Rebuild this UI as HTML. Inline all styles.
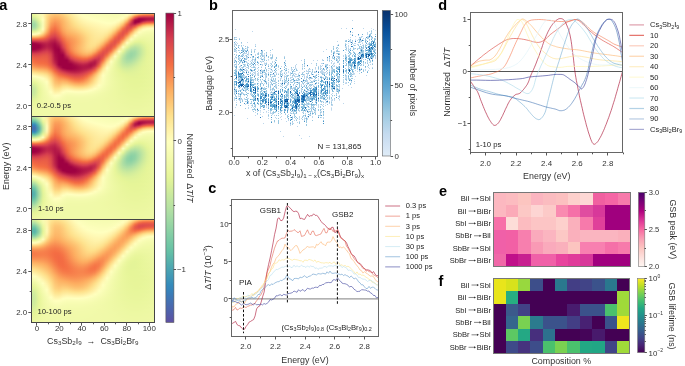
<!DOCTYPE html>
<html><head><meta charset="utf-8"><style>
html,body{margin:0;padding:0;background:#fff;}
body{width:685px;height:366px;overflow:hidden;position:relative;font-family:"Liberation Sans",sans-serif;}
.hm{position:absolute;width:124px;height:103.1px;overflow:hidden;}
.hm i{display:block;height:1.001px;}
svg{position:absolute;left:0;top:0;will-change:transform;}
text{font-family:"Liberation Sans",sans-serif;white-space:pre;}
</style></head><body>
<div class="hm" style="left:31.0px;top:13.10px"><i style="background:linear-gradient(90deg,#ebf7a0,#eff9a6,#f8fcb5,#fff7b1,#fee593,#fed581,#fecd7b,#fecf7d,#feda86,#fee593,#feefa4,#fff8b2,#ffffbe,#fcfebb,#fafdb8,#f9fdb6,#f9fcb5,#f8fcb4,#f7fcb3,#f7fcb2,#f6fbb1,#f5fbb0,#f6fbb0,#f7fcb2,#fafdb7,#fffab7,#fee695,#fecf7d,#fdc271,#fdbc6d,#fdba6b,#fdba6b)"></i><i style="background:linear-gradient(90deg,#e8f69c,#edf8a2,#f7fcb2,#fff7b1,#fee28f,#fece7c,#fdc575,#fec877,#fed380,#fee18d,#feec9e,#fff5ae,#fffcbb,#fdfebd,#fbfeb9,#fafdb8,#f9fdb6,#f9fcb5,#f8fcb4,#f7fcb3,#f7fcb2,#f6fbb1,#f6fcb2,#f8fcb4,#fdfebb,#fff0a7,#fecf7c,#fdad61,#fa9a58,#f99354,#f99153,#f99053)"></i><i style="background:linear-gradient(90deg,#e4f498,#e9f69d,#f5fbaf,#fff7b2,#fee08b,#fec877,#fdbe6f,#fdc271,#fecd7b,#fedd88,#fee99a,#fff2aa,#fffab7,#ffffbe,#fdfebb,#fbfdb9,#fafdb8,#fafdb7,#f9fdb5,#f8fcb4,#f7fcb3,#f7fcb2,#f7fcb3,#fafdb7,#fffdbc,#fee492,#fdaf62,#f67c4a,#f36b44,#f06745,#ef6545,#ef6545)"></i><i style="background:linear-gradient(90deg,#dcf19a,#e6f598,#f2faab,#fff8b4,#fedd89,#fdc272,#fdb869,#fdbb6c,#fec876,#fed884,#fee695,#fff0a6,#fff8b3,#fffebd,#fefebd,#fcfebb,#fbfeb9,#fafdb8,#fafdb7,#f9fdb5,#f8fcb4,#f8fcb4,#f9fcb5,#fcfeba,#fff6b0,#fed07e,#f7824d,#e35449,#dd4a4c,#db484d,#db474d,#db474d)"></i><i style="background:linear-gradient(90deg,#d3ed9c,#dcf19a,#f0f9a7,#fffab7,#fedb87,#fdbd6e,#fdb264,#fdb667,#fdc372,#fed481,#fee491,#feeea2,#fff6b0,#fffcba,#ffffbe,#fdfebc,#fcfebb,#fbfeb9,#fbfdb8,#fafdb7,#f9fdb6,#f9fcb5,#fafdb7,#feffbd,#feeea2,#fdb869,#e85b48,#c82f4c,#c2294b,#c42b4b,#c42b4b,#c42b4b)"></i><i style="background:linear-gradient(90deg,#c9e99e,#d3ed9c,#ecf8a2,#fffcba,#feda86,#fdb869,#fdab60,#fdb163,#fdbf6f,#fed07e,#fee18d,#feec9e,#fff4ac,#fffab6,#fffebd,#feffbe,#fdfebc,#fcfebb,#fbfeb9,#fbfdb8,#fafdb7,#fafdb7,#fbfeb9,#fffcba,#fee492,#fa9957,#d33c4f,#a90d45,#ad1145,#b31847,#b51a47,#b51a47)"></i><i style="background:linear-gradient(90deg,#c0e5a0,#c8e99e,#e9f69d,#ffffbe,#fed885,#fdb466,#fca45d,#fdac60,#fdbb6c,#fecd7b,#fedf8a,#feea9b,#fff2a9,#fff8b3,#fffcba,#fffebe,#feffbe,#fdfebc,#fcfebb,#fbfeb9,#fbfdb8,#fbfdb9,#fdfebc,#fff6b0,#fed682,#f57848,#b61c48,#9e0142,#a50844,#b01546,#b31947,#b41947)"></i><i style="background:linear-gradient(90deg,#b6e2a2,#bfe5a0,#e6f598,#feffbd,#fed884,#fdaf62,#fb9e5a,#fca65d,#fdb869,#feca79,#fedc88,#fee898,#fff0a5,#fff6b0,#fffab6,#fffcbb,#fffebe,#feffbe,#fdfebc,#fcfebb,#fcfeba,#fcfebb,#fffebe,#feefa4,#fdc373,#eb5f47,#a30643,#9e0142,#ab1045,#bc2349,#c1274a,#c2284a)"></i><i style="background:linear-gradient(90deg,#aedea3,#b5e1a2,#dff299,#fcfebb,#fed783,#fdab5f,#fa9857,#fba25b,#fdb567,#fec877,#fed985,#fee694,#feeea2,#fff4ac,#fff8b3,#fffbb8,#fffdbb,#ffffbe,#feffbe,#fdfebc,#fdfebc,#feffbd,#fffab6,#fee797,#fdb063,#df4d4b,#9e0142,#9e0142,#c0264a,#d53e4f,#d8424e,#d9434e)"></i><i style="background:linear-gradient(90deg,#a6dba4,#aedea3,#d9f09b,#fbfdb9,#fed683,#fca55d,#f99254,#fb9e59,#fdb366,#fdc675,#fed783,#fee491,#feec9f,#fff2a9,#fff6b0,#fff9b4,#fffbb8,#fffdbb,#ffffbf,#feffbe,#feffbd,#fffebe,#fff5ae,#fede89,#fa9957,#d6404e,#9e0142,#af1446,#da464d,#e85a48,#eb5f46,#ec6146)"></i><i style="background:linear-gradient(90deg,#a0d9a4,#a7dca4,#d4ee9c,#fafdb8,#fed582,#fba05b,#f88c51,#fa9a58,#fdb264,#fdc474,#fed481,#fee28e,#feea9b,#fff0a5,#fff4ac,#fff7b1,#fff9b5,#fffbb9,#fffdbc,#ffffbe,#ffffbe,#fffbb8,#feefa4,#fecf7c,#f7824d,#ce374d,#aa0f45,#cd354d,#ef6545,#f77f4b,#f8874f,#f88950)"></i><i style="background:linear-gradient(90deg,#9dd8a4,#a3daa4,#d1ed9c,#fafdb7,#fed380,#fa9b58,#f8874f,#fa9656,#fdb063,#fdc372,#fed27f,#fee08b,#fee898,#feeda1,#fff2a9,#fff5ae,#fff7b2,#fff9b6,#fffbb9,#fffdbb,#fffcba,#fff7b2,#fee899,#fdbf6f,#f46e43,#cb334d,#bf264a,#e55649,#f98f52,#fdac60,#fdb264,#fdb366)"></i><i style="background:linear-gradient(90deg,#9dd8a4,#a2daa4,#d0ec9c,#fafdb7,#fed17f,#fa9656,#f7814c,#f99354,#fdaf62,#fdc171,#fed07d,#fedd88,#fee594,#feeb9e,#fff0a5,#fff3ab,#fff6af,#fff8b3,#fffab6,#fffbb8,#fffab6,#fff3ab,#fee18d,#fdaf62,#ec6146,#ce364d,#d7424e,#f67848,#fdb768,#fecb7a,#fed17e,#fed27f)"></i><i style="background:linear-gradient(90deg,#a1d9a4,#a5dba4,#d2ed9c,#fafdb8,#fece7c,#f99053,#f67b4a,#f98f53,#fdad61,#fdbf70,#fecd7b,#feda86,#fee390,#fee99a,#feeea2,#fff1a8,#fff4ad,#fff6b0,#fff8b4,#fff9b5,#fff7b1,#feeea2,#fed582,#fa9a58,#e65749,#d63f4f,#e75a48,#fba25b,#fed380,#fee491,#fee796,#fee898)"></i><i style="background:linear-gradient(90deg,#a8dca4,#abdda4,#d6ef9b,#fcfeba,#fecb79,#f88a50,#f57547,#f88b51,#fdab60,#fdbe6e,#fecb79,#fed683,#fee18c,#fee796,#feec9e,#feefa5,#fff2aa,#fff5ae,#fff7b1,#fff7b2,#fff4ac,#fee999,#fec877,#f8864f,#e1504a,#dc494c,#f57446,#fdc171,#fee796,#fff1a7,#fff4ac,#fff4ad)"></i><i style="background:linear-gradient(90deg,#b2e0a3,#b4e1a2,#ddf19a,#fefebd,#fdc675,#f7834d,#f46f44,#f8874f,#fca85e,#fdbc6c,#fec876,#fed27f,#fedd88,#fee492,#feea9b,#feeea2,#fff1a7,#fff3ab,#fff5ae,#fff5ae,#fff0a6,#fee38f,#fdba6b,#f57446,#df4d4b,#e45549,#f99555,#fed985,#fff2aa,#fffbb8,#fffdbc,#fffebd)"></i><i style="background:linear-gradient(90deg,#bfe5a0,#c0e6a0,#e6f598,#fffdbb,#fdc070,#f67c4a,#f26a44,#f7824d,#fca55d,#fdb96a,#fdc474,#fece7c,#fed985,#fee28e,#fee898,#feec9f,#feefa5,#fff2a9,#fff3ac,#fff3aa,#feeda0,#feda86,#fdab5f,#f06745,#df4d4b,#ee6445,#fdb164,#fee898,#fffbb9,#fdfebc,#fcfeba,#fcfeba)"></i><i style="background:linear-gradient(90deg,#ceeb9d,#d0ec9d,#ebf7a1,#fff6b1,#fdba6b,#f57547,#ee6545,#f67d4a,#fba25b,#fdb668,#fdc171,#feca78,#fed481,#fedf8a,#fee694,#feea9d,#feeea3,#fff1a7,#fff2a9,#fff0a6,#fee899,#fecf7c,#fa9857,#ea5e47,#e1504b,#f57647,#fdc675,#fff2a9,#fdfebc,#fafdb7,#f9fdb5,#f9fcb5)"></i><i style="background:linear-gradient(90deg,#e1f399,#e2f399,#f2faaa,#feefa4,#fdb264,#f46d43,#eb5f47,#f57748,#fb9d59,#fdb365,#fdbd6d,#fdc575,#fed07e,#fedb87,#fee491,#fee99a,#feeda1,#fff0a5,#fff0a7,#feeea2,#fee491,#fdc372,#f8874f,#e65749,#e45549,#f88c51,#fed884,#fffab6,#fafdb7,#f7fcb3,#f7fcb2,#f6fcb2)"></i><i style="background:linear-gradient(90deg,#edf8a3,#edf8a3,#f9fdb6,#fee695,#fca75e,#f06645,#e75a48,#f47045,#fa9857,#fdaf62,#fdb86a,#fdc171,#fecc7a,#fed884,#fee28e,#fee898,#feec9f,#feeea3,#feefa4,#feeb9d,#fede89,#fdb668,#f57647,#e3534a,#ea5e47,#fba35c,#fee594,#feffbe,#f8fcb3,#f5fbb0,#f5fbaf,#f5fbaf)"></i><i style="background:linear-gradient(90deg,#f7fcb3,#f7fcb2,#fffbb9,#feda86,#fa9a58,#eb6046,#e35449,#f26a44,#f99254,#fdab5f,#fdb466,#fdbc6d,#fec776,#fed481,#fee08b,#fee696,#feeb9d,#feeda1,#feeda1,#fee898,#fed582,#fca85e,#f26944,#e2524a,#f16844,#fdb768,#feeea3,#fbfdb9,#f6fbb0,#f4fbae,#f3faad,#f3faad)"></i><i style="background:linear-gradient(90deg,#fffab7,#fffbb8,#feec9f,#fec877,#f88c51,#e75948,#df4d4b,#ee6445,#f88c51,#fca55d,#fdb062,#fdb869,#fdc373,#fed17e,#fede89,#fee594,#feea9c,#feeca0,#feeb9e,#fee492,#fecb79,#fa9857,#ec6046,#e3534a,#f67848,#fec877,#fff7b1,#f8fcb4,#f4faad,#f2faab,#f2faab,#f2faab)"></i><i style="background:linear-gradient(90deg,#fee796,#fee798,#fed985,#fdb567,#f67c4a,#e2514a,#db474d,#ea5e47,#f7854e,#fb9f5a,#fdaa5f,#fdb365,#fdbf6f,#fecd7b,#fedc87,#fee492,#fee99a,#feeb9e,#fee99b,#fee08c,#fdc070,#f8884f,#e75a48,#e65749,#f88b51,#fed985,#fffebe,#f5fbb0,#f2faab,#f1f9a9,#f1f9a9,#f1faaa)"></i><i style="background:linear-gradient(90deg,#feca79,#fecc7a,#fdbe6e,#fb9e5a,#f46d43,#dd4a4c,#d6404e,#e65848,#f67d4b,#fa9957,#fca55d,#fdaf62,#fdbc6c,#fecb79,#feda86,#fee491,#fee999,#feea9c,#fee797,#fed985,#fdb567,#f67848,#e45549,#ea5e47,#fba05a,#fee694,#fbfeb9,#f3faac,#f0f9a8,#f0f9a8,#f0f9a8,#f1f9a8)"></i><i style="background:linear-gradient(90deg,#fca95f,#fdac60,#fb9f5a,#f7854e,#ec6146,#d8424e,#cf384e,#e2514a,#f57647,#f99355,#fba05a,#fdab60,#fdb96a,#fec877,#fed884,#fee390,#fee898,#fee99a,#fee593,#fed17f,#fca85e,#f36b44,#e3534a,#f06745,#fdb466,#feefa5,#f7fcb3,#f0f9a8,#eff8a5,#eff9a6,#eff9a7,#f0f9a7)"></i><i style="background:linear-gradient(90deg,#f7814c,#f7854e,#f67d4a,#f36c43,#e45549,#d1394e,#c82f4c,#dd4a4c,#f46e43,#f88d52,#fa9b58,#fca75e,#fdb668,#fdc776,#fed783,#fee38f,#fee797,#fee898,#fee18d,#fec877,#fa9857,#ed6246,#e3534a,#f57446,#fdc574,#fff9b5,#f4faad,#eef8a4,#edf8a3,#eef8a4,#eff8a6,#eff9a6)"></i><i style="background:linear-gradient(90deg,#eb6046,#ed6346,#ec6146,#e85a48,#dd4a4c,#c9304c,#c0274a,#d9434e,#f16844,#f8884f,#fa9757,#fca45c,#fdb466,#fdc575,#fed683,#fee28f,#fee796,#fee695,#fedd88,#fdbe6f,#f88850,#e85b48,#e55649,#f7854e,#fed783,#fdfebc,#f0f9a7,#ebf7a0,#ebf7a0,#edf8a3,#eef8a5,#eff9a6)"></i><i style="background:linear-gradient(90deg,#db464d,#dd4a4c,#de4c4b,#dd4a4c,#d6404e,#c1284a,#b91f48,#d43c4f,#ed6246,#f7834d,#f99455,#fba25b,#fdb365,#fdc574,#fed682,#fee28e,#fee695,#fee492,#fed682,#fdb365,#f67949,#e45549,#e85b48,#fa9957,#fee593,#f8fcb4,#ecf7a1,#e8f69c,#eaf69e,#ecf7a1,#edf8a4,#eef8a5)"></i><i style="background:linear-gradient(90deg,#c52c4b,#ca324c,#cf374e,#d33c4e,#cd354d,#bb2149,#b31847,#cc344d,#e95c47,#f67e4b,#f99254,#fba05b,#fdb264,#fdc474,#fed682,#fee28e,#fee594,#fee28e,#fece7c,#fca65d,#f36b43,#e2524a,#ed6346,#fdae61,#fff0a6,#f3faac,#e8f69b,#e5f598,#e8f69b,#ebf7a0,#edf8a3,#eef8a4)"></i><i style="background:linear-gradient(90deg,#af1446,#b51a47,#bc2349,#c52c4b,#c52c4b,#b61b48,#ad1246,#c52c4b,#e55749,#f67949,#f99053,#fb9f5a,#fdb264,#fdc474,#fed683,#fee28e,#fee492,#fedf8a,#fdc574,#fa9656,#ed6246,#e2514a,#f46d43,#fdc070,#fffbb8,#eef8a4,#e2f399,#dff299,#e6f598,#eaf79e,#ecf8a2,#eef8a4)"></i><i style="background:linear-gradient(90deg,#9f0242,#a40843,#ae1246,#ba2049,#be254a,#b21747,#a80c44,#be254a,#e2524a,#f57547,#f98e52,#fba05a,#fdb265,#fdc574,#fed683,#fee28e,#fee390,#fed985,#fdbb6c,#f8874f,#e85b48,#e3544a,#f67d4b,#fed27f,#fbfeb9,#e9f69c,#d9f09b,#d9f09b,#e3f499,#e9f69d,#ecf7a1,#edf8a3)"></i><i style="background:linear-gradient(90deg,#9e0142,#9e0142,#a40743,#b31847,#ba2149,#b01546,#a50844,#b81e48,#de4c4b,#f57145,#f88d52,#fba05b,#fdb365,#fdc575,#fed783,#fee18d,#fee18d,#fed280,#fdb063,#f57748,#e45549,#e65848,#f99153,#fee28f,#f6fbb0,#e1f399,#d0ec9c,#d3ed9c,#dff299,#e8f69b,#ebf7a0,#edf8a3)"></i><i style="background:linear-gradient(90deg,#9e0142,#9e0142,#9e0142,#af1446,#b91f48,#b01546,#a20643,#b21747,#db474d,#f46d43,#f88d52,#fba15b,#fdb466,#fdc675,#fed783,#fee18c,#fedf8a,#feca79,#fba25b,#f26a44,#e2524a,#eb6046,#fca65d,#feeea2,#f0f9a7,#d6ef9b,#c8e99e,#cdeb9d,#dcf19a,#e7f69a,#ebf7a0,#edf8a3)"></i><i style="background:linear-gradient(90deg,#9e0142,#9e0142,#9e0142,#ae1346,#ba2049,#b11646,#a10443,#ac1145,#d8424e,#f26a44,#f88c51,#fba15b,#fdb567,#fdc676,#fed783,#fedf8a,#feda86,#fdc171,#f99254,#ec6146,#e2514a,#f26a44,#fdb96a,#fff9b5,#eaf79f,#ccea9d,#c0e5a0,#c8e99e,#d9f09b,#e7f599,#ebf79f,#edf8a2)"></i><i style="background:linear-gradient(90deg,#9e0142,#9e0142,#9e0142,#b11646,#bd2449,#b41947,#a00342,#a70b44,#d33c4f,#f06745,#f88a51,#fba25b,#fdb567,#fdc776,#fed682,#fedd88,#fed481,#fdb769,#f7824d,#e75948,#e3534a,#f67949,#fecb7a,#fcfebb,#e4f498,#c2e69f,#b8e2a1,#c3e79f,#d6ef9b,#e6f598,#eaf79f,#ecf8a2)"></i><i style="background:linear-gradient(90deg,#9e0142,#9e0142,#a40743,#b61c48,#c2294b,#b71d48,#a00342,#a30643,#cd354d,#ed6346,#f88850,#fba25b,#fdb567,#fdc675,#fed481,#fed985,#fecd7b,#fdab60,#f57246,#e35449,#e65848,#f88c51,#fede89,#f6fbb1,#d8ef9b,#b9e3a1,#b2e0a3,#bfe5a0,#d4ee9c,#e6f598,#eaf79e,#ecf7a2)"></i><i style="background:linear-gradient(90deg,#9e0142,#a10543,#ac1045,#bd2449,#c9304c,#bc2249,#a10443,#9e0142,#c62d4b,#ea5e47,#f7854e,#fba05b,#fdb466,#fdc574,#fed27f,#fed581,#fdc474,#fa9b58,#f06645,#e1514a,#eb5f46,#fba15b,#feea9c,#f0f9a8,#cdeb9d,#b1dfa3,#addea4,#bce4a1,#d3ed9c,#e5f498,#eaf79e,#ecf7a1)"></i><i style="background:linear-gradient(90deg,#ab0f45,#ac1145,#b61b48,#c62d4b,#d0384e,#c1284a,#a20543,#9e0142,#bf264a,#e75948,#f7814c,#fb9e59,#fdb265,#fdc272,#fece7c,#fece7c,#fdba6b,#f88b51,#ea5d47,#e1504a,#f16944,#fdb567,#fff5ae,#ebf7a0,#c4e79f,#aadca4,#a8dca4,#bae3a1,#d2ed9c,#e4f498,#eaf69e,#ecf7a1)"></i><i style="background:linear-gradient(90deg,#b81e48,#b91e48,#c1284a,#cf384e,#d6404e,#c72e4c,#a40743,#9e0142,#b81e48,#e3534a,#f67b4a,#fa9958,#fdaf62,#fdbf6f,#fec978,#fdc776,#fdaf62,#f67a49,#e45549,#e2524a,#f67848,#fdc776,#ffffbf,#e6f599,#bbe4a1,#a3daa4,#a4daa4,#b9e3a1,#d1ed9c,#e4f498,#eaf69e,#ecf7a1)"></i><i style="background:linear-gradient(90deg,#c62e4c,#c52d4b,#cc344d,#d7414e,#db464d,#cc344d,#a50944,#9e0142,#b01546,#df4d4b,#f57446,#f99455,#fcaa5f,#fdba6b,#fdc373,#fdbe6e,#fb9e5a,#f26a44,#e1504a,#e65749,#f88b51,#fed884,#f9fdb6,#ddf19a,#b4e1a2,#9ed8a4,#a2daa4,#b9e3a1,#d1ed9c,#e4f498,#e9f69d,#ecf7a1)"></i><i style="background:linear-gradient(90deg,#d43d4f,#d23a4e,#d6404f,#dc494c,#df4c4b,#d13a4e,#a70b44,#9e0142,#a90d45,#da464d,#f36c43,#f88c51,#fba25c,#fdb365,#fdbb6c,#fdb365,#f88c51,#eb5f47,#de4c4b,#ea5e47,#fb9f5a,#fee694,#f4fbae,#d4ee9c,#aedea3,#9ad6a4,#a2d9a4,#b9e3a1,#d2ed9c,#e4f498,#e9f69d,#ebf7a0)"></i><i style="background:linear-gradient(90deg,#dc484c,#da454d,#dc484c,#e1504a,#e2524a,#d53e4f,#a90d45,#9e0142,#a20543,#d53e4f,#ee6445,#f7824d,#fa9957,#fdab5f,#fdb164,#fca35c,#f67949,#e45449,#de4b4c,#f06844,#fdb265,#feefa5,#f0f9a7,#cceb9d,#a9dca4,#99d6a4,#a3daa4,#bbe3a1,#d3ed9c,#e4f498,#e9f69d,#ebf7a0)"></i><i style="background:linear-gradient(90deg,#e2524a,#df4e4b,#e04f4b,#e55649,#e55649,#d7424e,#aa0f45,#9e0142,#9e0142,#cb334d,#e95c47,#f57748,#f98e52,#fb9e5a,#fca45c,#f99154,#f06844,#dd4b4c,#de4c4b,#f57547,#fdc272,#fff8b4,#ecf7a1,#c6e89e,#a5dba4,#98d6a4,#a5dba4,#bde4a0,#d4ee9c,#e5f498,#e9f69d,#ebf7a0)"></i><i style="background:linear-gradient(90deg,#e85b48,#e45549,#e55649,#e85b48,#e75a48,#d9444d,#ac1145,#9e0142,#9e0142,#c1284a,#e3534a,#f36b43,#f7814c,#f99053,#f99355,#f67d4b,#e75948,#d8434e,#e1504b,#f7864f,#fed27f,#feffbe,#e9f69c,#c2e69f,#a3daa4,#9ad6a4,#a8dca4,#c0e5a0,#d6ef9b,#e5f598,#e9f69d,#ebf7a0)"></i><i style="background:linear-gradient(90deg,#ed6246,#e85b48,#e85b48,#ea5e47,#e95c47,#db474d,#ae1346,#9e0142,#9e0142,#b81d48,#dc494c,#ec6146,#f57245,#f7814c,#f7814c,#f26a44,#de4c4c,#d43d4f,#e45549,#fa9857,#fee18c,#fafdb7,#e6f598,#bee5a0,#a3daa4,#9dd7a4,#acdea4,#c3e79f,#d8ef9b,#e6f598,#e9f69d,#ebf7a0)"></i><i style="background:linear-gradient(90deg,#f16844,#ec6046,#eb5f47,#ec6146,#eb5f47,#dc484c,#b01546,#9e0142,#9e0142,#ae1346,#d63f4f,#e55649,#ef6545,#f47044,#f46e44,#e85a48,#d63f4f,#d0384e,#e95d47,#fdab5f,#fee99a,#f7fcb2,#e1f399,#bce4a0,#a4daa4,#a1d9a4,#b1dfa3,#c6e89e,#daf09b,#e6f598,#e9f69d,#ebf7a0)"></i><i style="background:linear-gradient(90deg,#f46e43,#ee6445,#ed6246,#ee6445,#ec6046,#dd4a4c,#b21747,#9e0142,#9e0142,#a50944,#ca324c,#de4b4c,#e75a48,#ed6346,#eb6046,#de4b4c,#c9314c,#ce374d,#ef6645,#fdba6b,#fff1a7,#f4faad,#def29a,#bce4a1,#a7dba4,#a6dba4,#b5e1a2,#caea9e,#dbf19a,#e6f599,#e9f69d,#ebf79f)"></i><i style="background:linear-gradient(90deg,#f57446,#f16844,#ef6545,#ef6645,#ed6246,#de4c4b,#b51b47,#9e0142,#9e0142,#9e0142,#bf264a,#d6404e,#e04e4b,#e55649,#e2524a,#d43d4f,#be254a,#d0384e,#f57145,#fec776,#fff8b3,#f1f9a9,#dbf19a,#bce4a1,#abdda4,#acdda4,#bae3a1,#cdeb9d,#ddf19a,#e7f599,#e9f69d,#ebf79f)"></i><i style="background:linear-gradient(90deg,#f67a49,#f36c43,#f16844,#f16844,#ee6445,#e04e4b,#b91f48,#9e0142,#9e0142,#9e0142,#b41a47,#cb334d,#d8434e,#dd4a4c,#d9454d,#c62d4b,#b71c48,#d43d4f,#f7804c,#fed481,#fffebd,#eff9a6,#daf09a,#bee5a0,#afdfa3,#b1dfa3,#bfe5a0,#d1ec9c,#dff299,#e7f599,#e9f69d,#ebf79f)"></i><i style="background:linear-gradient(90deg,#f7804c,#f47045,#f36b43,#f36b43,#f06645,#e2514a,#bd2349,#9e0142,#9e0142,#9e0142,#ab1045,#bf264a,#ce364d,#d53e4f,#cf374e,#ba2049,#b31847,#d8434e,#f99153,#fee08c,#fdfebc,#eef8a4,#d9f09b,#c0e6a0,#b3e0a2,#b6e2a2,#c4e79f,#d4ee9c,#e0f399,#e7f599,#e9f69d,#ebf79f)"></i><i style="background:linear-gradient(90deg,#f8874f,#f57747,#f47044,#f46f44,#f26a44,#e45549,#c2294b,#9e0142,#9e0142,#9e0142,#a30743,#b51b48,#c3294b,#ca314c,#c32a4b,#b11747,#b21847,#de4b4c,#fba15b,#fee797,#fafdb8,#edf8a2,#daf09b,#c3e79f,#b9e3a1,#bce4a1,#c9e99e,#d7ef9b,#e1f399,#e7f59a,#e9f69d,#eaf79f)"></i><i style="background:linear-gradient(90deg,#f98f53,#f67e4b,#f57748,#f57647,#f46e43,#e75948,#c9304c,#9e0142,#9e0142,#9e0142,#9e0142,#ad1246,#b91f48,#c0264a,#ba2049,#ad1145,#b61c48,#e45549,#fdb164,#feeea2,#f8fcb5,#ecf7a1,#dbf09a,#c7e89e,#bee5a0,#c2e69f,#cdeb9d,#d9f09b,#e2f499,#e7f59a,#e9f69c,#eaf79f)"></i><i style="background:linear-gradient(90deg,#fa9857,#f8874f,#f7804c,#f67e4b,#f57547,#ea5e47,#d0384e,#a40844,#9e0142,#9e0142,#9e0142,#a70b44,#b21747,#b81e48,#b51a47,#ac1045,#bd2449,#ec6146,#fdbe6e,#fff3ab,#f7fcb2,#ebf7a1,#dcf19a,#caea9e,#c3e79f,#c7e89e,#d1ec9c,#dbf19a,#e3f499,#e7f59a,#e9f69c,#eaf79f)"></i><i style="background:linear-gradient(90deg,#fba25c,#f99254,#f88a50,#f8874f,#f67f4b,#ee6545,#d7404e,#ad1246,#9e0142,#9e0142,#9e0142,#a30743,#ad1246,#b41947,#b21747,#af1446,#c82f4c,#f46e43,#feca79,#fff8b4,#f5fbb0,#ebf7a0,#def29a,#ceeb9d,#c8e99e,#ccea9d,#d5ee9c,#ddf19a,#e4f498,#e7f59a,#e9f69c,#eaf79f)"></i><i style="background:linear-gradient(90deg,#fdae61,#fb9e5a,#fa9656,#f99355,#f88950,#f36c43,#dc484c,#b71d48,#9e0142,#9e0142,#9e0142,#a20543,#ab0f45,#b21747,#b31847,#b61c48,#d53e4f,#f7814c,#fed683,#fffdbb,#f4fbae,#ebf7a0,#e0f299,#d2ed9c,#cdeb9d,#d0ec9c,#d8ef9b,#dff299,#e5f498,#e7f59a,#e9f69c,#eaf79e)"></i><i style="background:linear-gradient(90deg,#fdb86a,#fdac60,#fca45c,#fba05b,#fa9556,#f57747,#e1514a,#c2294b,#a80c44,#9e0142,#9e0142,#a30743,#ab0f45,#b31847,#b71d48,#c0274a,#de4c4b,#f99455,#fee18c,#feffbe,#f3faac,#ebf7a0,#e2f399,#d6ef9b,#d2ed9c,#d4ee9c,#daf09a,#e0f399,#e5f598,#e7f59a,#e9f69c,#eaf79e)"></i><i style="background:linear-gradient(90deg,#fdc473,#fdb86a,#fdb264,#fdae61,#fba25c,#f7834d,#e75948,#ce364d,#b41947,#a70b44,#a40743,#a70b44,#ae1246,#b61c48,#be254a,#cd354d,#e85a48,#fca75e,#fee797,#fcfebb,#f2faab,#ebf7a0,#e4f498,#daf09b,#d6ee9b,#d8ef9b,#dcf19a,#e1f399,#e5f598,#e7f59a,#e9f69c,#eaf79e)"></i><i style="background:linear-gradient(90deg,#fecf7d,#fdc574,#fdbe6f,#fdba6b,#fdb062,#f98f53,#ed6246,#d8424e,#c0274a,#b21747,#ac1045,#ad1145,#b31847,#bc2349,#c72f4c,#d9434e,#f26a44,#fdb769,#feeda0,#fbfdb8,#f2faaa,#ebf7a0,#e6f598,#ddf19a,#d9f09b,#dbf09a,#def29a,#e2f399,#e6f598,#e7f59a,#e9f69c,#eaf79e)"></i><i style="background:linear-gradient(90deg,#fedc88,#fed27f,#fecb79,#fdc675,#fdbb6c,#fb9c59,#f36b43,#de4c4b,#ce364d,#be254a,#b61b48,#b41a47,#ba2049,#c42b4b,#d23b4e,#e1514a,#f67d4a,#fdc474,#fff2a9,#f9fdb6,#f1f9a9,#ebf7a0,#e7f599,#e0f299,#dcf19a,#ddf19a,#e0f299,#e3f499,#e6f598,#e7f59a,#e9f69c,#eaf79e)"></i><i style="background:linear-gradient(90deg,#fee594,#fedf8b,#fed884,#fed27f,#fdc675,#fca95f,#f57748,#e55749,#d9444e,#cb334d,#c1274a,#be2449,#c2294b,#cd354d,#da464d,#ea5e47,#f99154,#fed07e,#fff6b0,#f8fcb4,#f1f9a9,#ebf7a1,#e7f69a,#e2f399,#dff299,#dff299,#e1f399,#e3f499,#e6f598,#e7f59a,#e9f69c,#eaf79e)"></i><i style="background:linear-gradient(90deg,#feeda2,#fee899,#fee390,#fede89,#fed17f,#fdb466,#f7834d,#ec6146,#e1504b,#d7414e,#cd354d,#c8304c,#cc344d,#d6404e,#e1514a,#f36b43,#fca35c,#fedb87,#fffab6,#f7fcb3,#f0f9a8,#ecf7a1,#e8f69b,#e4f498,#e1f399,#e1f399,#e2f399,#e4f498,#e6f598,#e7f59a,#e9f69c,#eaf79e)"></i><i style="background:linear-gradient(90deg,#fff5af,#fff0a6,#feeb9d,#fee695,#fedc87,#fdbd6e,#f98e52,#f26a44,#e85b48,#df4e4b,#d8424e,#d33c4f,#d63f4f,#dc494c,#e85b48,#f67c4a,#fdb365,#fee28f,#fffdbb,#f6fcb2,#f0f9a8,#ecf7a1,#e8f69c,#e6f598,#e3f499,#e2f399,#e3f499,#e4f498,#e6f598,#e7f69a,#e9f69c,#eaf79e)"></i><i style="background:linear-gradient(90deg,#fffdbc,#fff8b4,#fff2aa,#feeda1,#fee391,#fdc575,#fa9857,#f57647,#f06745,#e75a48,#df4d4b,#da464d,#dc484c,#e2524a,#ef6645,#f88b51,#fdbe6e,#fee797,#ffffbf,#f6fbb1,#f0f9a8,#ecf7a1,#e9f69c,#e7f599,#e4f498,#e3f499,#e3f499,#e5f498,#e6f598,#e7f69a,#e9f69c,#eaf79e)"></i><i style="background:linear-gradient(90deg,#fcfeba,#feffbe,#fff9b6,#fff3ab,#fee99a,#fecd7b,#fba15b,#f7814c,#f57446,#ef6545,#e65848,#e1504a,#e1514a,#e85b48,#f47044,#fa9957,#fdc776,#feeb9e,#feffbd,#f5fbb0,#f0f9a8,#ecf7a2,#e9f69d,#e7f59a,#e5f598,#e4f498,#e4f498,#e5f598,#e6f598,#e7f69a,#e9f69c,#eaf79e)"></i><i style="background:linear-gradient(90deg,#f7fcb3,#fafdb7,#feffbe,#fff9b5,#feeea3,#fed481,#fca95f,#f88c51,#f7824d,#f57346,#ed6346,#e75a48,#e75a48,#ee6445,#f67c4a,#fca65d,#fecf7d,#feeea3,#fdfebc,#f5fbb0,#f0f9a8,#ecf8a2,#eaf69d,#e7f69a,#e6f598,#e5f498,#e4f498,#e5f598,#e6f599,#e7f69a,#e9f69c,#eaf79e)"></i><i style="background:linear-gradient(90deg,#f3faad,#f6fbb1,#fbfdb9,#fffebe,#fff3ab,#feda86,#fdaf62,#fa9656,#f99053,#f7824d,#f46e43,#ee6445,#ed6346,#f46c43,#f8884f,#fdb063,#fed682,#fff1a7,#fcfebb,#f5fbaf,#f0f9a8,#ecf8a2,#eaf79e,#e8f69b,#e6f599,#e5f598,#e5f598,#e5f598,#e6f599,#e7f69a,#e9f69c,#eaf79e)"></i><i style="background:linear-gradient(90deg,#f0f9a7,#f2faab,#f8fcb4,#fdfebc,#fff7b2,#fedf8a,#fdb466,#fb9f5a,#fb9d59,#f99153,#f67c4a,#f46d43,#f36c43,#f57848,#f99355,#fdb869,#fedb87,#fff3ab,#fcfeba,#f5fbaf,#f0f9a8,#edf8a2,#eaf79e,#e8f69b,#e7f599,#e6f598,#e5f598,#e6f598,#e7f599,#e8f69a,#e9f69c,#eaf79e)"></i><i style="background:linear-gradient(90deg,#ecf7a1,#eff8a5,#f5fbb0,#fbfdb8,#fffab7,#fee28f,#fdb86a,#fca75e,#fca95f,#fb9f5a,#f88b51,#f67b4a,#f67848,#f7844d,#fb9e5a,#fdbf6f,#fee08c,#fff5ae,#fbfeba,#f5fbaf,#f0f9a8,#edf8a2,#eaf79f,#e8f69c,#e7f599,#e6f598,#e6f598,#e6f598,#e7f599,#e8f69b,#e9f69c,#eaf79f)"></i><i style="background:linear-gradient(90deg,#e8f69c,#ebf7a0,#f3faac,#f9fcb5,#fffebd,#fee593,#fdbd6d,#fdaf62,#fdb466,#fdad61,#fa9957,#f88950,#f7854e,#f99053,#fca95f,#fdc675,#fee491,#fff7b1,#fbfdb9,#f5fbaf,#f0f9a8,#edf8a3,#eaf79f,#e8f69c,#e7f59a,#e6f599,#e6f598,#e6f598,#e7f599,#e8f69b,#e9f69d,#eaf79f)"></i><i style="background:linear-gradient(90deg,#e4f498,#e8f69b,#f0f9a8,#f7fcb2,#feffbe,#fee797,#fdc171,#fdb567,#fdbd6d,#fdb96a,#fca85e,#fa9857,#f99355,#fb9d59,#fdb365,#fecd7b,#fee796,#fff8b4,#fbfdb8,#f4fbae,#f0f9a8,#edf8a3,#eaf79f,#e9f69c,#e7f69a,#e6f599,#e6f598,#e6f598,#e7f599,#e8f69b,#e9f69d,#eaf79f)"></i><i style="background:linear-gradient(90deg,#ddf19a,#e4f498,#eef8a5,#f5fbb0,#fdfebc,#feea9b,#fdc574,#fdbb6c,#fdc675,#fdc373,#fdb567,#fca85e,#fba35c,#fdab60,#fdbc6d,#fed581,#feea9c,#fffab7,#fafdb7,#f4fbae,#f0f9a8,#edf8a3,#ebf79f,#e9f69c,#e8f69a,#e7f599,#e6f598,#e6f599,#e7f59a,#e8f69b,#e9f69d,#eaf79f)"></i><i style="background:linear-gradient(90deg,#d6ef9b,#def29a,#edf8a2,#f4fbae,#fcfeba,#feec9f,#feca78,#fdc272,#fecf7d,#fecf7c,#fdc271,#fdb667,#fdb264,#fdb769,#fdc776,#fedd88,#feeea2,#fffdbb,#f9fdb6,#f4fbae,#f0f9a7,#edf8a3,#ebf79f,#e9f69d,#e8f69b,#e7f599,#e6f599,#e7f599,#e7f59a,#e8f69b,#e9f69d,#ebf79f)"></i><i style="background:linear-gradient(90deg,#d1ec9c,#d9f09b,#ebf7a0,#f3faac,#fbfdb8,#feeea3,#fecf7c,#fec978,#fed884,#feda86,#fece7c,#fdc373,#fdbf6f,#fdc473,#fed27f,#fee491,#fff2a9,#ffffbf,#f8fcb5,#f3faad,#f0f9a7,#edf8a3,#ebf79f,#e9f69d,#e8f69b,#e7f59a,#e7f599,#e7f599,#e7f69a,#e8f69b,#e9f69d,#ebf79f)"></i><i style="background:linear-gradient(90deg,#ccea9d,#d5ee9c,#eaf79e,#f2faab,#fafdb7,#fff1a7,#fed481,#fed07e,#fee18c,#fee390,#fedb87,#fed07e,#fecd7b,#fed17e,#fedd89,#fee99b,#fff6b0,#fdfebc,#f7fcb3,#f3faac,#eff9a7,#edf8a3,#ebf7a0,#e9f69d,#e8f69b,#e7f59a,#e7f599,#e7f599,#e7f69a,#e8f69c,#eaf69d,#ebf79f)"></i><i style="background:linear-gradient(90deg,#c8e99e,#d1ec9c,#e9f69c,#f1faaa,#f9fdb5,#fff3ab,#feda86,#fed884,#fee796,#feea9b,#fee492,#fede89,#feda86,#fede89,#fee594,#feefa4,#fffab7,#fcfeba,#f6fcb2,#f2faab,#eff9a6,#edf8a3,#ebf7a0,#e9f69d,#e8f69b,#e7f69a,#e7f59a,#e7f59a,#e8f69b,#e9f69c,#eaf69e,#ebf7a0)"></i><i style="background:linear-gradient(90deg,#c5e79f,#ceeb9d,#e8f69b,#f1f9a9,#f8fcb4,#fff6af,#fee08c,#fee08b,#feec9f,#fff0a6,#feec9f,#fee797,#fee594,#fee797,#feeda0,#fff5ae,#ffffbe,#fafdb7,#f5fbb0,#f2faaa,#eff9a6,#edf8a3,#ebf7a0,#e9f69d,#e8f69c,#e8f69a,#e7f59a,#e7f69a,#e8f69b,#e9f69c,#eaf79e,#ebf7a0)"></i><i style="background:linear-gradient(90deg,#c3e79f,#ccea9d,#e7f69a,#f0f9a8,#f7fcb3,#fff8b4,#fee493,#fee593,#fff1a8,#fff6b0,#fff3ab,#feefa4,#feeda1,#feefa4,#fff4ac,#fffbb8,#fdfebc,#f8fcb5,#f4fbaf,#f1faaa,#eff8a6,#edf8a2,#ebf7a0,#eaf69e,#e9f69c,#e8f69b,#e7f69a,#e8f69a,#e8f69b,#e9f69d,#eaf79e,#ebf7a0)"></i><i style="background:linear-gradient(90deg,#c2e69f,#cbea9d,#e7f59a,#f0f9a7,#f6fcb2,#fffbb9,#fee99a,#feea9c,#fff7b1,#fffcba,#fffab6,#fff6b0,#fff5ae,#fff6b0,#fffab7,#feffbe,#fbfdb8,#f7fcb2,#f3faad,#f1f9a9,#eef8a5,#edf8a2,#ebf7a0,#eaf69e,#e9f69c,#e8f69b,#e8f69b,#e8f69b,#e8f69c,#e9f69d,#eaf79e,#ebf7a0)"></i><i style="background:linear-gradient(90deg,#c2e69f,#cbea9d,#e7f59a,#f0f9a7,#f6fbb0,#fffebd,#feeda1,#feefa4,#fffbb9,#feffbd,#ffffbe,#fffdbb,#fffcba,#fffdbb,#feffbe,#fcfeba,#f8fcb5,#f5fbb0,#f3faac,#f0f9a8,#eef8a5,#edf8a2,#ebf7a0,#eaf79e,#e9f69d,#e8f69b,#e8f69b,#e8f69b,#e8f69c,#e9f69d,#eaf79f,#ebf7a0)"></i><i style="background:linear-gradient(90deg,#c3e79f,#ccea9d,#e7f59a,#eff9a6,#f5fbaf,#feffbe,#fff2a8,#fff4ac,#ffffbe,#fbfdb9,#fcfeba,#fdfebc,#fdfebd,#fdfebc,#fbfeb9,#f9fdb6,#f7fcb2,#f4fbae,#f2faaa,#f0f9a7,#eef8a5,#edf8a2,#ebf7a0,#eaf79e,#e9f69d,#e8f69c,#e8f69b,#e8f69b,#e9f69c,#e9f69d,#eaf79f,#ecf7a1)"></i><i style="background:linear-gradient(90deg,#c5e89f,#ceeb9d,#e7f69a,#eff9a6,#f4fbae,#fdfebb,#fff6b0,#fff8b3,#fcfebb,#f9fdb6,#f9fdb6,#fafdb7,#fafdb8,#fafdb7,#f9fdb5,#f7fcb3,#f5fbb0,#f3faac,#f1f9a9,#eff9a7,#eef8a4,#edf8a2,#ebf7a0,#eaf79f,#e9f69d,#e9f69c,#e8f69c,#e8f69c,#e9f69d,#eaf69e,#ebf79f,#ecf7a1)"></i><i style="background:linear-gradient(90deg,#c8e99e,#d0ec9c,#e8f69b,#eff9a6,#f4fbae,#fbfdb9,#fffab7,#fffcba,#fafdb8,#f7fcb3,#f7fcb3,#f8fcb4,#f8fcb4,#f8fcb4,#f7fcb2,#f5fbb0,#f4fbad,#f2faab,#f1f9a9,#eff9a6,#eef8a4,#edf8a2,#ebf7a0,#eaf79f,#eaf69d,#e9f69d,#e9f69c,#e9f69c,#e9f69d,#eaf79e,#ebf79f,#ecf7a1)"></i><i style="background:linear-gradient(90deg,#ccea9d,#d3ed9c,#e8f69b,#eff9a6,#f3faad,#fafdb7,#fffebd,#feffbe,#f9fcb5,#f6fbb0,#f5fbb0,#f6fbb1,#f6fbb1,#f6fbb1,#f5fbaf,#f4fbae,#f3faac,#f1faaa,#f0f9a8,#eff9a6,#eef8a4,#edf8a2,#ecf7a1,#ebf79f,#eaf69e,#e9f69d,#e9f69c,#e9f69d,#e9f69d,#eaf79e,#ebf7a0,#ecf7a1)"></i><i style="background:linear-gradient(90deg,#d0ec9d,#d7ef9b,#e9f69c,#eff9a6,#f3faac,#f8fcb5,#fefebd,#fcfebb,#f7fcb3,#f4fbae,#f4fbae,#f4fbae,#f4fbaf,#f4fbae,#f4faad,#f3faac,#f2faab,#f1f9a9,#f0f9a7,#eff9a6,#eef8a4,#edf8a2,#ecf7a1,#ebf79f,#eaf79e,#e9f69d,#e9f69d,#e9f69d,#eaf69e,#eaf79f,#ebf7a0,#ecf7a1)"></i><i style="background:linear-gradient(90deg,#d4ee9c,#daf09a,#e9f69d,#eff9a6,#f2faab,#f7fcb3,#fcfeba,#fafdb8,#f6fbb1,#f3faad,#f3faac,#f3faad,#f3faad,#f3faac,#f3faac,#f2faab,#f1faaa,#f0f9a8,#f0f9a7,#eff8a6,#eef8a4,#edf8a3,#ecf7a1,#ebf7a0,#eaf79e,#eaf69e,#e9f69d,#e9f69d,#eaf79e,#ebf79f,#ebf7a0,#ecf7a2)"></i><i style="background:linear-gradient(90deg,#d9f09b,#def29a,#eaf79f,#eff9a6,#f2faab,#f6fbb1,#fafdb7,#f9fdb5,#f5fbaf,#f3faac,#f2faab,#f2faab,#f2faab,#f2faab,#f2faab,#f1faaa,#f1f9a9,#f0f9a8,#eff9a7,#eff8a5,#eef8a4,#edf8a3,#ecf7a1,#ebf7a0,#eaf79f,#eaf79e,#eaf69e,#eaf69e,#eaf79e,#ebf79f,#ecf7a1,#ecf8a2)"></i><i style="background:linear-gradient(90deg,#ddf19a,#e2f399,#ebf7a0,#eff9a6,#f2faaa,#f5fbb0,#f8fcb5,#f7fcb3,#f4fbae,#f2faab,#f2faaa,#f2faaa,#f2faaa,#f2faaa,#f1faaa,#f1f9a9,#f0f9a8,#f0f9a7,#eff9a6,#eff8a5,#eef8a4,#edf8a3,#ecf7a2,#ebf7a0,#ebf79f,#eaf79e,#eaf79e,#eaf79e,#eaf79f,#ebf7a0,#ecf7a1,#edf8a2)"></i><i style="background:linear-gradient(90deg,#e2f399,#e6f598,#ecf7a1,#eff9a6,#f1faaa,#f4fbae,#f7fcb2,#f6fbb1,#f3faad,#f2faaa,#f1f9a9,#f1f9aa,#f1f9aa,#f1f9a9,#f1f9a9,#f1f9a9,#f0f9a8,#f0f9a7,#eff9a6,#eff8a5,#eef8a4,#edf8a3,#ecf8a2,#ecf7a1,#ebf7a0,#eaf79f,#eaf79e,#eaf79f,#ebf79f,#ebf7a0,#ecf7a1,#edf8a2)"></i><i style="background:linear-gradient(90deg,#e6f598,#e7f69a,#ecf8a2,#eff9a7,#f1f9a9,#f4faad,#f6fbb0,#f5fbaf,#f3faac,#f1f9a9,#f1f9a9,#f1f9a9,#f1f9a9,#f1f9a9,#f1f9a9,#f0f9a8,#f0f9a8,#f0f9a7,#eff9a6,#eff8a5,#eef8a4,#edf8a3,#ecf8a2,#ecf7a1,#ebf7a0,#ebf79f,#eaf79f,#eaf79f,#ebf79f,#ebf7a0,#ecf7a1,#edf8a3)"></i><i style="background:linear-gradient(90deg,#e8f69b,#e9f69d,#edf8a3,#eff9a7,#f1f9a9,#f3faac,#f5fbaf,#f4fbae,#f2faab,#f1f9a9,#f1f9a9,#f1f9a9,#f1f9a9,#f1f9a8,#f0f9a8,#f0f9a8,#f0f9a8,#f0f9a7,#eff9a6,#eff8a5,#eef8a5,#edf8a3,#edf8a2,#ecf7a1,#ebf7a0,#ebf7a0,#ebf79f,#ebf79f,#ebf7a0,#ecf7a1,#ecf7a2,#edf8a3)"></i><i style="background:linear-gradient(90deg,#e9f69d,#eaf79e,#edf8a4,#f0f9a7,#f1f9a9,#f2faab,#f4faad,#f3faad,#f2faaa,#f1f9a9,#f0f9a8,#f0f9a8,#f0f9a8,#f0f9a8,#f0f9a8,#f0f9a8,#f0f9a7,#f0f9a7,#eff9a6,#eff8a6,#eef8a5,#edf8a4,#edf8a3,#ecf7a1,#ebf7a1,#ebf7a0,#ebf7a0,#ebf7a0,#ebf7a0,#ecf7a1,#ecf8a2,#edf8a3)"></i><i style="background:linear-gradient(90deg,#eaf79f,#ebf7a0,#eef8a4,#f0f9a7,#f1f9a9,#f2faaa,#f3faac,#f3faac,#f1faaa,#f1f9a8,#f0f9a8,#f0f9a8,#f0f9a8,#f0f9a8,#f0f9a8,#f0f9a8,#f0f9a7,#f0f9a7,#eff9a6,#eff8a6,#eef8a5,#eef8a4,#edf8a3,#ecf8a2,#ecf7a1,#ebf7a0,#ebf7a0,#ebf7a0,#ebf7a1,#ecf7a1,#edf8a2,#edf8a3)"></i><i style="background:linear-gradient(90deg,#ecf7a1,#ecf7a2,#eef8a5,#f0f9a7,#f0f9a8,#f1faaa,#f2faab,#f2faab,#f1f9a9,#f0f9a8,#f0f9a8,#f0f9a8,#f0f9a8,#f0f9a8,#f0f9a8,#f0f9a8,#f0f9a7,#f0f9a7,#eff9a6,#eff9a6,#eef8a5,#eef8a4,#edf8a3,#ecf8a2,#ecf7a1,#ecf7a1,#ebf7a0,#ebf7a0,#ecf7a1,#ecf7a2,#edf8a3,#edf8a3)"></i><i style="background:linear-gradient(90deg,#edf8a2,#edf8a3,#eff8a6,#f0f9a7,#f0f9a8,#f1f9a9,#f2faaa,#f2faaa,#f1f9a9,#f0f9a8,#f0f9a8,#f0f9a8,#f0f9a8,#f0f9a8,#f0f9a8,#f0f9a8,#f0f9a7,#f0f9a7,#eff9a6,#eff9a6,#eef8a5,#eef8a4,#edf8a3,#edf8a2,#ecf7a2,#ecf7a1,#ecf7a1,#ecf7a1,#ecf7a1,#ecf8a2,#edf8a3,#eef8a4)"></i><i style="background:linear-gradient(90deg,#edf8a3,#eef8a4,#eff9a6,#f0f9a7,#f0f9a8,#f1f9a9,#f1faaa,#f1f9a9,#f1f9a9,#f0f9a8,#f0f9a8,#f0f9a8,#f0f9a8,#f0f9a8,#f0f9a8,#f0f9a7,#f0f9a7,#f0f9a7,#eff9a6,#eff9a6,#eef8a5,#eef8a4,#edf8a3,#edf8a3,#ecf8a2,#ecf7a1,#ecf7a1,#ecf7a1,#ecf7a2,#edf8a2,#edf8a3,#eef8a4)"></i><i style="background:linear-gradient(90deg,#eef8a4,#eef8a5,#eff9a6,#f0f9a7,#f0f9a8,#f1f9a9,#f1f9a9,#f1f9a9,#f0f9a8,#f0f9a8,#f0f9a8,#f0f9a8,#f0f9a8,#f0f9a8,#f0f9a8,#f0f9a7,#f0f9a7,#f0f9a7,#eff9a7,#eff9a6,#eff8a5,#eef8a5,#edf8a4,#edf8a3,#edf8a2,#ecf7a2,#ecf7a1,#ecf7a2,#ecf8a2,#edf8a3,#edf8a3,#eef8a4)"></i><i style="background:linear-gradient(90deg,#eef8a5,#eff8a6,#eff9a7,#f0f9a7,#f0f9a8,#f1f9a8,#f1f9a9,#f1f9a9,#f0f9a8,#f0f9a8,#f0f9a8,#f0f9a8,#f0f9a8,#f0f9a8,#f0f9a8,#f0f9a7,#f0f9a7,#f0f9a7,#eff9a7,#eff9a6,#eff8a5,#eef8a5,#eef8a4,#edf8a3,#edf8a2,#ecf8a2,#ecf8a2,#ecf8a2,#edf8a2,#edf8a3,#edf8a4,#eef8a4)"></i><i style="background:linear-gradient(90deg,#eff9a6,#eff9a6,#f0f9a7,#f0f9a8,#f0f9a8,#f0f9a8,#f1f9a9,#f1f9a8,#f0f9a8,#f0f9a8,#f0f9a8,#f0f9a8,#f0f9a8,#f0f9a8,#f0f9a8,#f0f9a7,#f0f9a7,#f0f9a7,#eff9a7,#eff9a6,#eff8a6,#eef8a5,#eef8a4,#edf8a3,#edf8a3,#edf8a2,#edf8a2,#edf8a2,#edf8a3,#edf8a3,#eef8a4,#eef8a4)"></i><i style="background:linear-gradient(90deg,#eff9a6,#eff9a7,#f0f9a7,#f0f9a8,#f0f9a8,#f0f9a8,#f0f9a8,#f0f9a8,#f0f9a8,#f0f9a8,#f0f9a8,#f0f9a8,#f0f9a8,#f0f9a8,#f0f9a8,#f0f9a7,#f0f9a7,#f0f9a7,#eff9a7,#eff9a6,#eff9a6,#eef8a5,#eef8a4,#edf8a4,#edf8a3,#edf8a3,#edf8a2,#edf8a3,#edf8a3,#edf8a3,#eef8a4,#eef8a5)"></i><i style="background:linear-gradient(90deg,#eff9a7,#f0f9a7,#f0f9a7,#f0f9a8,#f0f9a8,#f0f9a8,#f0f9a8,#f0f9a8,#f0f9a8,#f0f9a8,#f0f9a8,#f0f9a8,#f0f9a8,#f0f9a8,#f0f9a8,#f0f9a7,#f0f9a7,#f0f9a7,#eff9a7,#eff9a6,#eff9a6,#eef8a5,#eef8a5,#eef8a4,#edf8a3,#edf8a3,#edf8a3,#edf8a3,#edf8a3,#edf8a4,#eef8a4,#eef8a5)"></i><i style="background:linear-gradient(90deg,#f0f9a7,#f0f9a7,#f0f9a7,#f0f9a8,#f0f9a8,#f0f9a8,#f0f9a8,#f0f9a8,#f0f9a8,#f0f9a8,#f0f9a8,#f0f9a8,#f0f9a8,#f0f9a8,#f0f9a8,#f0f9a7,#f0f9a7,#f0f9a7,#eff9a7,#eff9a6,#eff9a6,#eff8a5,#eef8a5,#eef8a4,#edf8a4,#edf8a3,#edf8a3,#edf8a3,#edf8a3,#eef8a4,#eef8a4,#eef8a5)"></i><i style="background:linear-gradient(90deg,#f0f9a7,#f0f9a7,#f0f9a7,#f0f9a8,#f0f9a8,#f0f9a8,#f0f9a8,#f0f9a8,#f0f9a8,#f0f9a8,#f0f9a8,#f0f9a8,#f0f9a8,#f0f9a8,#f0f9a8,#f0f9a7,#f0f9a7,#f0f9a7,#f0f9a7,#eff9a6,#eff9a6,#eff8a5,#eef8a5,#eef8a4,#eef8a4,#edf8a4,#edf8a3,#edf8a3,#edf8a4,#eef8a4,#eef8a5,#eef8a5)"></i><i style="background:linear-gradient(90deg,#f0f9a7,#f0f9a7,#f0f9a8,#f0f9a8,#f0f9a8,#f0f9a8,#f0f9a8,#f0f9a8,#f0f9a8,#f0f9a8,#f0f9a8,#f0f9a8,#f0f9a8,#f0f9a8,#f0f9a8,#f0f9a7,#f0f9a7,#f0f9a7,#f0f9a7,#eff9a7,#eff9a6,#eff8a6,#eef8a5,#eef8a5,#eef8a4,#eef8a4,#edf8a4,#edf8a4,#eef8a4,#eef8a4,#eef8a5,#eff8a5)"></i></div>
<div class="hm" style="left:31.0px;top:116.20px"><i style="background:linear-gradient(90deg,#bbe3a1,#c4e79f,#e2f499,#f7fcb2,#feefa4,#fed783,#fec776,#fdc776,#fed17e,#fee08c,#feeb9e,#fff5af,#fffdbc,#fdfebc,#fbfdb8,#f9fdb6,#f9fcb5,#f8fcb4,#f7fcb3,#f7fcb2,#f6fbb1,#f5fbb0,#f5fbb0,#f6fbb1,#f9fdb6,#fffdbb,#fee99b,#fed481,#fdc675,#fdc070,#fdbf6f,#fdbe6f)"></i><i style="background:linear-gradient(90deg,#acdda4,#b5e1a2,#d7ef9b,#f5fbaf,#feefa4,#fed27f,#fdc070,#fdbf70,#feca79,#fedb87,#fee898,#fff2aa,#fffbb8,#feffbd,#fcfeba,#fafdb8,#f9fdb6,#f9fdb5,#f8fcb4,#f7fcb3,#f7fcb2,#f6fbb1,#f6fbb1,#f7fcb3,#fbfeba,#fff4ac,#fed682,#fdb466,#fba15b,#fa9957,#fa9756,#fa9656)"></i><i style="background:linear-gradient(90deg,#9ad6a4,#a3daa4,#cbea9d,#f2faab,#feefa4,#fecd7b,#fdb96a,#fdb96a,#fdc473,#fed582,#fee593,#fff0a6,#fff9b4,#ffffbf,#fdfebc,#fbfeb9,#fafdb8,#fafdb7,#f9fdb5,#f8fcb4,#f7fcb3,#f7fcb2,#f7fcb3,#f9fdb5,#feffbe,#fee99a,#fdb869,#f7864f,#f57145,#f36b43,#f26a44,#f26a44)"></i><i style="background:linear-gradient(90deg,#86cea5,#8fd2a4,#bde5a0,#eff9a6,#fff0a6,#fec978,#fdb365,#fdb265,#fdbe6e,#fed07e,#fee28f,#feeda1,#fff6b1,#fffdbb,#feffbd,#fcfebb,#fbfeb9,#fbfdb8,#fafdb7,#f9fdb5,#f8fcb4,#f8fcb3,#f8fcb4,#fbfdb8,#fffab6,#feda86,#f99153,#e95d47,#e1504a,#df4d4b,#de4c4b,#de4c4b)"></i><i style="background:linear-gradient(90deg,#71c6a5,#7acaa5,#afdfa3,#ebf7a0,#fff1a8,#fdc675,#fdae61,#fdac60,#fdb96a,#fecb7a,#fedf8b,#feeb9e,#fff4ad,#fffbb8,#ffffbf,#fdfebd,#fcfebb,#fbfeb9,#fbfdb8,#fafdb7,#f9fdb5,#f8fcb5,#f9fdb6,#fdfebc,#fff2a9,#fdc373,#f16844,#d43d4f,#ca324c,#ca324c,#ca324c,#ca324c)"></i><i style="background:linear-gradient(90deg,#5fbaa8,#65c1a6,#9fd8a4,#e8f69b,#fff3ab,#fdc473,#fca85e,#fca65d,#fdb567,#fec877,#fedc87,#fee99a,#fff2a9,#fff9b5,#fffdbc,#feffbe,#fdfebc,#fcfebb,#fbfeb9,#fafdb8,#fafdb7,#f9fdb6,#fbfdb8,#fffebe,#feea9b,#fdab60,#de4c4b,#b71c48,#b51b47,#ba2049,#bb2149,#bb2249)"></i><i style="background:linear-gradient(90deg,#4fa9af,#55afad,#8dd1a4,#e1f399,#fff5ae,#fdc272,#fba25c,#fba15b,#fdb164,#fdc474,#fed885,#fee796,#fff0a6,#fff7b1,#fffbb9,#fffebe,#feffbe,#fdfebc,#fcfebb,#fbfeb9,#fbfdb8,#fbfdb8,#fcfebb,#fff9b5,#fee08b,#f98e52,#cb334d,#a50944,#ae1346,#b71d48,#ba2049,#bb2149)"></i><i style="background:linear-gradient(90deg,#4199b6,#469eb4,#7dcba5,#d9f09b,#fff7b2,#fdc070,#fb9e59,#fb9d59,#fdaf62,#fdc272,#fed582,#fee593,#feeea2,#fff5ae,#fff9b5,#fffcba,#fffebe,#feffbe,#fdfebc,#fcfebb,#fcfeba,#fcfeba,#feffbe,#fff3ab,#fed07e,#f57446,#ba2049,#a10443,#b51a47,#c32b4b,#c72f4c,#c8304c)"></i><i style="background:linear-gradient(90deg,#348bbc,#388fba,#6ec5a5,#d1ed9c,#fff9b5,#fdbe6f,#fa9958,#fa9957,#fdac60,#fdc070,#fed380,#fee390,#feec9f,#fff3aa,#fff7b2,#fffab7,#fffdbb,#ffffbe,#feffbe,#fdfebc,#fdfebb,#fdfebc,#fffcba,#feec9f,#fdbf70,#ed6246,#b41947,#ab0f45,#c9314c,#d9444d,#dc484c,#dc494c)"></i><i style="background:linear-gradient(90deg,#397fb9,#3682ba,#62bea7,#caea9e,#fffbb8,#fdbd6e,#fa9656,#fa9656,#fcaa5f,#fdbe6e,#fed17e,#fee18d,#feea9c,#fff1a7,#fff5af,#fff8b4,#fffbb8,#fffdbb,#ffffbf,#feffbe,#fefebd,#ffffbe,#fff8b3,#fee593,#fdaf62,#e65749,#b81d48,#c0274a,#e04e4b,#ec6046,#ef6545,#ef6645)"></i><i style="background:linear-gradient(90deg,#4076b5,#3e79b6,#5bb6aa,#c5e79f,#fffcba,#fdbb6c,#f99254,#f99455,#fca95f,#fdbd6d,#fece7c,#fedf8a,#fee898,#feefa3,#fff3ab,#fff7b1,#fff9b5,#fffbb9,#fffdbc,#ffffbf,#ffffbf,#fffdbb,#fff3aa,#feda86,#fa9c58,#e1514a,#c52c4b,#da464d,#f46d43,#f8874f,#f98e52,#f99053)"></i><i style="background:linear-gradient(90deg,#4471b2,#4273b3,#56b0ac,#c1e69f,#fffcbb,#fdb96a,#f98f53,#f99154,#fca85e,#fdbb6c,#fecc7b,#fedc88,#fee695,#feeca0,#fff1a8,#fff5ae,#fff7b2,#fffab6,#fffcb9,#fffdbc,#fffdbc,#fff9b5,#feeda0,#fecc7a,#f88a50,#e04f4b,#d8424e,#ee6445,#fa9957,#fdb265,#fdb769,#fdb96a)"></i><i style="background:linear-gradient(90deg,#456fb1,#4470b2,#54aead,#c0e5a0,#fffcba,#fdb768,#f88b51,#f98f53,#fca75e,#fdba6b,#feca79,#fed985,#fee491,#feea9c,#feefa5,#fff3ab,#fff6af,#fff8b3,#fffab7,#fffbb9,#fffbb8,#fff5af,#fee695,#fdbe6e,#f67b49,#e2524a,#e65848,#f88b51,#fdbe6f,#fed17e,#fed683,#fed784)"></i><i style="background:linear-gradient(90deg,#4372b3,#4372b3,#55afad,#c0e6a0,#fffbb8,#fdb466,#f8874f,#f88d52,#fca65d,#fdb96b,#fec877,#fed683,#fee28e,#fee899,#feeda1,#fff1a8,#fff4ac,#fff6b1,#fff8b4,#fffab6,#fff8b4,#fff1a7,#fedf8a,#fdb063,#f46f44,#e75948,#f46f44,#fdb264,#fedb86,#fee797,#feea9b,#feea9c)"></i><i style="background:linear-gradient(90deg,#3d79b6,#3e79b6,#59b4ab,#c4e79f,#fff9b5,#fdb063,#f7834d,#f88b51,#fca55d,#fdb86a,#fdc675,#fed380,#fedf8a,#fee695,#feeb9e,#feefa5,#fff2aa,#fff5ae,#fff7b1,#fff8b3,#fff5af,#feec9f,#fed380,#fb9f5a,#f16944,#ed6246,#f98f53,#fecd7b,#feeb9e,#fff4ac,#fff6b0,#fff7b1)"></i><i style="background:linear-gradient(90deg,#3485bc,#3584bb,#61bda7,#caea9e,#fff6b0,#fdac60,#f67f4b,#f88950,#fca45c,#fdb768,#fdc373,#fecf7d,#fedb87,#fee491,#fee99a,#feeea2,#fff1a7,#fff4ac,#fff5af,#fff6b0,#fff2aa,#fee797,#fdc776,#f99053,#ef6645,#f46e44,#fdae61,#fee28f,#fff6b1,#fffebd,#ffffbe,#feffbe)"></i><i style="background:linear-gradient(90deg,#3e95b7,#3c94b8,#6fc6a5,#d3ed9c,#fff2a9,#fca55d,#f67a49,#f7864e,#fba25b,#fdb567,#fdc071,#fecc7a,#fed783,#fee18d,#fee797,#feec9f,#feefa5,#fff2aa,#fff4ad,#fff4ac,#feefa4,#fee18d,#fdba6b,#f7824d,#f06645,#f7814c,#fdc373,#feeea3,#ffffbf,#fbfeba,#fbfdb8,#fafdb8)"></i><i style="background:linear-gradient(90deg,#50aaaf,#4ea8b0,#83cda5,#def29a,#feeca0,#fb9e59,#f57446,#f7824d,#fb9f5a,#fdb365,#fdbd6e,#fec776,#fed380,#fede8a,#fee594,#feea9c,#feeea3,#fff1a8,#fff3aa,#fff2a9,#feeb9e,#fed884,#fdae61,#f57748,#f26944,#fa9555,#fed683,#fff8b3,#fbfdb9,#f8fcb5,#f8fcb4,#f8fcb3)"></i><i style="background:linear-gradient(90deg,#67c2a5,#64c0a6,#9ad6a4,#e9f69c,#fee695,#fa9555,#f46e43,#f67d4b,#fb9c59,#fdb063,#fdba6b,#fdc373,#fecf7c,#fedb86,#fee391,#fee99a,#feeda1,#fff0a6,#fff1a8,#feefa5,#fee797,#fece7c,#fb9f5a,#f47044,#f47044,#fcaa5f,#fee593,#ffffbf,#f8fcb4,#f6fbb1,#f5fbb0,#f5fbb0)"></i><i style="background:linear-gradient(90deg,#88cfa5,#84cea5,#b4e1a2,#f0f9a7,#fedd89,#f88b51,#f16944,#f67848,#fa9857,#fdad60,#fdb668,#fdbf6f,#feca79,#fed783,#fee28e,#fee898,#feec9f,#feefa4,#fff0a5,#feeda1,#fee38f,#fdc372,#f99153,#f36c43,#f67b4a,#fdbb6c,#feeea3,#fbfdb9,#f6fbb0,#f4fbae,#f4fbae,#f4fbae)"></i><i style="background:linear-gradient(90deg,#acdea4,#a9dca4,#ceeb9d,#f8fcb3,#fed07d,#f7814c,#ed6346,#f57245,#f99355,#fca85e,#fdb264,#fdbb6c,#fdc675,#fed380,#fee08b,#fee696,#feeb9d,#feeea2,#feeea3,#feea9c,#fedc88,#fdb869,#f7844e,#f36b43,#f88a50,#fecc7a,#fff7b2,#f8fcb4,#f3faad,#f2faab,#f2faab,#f3faac)"></i><i style="background:linear-gradient(90deg,#ceeb9d,#caea9e,#e8f69b,#fffdbc,#fdc171,#f57547,#ea5d47,#f36c43,#f98e52,#fca35c,#fdae61,#fdb668,#fdc272,#fed07e,#fede89,#fee594,#feea9c,#feeda1,#feeda0,#fee797,#fed481,#fdad60,#f67a49,#f46e43,#fa9a58,#fedc88,#ffffbf,#f5fbaf,#f1faaa,#f1f9a9,#f1f9aa,#f2faaa)"></i><i style="background:linear-gradient(90deg,#ebf79f,#e9f69d,#f5fbaf,#feeda1,#fdb164,#f26a44,#e55749,#f06745,#f88850,#fb9e5a,#fca95e,#fdb264,#fdbe6f,#fecd7b,#fedb87,#fee492,#fee99b,#feec9f,#feeb9d,#fee491,#fecb79,#fb9f5a,#f57346,#f57446,#fdad60,#fee898,#fbfdb8,#f2faab,#f0f9a7,#f0f9a7,#f0f9a8,#f1f9a9)"></i><i style="background:linear-gradient(90deg,#fafdb7,#f8fcb4,#fffbb8,#feda86,#fb9d59,#ec6146,#e1504a,#ec6146,#f7824d,#fa9957,#fca45c,#fdae61,#fdbb6c,#feca79,#feda86,#fee491,#fee99a,#feeb9e,#fee99a,#fee08b,#fdc171,#f99254,#f46e43,#f67e4b,#fdbd6d,#fff2a9,#f6fcb2,#eff9a6,#eef8a4,#eef8a5,#eff9a6,#f0f9a8)"></i><i style="background:linear-gradient(90deg,#feeea2,#fff1a7,#fee492,#fdbf70,#f8874f,#e65848,#dd494c,#e85b48,#f67b4a,#f99455,#fb9f5a,#fcaa5f,#fdb869,#fec877,#fed884,#fee390,#fee899,#feea9c,#fee796,#fed985,#fdb768,#f7864e,#f46d43,#f88a50,#fecd7b,#fffbb9,#f2faab,#ecf8a2,#ecf7a1,#edf8a3,#eef8a5,#eff9a7)"></i><i style="background:linear-gradient(90deg,#fecc7a,#fed27f,#fdc372,#fba25c,#f57245,#e04f4b,#d8434e,#e45549,#f57446,#f98e52,#fa9b58,#fca65d,#fdb667,#fdc675,#fed783,#fee390,#fee898,#fee99a,#fee492,#fed17e,#fdac60,#f67c4a,#f46e43,#fa9958,#fede89,#fcfeba,#eef8a5,#eaf69e,#eaf79e,#ecf7a1,#eef8a4,#eff9a6)"></i><i style="background:linear-gradient(90deg,#fba25c,#fcaa5f,#fb9d59,#f7824d,#ec6246,#da464d,#d33c4e,#e04f4b,#f46d43,#f88a50,#fa9756,#fca35c,#fdb466,#fdc574,#fed683,#fee38f,#fee898,#fee898,#fee18d,#fec877,#fb9f5a,#f57446,#f57346,#fdab60,#feea9b,#f6fbb1,#eaf79f,#e7f599,#e8f69b,#ebf79f,#edf8a3,#eef8a5)"></i><i style="background:linear-gradient(90deg,#f57346,#f67b4a,#f57446,#f06645,#e35449,#d53e4f,#cc344d,#dc494c,#f16844,#f7854e,#f99455,#fba15b,#fdb365,#fdc474,#fed683,#fee28f,#fee797,#fee695,#fedc88,#fdbf6f,#f99254,#f46e44,#f67b49,#fdbb6c,#fff4ad,#f1f9a9,#e6f599,#e1f399,#e6f598,#e9f69d,#ecf7a2,#eef8a4)"></i><i style="background:linear-gradient(90deg,#e3534a,#e75948,#e65848,#e3534a,#dc484c,#cd354d,#c52c4b,#d8434e,#ee6345,#f7814c,#f99254,#fba05a,#fdb264,#fdc474,#fed683,#fee28f,#fee696,#fee492,#fed582,#fdb567,#f7864f,#f36c43,#f7864f,#fecb7a,#ffffbf,#ecf7a1,#def29a,#dbf09a,#e2f399,#e8f69c,#ecf7a1,#edf8a4)"></i><i style="background:linear-gradient(90deg,#d0394e,#d6404f,#d8424e,#d8424e,#d53e4f,#c62e4c,#bf264a,#d43d4f,#ea5f47,#f67d4a,#f99053,#fb9f5a,#fdb264,#fdc474,#fed683,#fee28f,#fee695,#fee28e,#fece7c,#fcaa5f,#f67c4a,#f46c43,#f99455,#fedc88,#f9fcb5,#e7f599,#d4ee9c,#d4ee9c,#def29a,#e7f69a,#ebf7a0,#edf8a3)"></i><i style="background:linear-gradient(90deg,#b81e48,#bf264a,#c42c4b,#cb324d,#cc344d,#c1284a,#bb2149,#ce374d,#e75a48,#f67a49,#f98f53,#fb9f5a,#fdb265,#fdc574,#fed783,#fee28f,#fee593,#fede8a,#fdc575,#fb9d59,#f57346,#f47044,#fca55d,#fee99a,#f3faac,#dcf19a,#cbea9d,#cdeb9d,#d9f09b,#e6f598,#eaf79f,#edf8a2)"></i><i style="background:linear-gradient(90deg,#a60a44,#ad1146,#b51a47,#bf264a,#c52d4b,#be254a,#b71d48,#c9304c,#e45549,#f57647,#f98f52,#fba05b,#fdb365,#fdc575,#fed783,#fee28e,#fee391,#fed985,#fdbc6d,#f99053,#f46d43,#f57748,#fdb668,#fff4ad,#edf8a3,#d1ec9c,#c3e79f,#c7e89e,#d5ee9b,#e4f498,#eaf79e,#ecf8a2)"></i><i style="background:linear-gradient(90deg,#9e0142,#a10443,#aa0e45,#b81e48,#c2294a,#bd2349,#b41a47,#c32a4b,#e1514a,#f57346,#f98e52,#fba15b,#fdb466,#fdc675,#fed784,#fee28e,#fee18d,#fed27f,#fdb264,#f7844d,#f36b44,#f7824d,#fdc675,#ffffbf,#e7f59a,#c6e89f,#bae3a1,#c1e69f,#d2ed9c,#e2f399,#e9f69d,#ecf7a1)"></i><i style="background:linear-gradient(90deg,#9e0142,#9e0142,#a50844,#b51a47,#c1284a,#bd2349,#b21847,#be254a,#de4c4b,#f46f44,#f88d52,#fba15b,#fdb566,#fdc776,#fed784,#fee18c,#fede8a,#feca79,#fca65d,#f67949,#f36b44,#f98f53,#fed783,#f9fcb5,#dcf19a,#bbe4a1,#b2e0a3,#bce4a1,#ceeb9d,#e0f399,#e9f69d,#ecf7a1)"></i><i style="background:linear-gradient(90deg,#9e0142,#9e0142,#a40743,#b51b47,#c32a4b,#bf254a,#b21747,#ba2049,#db474d,#f36c43,#f88c51,#fba25b,#fdb567,#fdc776,#fed783,#fedf8a,#fed985,#fdc271,#fa9857,#f47045,#f46e43,#fba05a,#fee594,#f2faab,#d0ec9d,#b2e0a3,#abdda4,#b7e2a2,#cbea9d,#dff299,#e9f69c,#ecf7a1)"></i><i style="background:linear-gradient(90deg,#9e0142,#9e0142,#a70b44,#b91e48,#c72e4c,#c2294a,#b21747,#b61b48,#d8424e,#f16844,#f88a51,#fba25b,#fdb567,#fdc675,#fed582,#fedc88,#fed380,#fdb869,#f88b51,#f36b43,#f57547,#fdb164,#fff0a6,#edf8a2,#c4e79f,#a8dca4,#a3daa4,#b3e0a2,#c9e99e,#ddf29a,#e8f69b,#ebf7a0)"></i><i style="background:linear-gradient(90deg,#a00342,#a30743,#ad1246,#bf254a,#cc344d,#c62d4b,#b21747,#b21747,#d43d4f,#ee6445,#f8884f,#fba05b,#fdb466,#fdc574,#fed380,#fed884,#fecc7a,#fdad61,#f67f4b,#f16944,#f67f4b,#fdc171,#fffbb8,#e7f69a,#bae3a1,#9fd8a4,#9dd7a4,#afdfa3,#c7e89e,#dcf19a,#e8f69b,#ebf7a0)"></i><i style="background:linear-gradient(90deg,#ab0f45,#ad1145,#b61c48,#c62e4b,#d33b4e,#ca324d,#b31847,#ae1246,#ce364d,#eb5f47,#f7834d,#fb9e59,#fdb264,#fdc272,#fed07d,#fed27f,#fdc372,#fb9e5a,#f57446,#f16944,#f88c51,#fed17e,#fbfeb9,#ddf19a,#b1dfa3,#97d5a4,#98d5a4,#addea4,#c6e89f,#dcf19a,#e8f69b,#ebf7a0)"></i><i style="background:linear-gradient(90deg,#b71d48,#b81e48,#c0274a,#cf374e,#d8424e,#cf384e,#b41947,#aa0e45,#c72e4c,#e75a48,#f67e4b,#fa9957,#fdaf62,#fdbf6f,#fecb79,#fecb7a,#fdb96a,#f99053,#f36b43,#f36b43,#fa9b58,#fee18c,#f6fbb1,#d3ed9c,#a9dca4,#91d3a4,#94d4a4,#abdda4,#c5e89f,#dbf19a,#e8f69b,#ebf7a0)"></i><i style="background:linear-gradient(90deg,#c52c4b,#c42b4b,#cb324d,#d7404e,#dc484c,#d43d4f,#b51a47,#a60a44,#bf264a,#e3534a,#f57747,#f99355,#fca95f,#fdba6b,#fdc574,#fdc372,#fdad60,#f7814c,#f06645,#f57145,#fdac60,#feeb9d,#f1f9a9,#c9e99e,#a1d9a4,#8cd1a4,#91d3a4,#aadda4,#c5e89f,#dbf19a,#e8f69a,#ebf7a0)"></i><i style="background:linear-gradient(90deg,#d23b4e,#d0384e,#d53e4f,#db484d,#df4e4b,#d7414e,#b61c48,#a20643,#b81e48,#de4c4b,#f46e43,#f88c51,#fba25b,#fdb366,#fdbd6e,#fdb86a,#fb9d59,#f57346,#ee6345,#f67a49,#fdbb6c,#fff4ad,#ecf7a2,#c1e69f,#9ad7a4,#88cfa5,#90d3a4,#abdda4,#c6e89f,#dcf19a,#e7f69a,#ebf79f)"></i><i style="background:linear-gradient(90deg,#db474d,#d8434e,#da464d,#e04e4b,#e3524a,#d9444d,#b71d48,#9f0242,#b01546,#d9444d,#ef6645,#f7824d,#fa9857,#fdab5f,#fdb466,#fdac60,#f88b51,#f16844,#ed6346,#f7864f,#feca78,#fffdbc,#e8f69b,#bbe3a1,#96d5a4,#87cfa5,#91d3a4,#acdda4,#c7e89e,#dcf19a,#e7f69a,#ebf79f)"></i><i style="background:linear-gradient(90deg,#e1514a,#de4c4b,#df4e4b,#e45449,#e55749,#db474d,#b81d48,#9e0142,#a90d45,#d33b4e,#ea5e47,#f57747,#f88c51,#fb9e5a,#fca75e,#fa9b58,#f67949,#eb6046,#ee6445,#f99455,#fed885,#fbfeb9,#e3f499,#b5e1a2,#93d3a4,#86cfa5,#92d3a4,#aedea3,#c8e99e,#ddf19a,#e8f69a,#ebf79f)"></i><i style="background:linear-gradient(90deg,#e75948,#e3534a,#e35449,#e75948,#e75a48,#dc494c,#b81e48,#9e0142,#a20543,#c8304c,#e45449,#f26a44,#f77f4b,#f99053,#fa9756,#f88850,#f16944,#e65948,#f06745,#fca35c,#fee492,#f7fcb3,#dcf19a,#b1e0a3,#91d3a4,#87cfa5,#95d4a4,#b0dfa3,#cae99e,#ddf29a,#e8f69a,#eaf79f)"></i><i style="background:linear-gradient(90deg,#ec6146,#e75a48,#e75948,#e95d47,#e95c47,#dd4a4c,#b91f48,#9e0142,#9e0142,#be254a,#dd4a4c,#eb6046,#f47045,#f7814c,#f7854e,#f57547,#e95c47,#e3534a,#f36c43,#fdb265,#feeca0,#f4faad,#d7ef9b,#afdfa3,#91d3a4,#8ad0a4,#99d6a4,#b3e0a2,#ccea9d,#def29a,#e8f69b,#eaf79f)"></i><i style="background:linear-gradient(90deg,#f06744,#eb5f47,#e95d47,#eb6046,#ea5e47,#de4c4c,#ba2049,#9e0142,#9e0142,#b41947,#d6404f,#e45549,#ee6445,#f47044,#f57346,#ee6445,#e1504a,#e1504a,#f57446,#fdbf6f,#fff4ac,#f0f9a8,#d3ed9c,#aedea3,#93d4a4,#8ed2a4,#9ed8a4,#b7e2a2,#ceeb9d,#dff299,#e8f69b,#eaf79f)"></i><i style="background:linear-gradient(90deg,#f46d43,#ee6345,#ec6046,#ed6246,#eb6046,#df4d4b,#bb2149,#9e0142,#9e0142,#aa0f45,#cb334d,#dd4a4c,#e65848,#ed6246,#ee6345,#e55649,#da464d,#e04e4b,#f67f4b,#fecc7a,#fffbb8,#eef8a4,#d0ec9d,#aedea3,#96d5a4,#93d4a4,#a3daa4,#bbe3a1,#d0ec9c,#e0f399,#e8f69b,#eaf79f)"></i><i style="background:linear-gradient(90deg,#f57446,#f06744,#ee6445,#ee6445,#ec6146,#e04e4b,#bc2249,#9e0142,#9e0142,#a20543,#bf264a,#d53e4f,#de4c4b,#e55649,#e55649,#dc484c,#d43c4f,#e04f4b,#f88b51,#fed884,#feffbe,#ecf7a1,#ceeb9d,#afdea3,#9ad6a4,#99d6a4,#a9dca4,#bfe5a0,#d3ed9c,#e1f399,#e8f69b,#eaf79f)"></i><i style="background:linear-gradient(90deg,#f67b49,#f36c43,#f06745,#f06745,#ed6346,#e1504b,#be254a,#9e0142,#9e0142,#9e0142,#b41947,#c9304c,#d7404e,#dc494c,#dc484c,#d33b4e,#cc344d,#e2524a,#fa9957,#fee28e,#fbfdb9,#eaf79f,#cdeb9d,#b1dfa3,#9fd8a4,#9fd8a4,#afdfa3,#c3e79f,#d5ee9b,#e2f499,#e8f69b,#eaf79f)"></i><i style="background:linear-gradient(90deg,#f7824d,#f57245,#f26b44,#f26a44,#ef6545,#e2524a,#c1284a,#9e0142,#9e0142,#9e0142,#aa0e45,#bd2349,#cb334d,#d53e4f,#d33c4f,#c72e4c,#c82f4c,#e55649,#fca75e,#fee999,#f9fcb5,#e9f69d,#ceeb9d,#b3e0a2,#a4daa4,#a6dba4,#b4e1a2,#c7e89e,#d7ef9b,#e3f499,#e8f69b,#eaf79f)"></i><i style="background:linear-gradient(90deg,#f88b51,#f67949,#f47044,#f46d43,#f16844,#e45549,#c52d4b,#9e0142,#9e0142,#9e0142,#a20543,#b21747,#c0264a,#c9304c,#c82f4c,#be254a,#c72e4c,#ea5d47,#fdb466,#feefa3,#f7fcb2,#e8f69c,#cfeb9d,#b7e2a2,#abdda4,#addea4,#bae3a1,#caea9e,#d9f09b,#e4f498,#e8f69b,#eaf79f)"></i><i style="background:linear-gradient(90deg,#f99455,#f7834d,#f67848,#f57446,#f46c43,#e75948,#cb324d,#a10443,#9e0142,#9e0142,#9e0142,#aa0e45,#b61c48,#bf254a,#bf254a,#b91f48,#c9314c,#ef6645,#fdbf6f,#fff4ad,#f5fbaf,#e8f69b,#d0ec9c,#bbe3a1,#b0dfa3,#b3e0a2,#bfe5a0,#ceeb9d,#dbf19a,#e5f598,#e8f69c,#eaf79e)"></i><i style="background:linear-gradient(90deg,#fba05b,#f98e52,#f7824d,#f67d4a,#f57446,#ea5e47,#d1394e,#a70b44,#9e0142,#9e0142,#9e0142,#a30743,#ae1346,#b71d48,#b81e48,#b81d48,#cf374e,#f57145,#feca79,#fff9b5,#f3faad,#e8f69b,#d2ed9c,#bfe5a0,#b6e2a2,#b9e3a1,#c4e79f,#d1ed9c,#ddf19a,#e6f598,#e8f69c,#eaf79e)"></i><i style="background:linear-gradient(90deg,#fdad61,#fa9b58,#f98e52,#f8874f,#f67d4a,#ee6445,#d7414e,#af1346,#9e0142,#9e0142,#9e0142,#9f0242,#a90e45,#b21747,#b61b48,#ba2049,#d7404e,#f7804c,#fed582,#fffdbc,#f2faab,#e8f69b,#d4ee9c,#c4e79f,#bce4a1,#bfe5a0,#c8e99e,#d4ee9c,#dff299,#e6f598,#e8f69c,#eaf79e)"></i><i style="background:linear-gradient(90deg,#fdba6b,#fdab60,#fb9d59,#f99455,#f8874f,#f26b44,#db484c,#b81d48,#9e0142,#9e0142,#9e0142,#9e0142,#a70b44,#b01546,#b61c48,#c0264a,#dd4a4c,#f99153,#fedf8a,#feffbd,#f1faaa,#e8f69b,#d7ef9b,#c8e99e,#c1e69f,#c4e79f,#cdeb9d,#d7ef9b,#e0f399,#e6f598,#e8f69c,#eaf79e)"></i><i style="background:linear-gradient(90deg,#fec776,#fdba6b,#fdad60,#fba15b,#f99455,#f57547,#e1504a,#c2284a,#a70b44,#9e0142,#9e0142,#9f0242,#a70b44,#b11646,#ba2049,#c8304c,#e55649,#fba25b,#fee594,#fcfeba,#f1f9a9,#e8f69b,#daf09b,#cceb9d,#c7e89e,#c9e99e,#d1ec9c,#daf09b,#e1f399,#e6f599,#e8f69c,#eaf79e)"></i><i style="background:linear-gradient(90deg,#fed683,#fec978,#fdbb6c,#fdb063,#fba15b,#f7814c,#e65848,#cc344d,#b21747,#a40843,#a00342,#a30643,#aa0e45,#b41a47,#c0274a,#d43d4f,#ee6346,#fdb264,#feeb9d,#fafdb8,#f0f9a8,#e9f69c,#dcf19a,#d1ec9c,#ccea9d,#ceeb9d,#d4ee9c,#dcf19a,#e2f399,#e7f599,#e8f69c,#eaf79e)"></i><i style="background:linear-gradient(90deg,#fee492,#feda86,#feca78,#fdbd6e,#fdaf62,#f88d52,#ec6146,#d7404e,#be254a,#af1446,#a80c44,#a80d44,#af1446,#ba2049,#c8304c,#dc484c,#f57245,#fdbe6f,#fff0a5,#f9fdb6,#f0f9a7,#e9f69d,#dff299,#d5ee9c,#d0ec9c,#d2ed9c,#d7ef9b,#ddf29a,#e3f499,#e7f599,#e8f69c,#eaf79e)"></i><i style="background:linear-gradient(90deg,#feefa4,#fee797,#fed985,#feca79,#fdbb6c,#fa9a58,#f26a44,#dd4a4c,#cb334d,#bb2149,#b21747,#b01546,#b61b48,#c2284a,#d33c4e,#e45449,#f7854e,#feca78,#fff4ad,#f8fcb4,#f0f9a7,#e9f69d,#e1f399,#d8ef9b,#d4ee9c,#d5ee9b,#daf09b,#dff299,#e4f498,#e7f599,#e8f69c,#eaf79e)"></i><i style="background:linear-gradient(90deg,#fffbb8,#fff3aa,#fee695,#fed884,#fdc675,#fca75e,#f57446,#e45549,#d7414e,#c82f4c,#bd2349,#ba2049,#be254a,#cb334d,#da464d,#ec6146,#fa9756,#fed581,#fff8b3,#f7fcb3,#eff9a7,#eaf69e,#e4f498,#dbf19a,#d8ef9b,#d8ef9b,#dcf19a,#e0f399,#e4f498,#e7f599,#e8f69c,#eaf79e)"></i><i style="background:linear-gradient(90deg,#fbfdb8,#ffffbe,#fff0a6,#fee391,#fed27f,#fdb265,#f7804c,#ea5e47,#df4d4b,#d53f4f,#c9314c,#c42b4b,#c8304c,#d53e4f,#e1504a,#f46d43,#fca85e,#fede89,#fffbb9,#f6fcb1,#eff9a7,#eaf79e,#e6f598,#def29a,#dbf09a,#dbf19a,#def29a,#e1f399,#e5f598,#e7f59a,#e8f69c,#eaf79e)"></i><i style="background:linear-gradient(90deg,#f4fbae,#f8fcb5,#fffab7,#feec9e,#fedd88,#fdbc6c,#f88b51,#f16844,#e75948,#dd4b4c,#d53f4f,#cf384e,#d23b4e,#db474d,#e85a48,#f67d4a,#fdb567,#fee492,#fffebd,#f6fbb1,#eff9a6,#ebf79f,#e7f599,#e1f399,#def29a,#ddf29a,#dff299,#e2f399,#e5f598,#e7f59a,#e9f69c,#eaf79e)"></i><i style="background:linear-gradient(90deg,#edf8a3,#f1faaa,#fcfeba,#fff4ac,#fee593,#fdc474,#fa9555,#f57246,#ee6445,#e55749,#dd4a4c,#d8434e,#d9454d,#e1504a,#ee6445,#f88c51,#fdbf6f,#fee899,#feffbe,#f5fbb0,#eff9a7,#ebf7a0,#e7f69a,#e3f499,#e0f399,#dff299,#e1f399,#e3f499,#e6f598,#e7f59a,#e9f69c,#eaf79e)"></i><i style="background:linear-gradient(90deg,#e6f598,#ebf79f,#f6fcb2,#fffbb8,#feeb9d,#fecc7a,#fb9e5a,#f67e4b,#f47045,#ed6346,#e45549,#df4d4b,#e04e4b,#e75948,#f46e43,#fa9957,#fec877,#feec9f,#fefebd,#f5fbaf,#eff9a7,#ebf7a0,#e8f69b,#e5f598,#e2f399,#e1f399,#e2f399,#e4f498,#e6f598,#e7f59a,#e9f69c,#eaf79e)"></i><i style="background:linear-gradient(90deg,#d5ee9b,#e1f399,#f1f9a9,#fdfebc,#fff0a6,#fed380,#fca65d,#f88950,#f67f4b,#f46f44,#eb6046,#e55749,#e55749,#ec6146,#f67a49,#fca55d,#fecf7d,#feefa3,#fdfebc,#f5fbaf,#eff9a7,#ecf7a1,#e9f69c,#e6f598,#e3f499,#e2f499,#e3f499,#e4f498,#e6f598,#e7f69a,#e9f69c,#eaf79e)"></i><i style="background:linear-gradient(90deg,#c5e89f,#d1ed9c,#ecf7a1,#fafdb7,#fff5ae,#fed985,#fdad60,#f99254,#f88d52,#f67e4b,#f26b44,#ec6146,#eb6046,#f26a44,#f7854e,#fdaf62,#fed682,#fff1a7,#fcfebb,#f5fbaf,#f0f9a7,#ecf7a1,#e9f69d,#e7f599,#e5f598,#e3f499,#e4f498,#e5f498,#e6f598,#e7f69a,#e9f69c,#eaf79e)"></i><i style="background:linear-gradient(90deg,#b6e1a2,#c2e69f,#e7f59a,#f6fcb1,#fff9b6,#fede8a,#fdb264,#fa9b58,#fa9a58,#f88d52,#f67948,#f26a44,#f16944,#f57446,#f99053,#fdb668,#fedb87,#fff3ab,#fcfeba,#f5fbaf,#f0f9a7,#ecf7a2,#e9f69d,#e7f69a,#e6f598,#e4f498,#e4f498,#e5f598,#e6f599,#e7f69a,#e9f69c,#eaf79e)"></i><i style="background:linear-gradient(90deg,#a6dba4,#b4e1a2,#def29a,#f3faad,#fffdbc,#fee28e,#fdb668,#fca45c,#fca65d,#fb9c59,#f8874f,#f57748,#f57446,#f7804c,#fa9b58,#fdbd6e,#fee08b,#fff5ae,#fbfeb9,#f5fbaf,#f0f9a7,#ecf8a2,#eaf69e,#e8f69b,#e6f599,#e5f598,#e5f598,#e6f598,#e7f599,#e8f69a,#e9f69c,#eaf79f)"></i><i style="background:linear-gradient(90deg,#95d4a4,#a5dba4,#d5ee9c,#f1f9a9,#feffbd,#fee593,#fdbb6c,#fdac60,#fdb164,#fdab5f,#fa9656,#f7864e,#f7824d,#f88d52,#fca65d,#fdc474,#fee390,#fff6b0,#fbfdb9,#f5fbaf,#f0f9a7,#edf8a2,#eaf79e,#e8f69b,#e7f599,#e6f598,#e5f598,#e6f598,#e7f599,#e8f69b,#e9f69d,#eaf79f)"></i><i style="background:linear-gradient(90deg,#85cea5,#97d5a4,#ccea9d,#eef8a5,#fcfebb,#fee797,#fdbf6f,#fdb365,#fdbb6c,#fdb668,#fca55d,#f99555,#f99053,#fa9a58,#fdb163,#fecc7a,#fee695,#fff8b3,#fbfdb8,#f4fbae,#f0f9a8,#edf8a2,#eaf79f,#e8f69c,#e7f59a,#e6f598,#e6f598,#e6f598,#e7f599,#e8f69b,#e9f69d,#eaf79f)"></i><i style="background:linear-gradient(90deg,#77c9a5,#89d0a4,#c4e79f,#ecf7a2,#fbfdb8,#feea9b,#fdc373,#fdb96a,#fdc473,#fdc271,#fdb365,#fca45d,#fb9f5a,#fca85e,#fdba6b,#fed380,#feea9b,#fffab7,#fafdb7,#f4fbae,#f0f9a7,#edf8a3,#eaf79f,#e9f69c,#e7f69a,#e6f599,#e6f598,#e6f599,#e7f59a,#e8f69b,#e9f69d,#eaf79f)"></i><i style="background:linear-gradient(90deg,#6ac3a5,#7dcba5,#bde4a0,#eaf79f,#f9fdb6,#feec9f,#fec877,#fdc070,#fecd7b,#fecd7b,#fdc070,#fdb366,#fdaf62,#fdb567,#fdc574,#fedb87,#feeda1,#fffcbb,#f9fdb6,#f4fbae,#f0f9a7,#edf8a3,#ebf79f,#e9f69c,#e8f69a,#e7f599,#e6f599,#e7f599,#e7f59a,#e8f69b,#e9f69d,#ebf79f)"></i><i style="background:linear-gradient(90deg,#60bba8,#72c7a5,#b6e2a2,#e9f69c,#f8fcb4,#feeea3,#fecd7b,#fec776,#fed683,#fed884,#fecc7a,#fdc171,#fdbd6d,#fdc272,#fed07d,#fee390,#fff1a8,#ffffbf,#f9fcb5,#f3faad,#f0f9a7,#edf8a3,#ebf79f,#e9f69d,#e8f69b,#e7f599,#e7f599,#e7f599,#e7f69a,#e8f69b,#e9f69d,#ebf79f)"></i><i style="background:linear-gradient(90deg,#59b3ab,#69c3a5,#b1e0a3,#e7f69a,#f7fcb3,#fff1a7,#fed280,#fece7c,#fee08b,#fee28e,#fed985,#fecf7c,#fecb79,#fecf7d,#fedc87,#fee999,#fff5af,#fefebd,#f8fcb3,#f3faac,#eff9a7,#edf8a3,#ebf79f,#e9f69d,#e8f69b,#e7f59a,#e7f599,#e7f599,#e7f69a,#e8f69c,#eaf69d,#ebf79f)"></i><i style="background:linear-gradient(90deg,#53adae,#63bea6,#addea4,#e6f598,#f6fbb1,#fff3ab,#fed885,#fed683,#fee694,#fee99a,#fee491,#fedc88,#fed985,#fedd88,#fee593,#feeea3,#fffab6,#fcfeba,#f7fcb2,#f2faab,#eff9a6,#edf8a3,#ebf7a0,#e9f69d,#e8f69b,#e7f69a,#e7f59a,#e7f59a,#e8f69b,#e9f69c,#eaf69e,#ebf7a0)"></i><i style="background:linear-gradient(90deg,#4ea8b0,#5fbaa8,#aadca4,#e5f498,#f5fbb0,#fff6b0,#fedf8a,#fede8a,#feeb9e,#fff0a5,#feeb9e,#fee695,#fee492,#fee695,#feec9f,#fff4ad,#fffebe,#fafdb7,#f6fbb0,#f2faab,#eff9a6,#edf8a3,#ebf7a0,#e9f69d,#e8f69c,#e8f69a,#e7f59a,#e7f69a,#e8f69b,#e9f69c,#eaf79e,#ebf7a0)"></i><i style="background:linear-gradient(90deg,#4ca5b1,#5cb7aa,#a7dca4,#e3f499,#f4fbae,#fff9b4,#fee491,#fee492,#fff1a7,#fff6b0,#fff3aa,#feeea3,#feeda0,#feeea3,#fff3ab,#fffab7,#fdfebc,#f8fcb5,#f5fbaf,#f1faaa,#eff8a6,#edf8a2,#ebf7a0,#eaf69e,#e8f69c,#e8f69b,#e7f69a,#e8f69a,#e8f69b,#e9f69d,#eaf79e,#ebf7a0)"></i><i style="background:linear-gradient(90deg,#4ba3b2,#5bb6aa,#a6dba4,#e2f399,#f3faad,#fffbb9,#fee898,#fee99a,#fff6b0,#fffcb9,#fff9b5,#fff6af,#fff4ad,#fff6af,#fffab6,#ffffbe,#fbfdb8,#f7fcb2,#f4faad,#f1f9a9,#eff8a5,#edf8a2,#ebf7a0,#eaf69e,#e9f69c,#e8f69b,#e8f69b,#e8f69b,#e8f69c,#e9f69d,#eaf79e,#ebf7a0)"></i><i style="background:linear-gradient(90deg,#4ba4b1,#5bb6aa,#a6dba4,#e1f399,#f3faac,#fffebe,#feeca0,#feeea3,#fffbb8,#feffbd,#ffffbf,#fffcbb,#fffbb9,#fffcbb,#ffffbe,#fcfeba,#f9fcb5,#f5fbb0,#f3faac,#f0f9a8,#eef8a5,#edf8a2,#ebf7a0,#eaf79e,#e9f69d,#e8f69b,#e8f69b,#e8f69b,#e8f69c,#e9f69d,#eaf79f,#ebf7a0)"></i><i style="background:linear-gradient(90deg,#4da6b1,#5db8a9,#a7dba4,#e1f399,#f2faab,#feffbd,#fff1a7,#fff3ab,#ffffbf,#fbfeb9,#fcfeba,#fdfebc,#fefebd,#fdfebc,#fcfeba,#f9fdb6,#f7fcb2,#f4fbae,#f2faab,#f0f9a7,#eef8a5,#edf8a2,#ebf7a0,#eaf79e,#e9f69d,#e8f69c,#e8f69b,#e8f69b,#e9f69c,#e9f69d,#eaf79f,#ecf7a1)"></i><i style="background:linear-gradient(90deg,#51aaaf,#60bca8,#a9dca4,#e1f399,#f2faaa,#fcfebb,#fff5af,#fff7b2,#fdfebb,#f9fdb6,#f9fdb6,#fafdb8,#fbfdb8,#fafdb8,#f9fdb6,#f7fcb3,#f5fbb0,#f3faac,#f1f9a9,#eff9a7,#eef8a4,#edf8a2,#ebf7a0,#eaf79f,#e9f69d,#e9f69c,#e8f69c,#e8f69c,#e9f69d,#eaf69e,#ebf79f,#ecf7a1)"></i><i style="background:linear-gradient(90deg,#56b0ad,#65c0a6,#acdda4,#e2f399,#f1f9a9,#fbfdb9,#fff9b6,#fffcb9,#fbfdb8,#f7fcb3,#f7fcb3,#f8fcb4,#f8fcb4,#f8fcb4,#f7fcb2,#f5fbb0,#f4fbae,#f2faab,#f1f9a9,#eff9a6,#eef8a4,#edf8a2,#ebf7a0,#eaf79f,#eaf69d,#e9f69d,#e9f69c,#e9f69c,#e9f69d,#eaf79e,#ebf79f,#ecf7a1)"></i><i style="background:linear-gradient(90deg,#5cb6aa,#6bc4a5,#afdfa3,#e3f499,#f1f9a9,#f9fdb6,#fffdbc,#ffffbe,#f9fdb5,#f6fbb0,#f5fbb0,#f6fbb1,#f6fbb1,#f6fbb1,#f5fbb0,#f4fbae,#f3faac,#f1faaa,#f0f9a8,#eff9a6,#eef8a4,#edf8a2,#ecf7a1,#ebf79f,#eaf69e,#e9f69d,#e9f69c,#e9f69d,#e9f69d,#eaf79e,#ebf7a0,#ecf7a1)"></i><i style="background:linear-gradient(90deg,#63bfa6,#74c7a5,#b4e0a2,#e4f498,#f0f9a8,#f8fcb4,#feffbd,#fdfebb,#f7fcb3,#f4fbaf,#f4fbae,#f4fbae,#f5fbaf,#f4fbae,#f4faad,#f3faac,#f2faab,#f1f9a9,#f0f9a7,#eff9a6,#eef8a4,#edf8a2,#ecf7a1,#ebf79f,#eaf79e,#e9f69d,#e9f69d,#e9f69d,#eaf69e,#eaf79f,#ebf7a0,#ecf7a1)"></i><i style="background:linear-gradient(90deg,#6cc5a5,#7dcba5,#b8e2a1,#e5f598,#f0f9a8,#f7fcb2,#fcfeba,#fbfdb8,#f6fbb1,#f3faad,#f3faac,#f3faad,#f3faad,#f3faac,#f3faac,#f2faab,#f1faaa,#f0f9a8,#f0f9a7,#eff8a6,#eef8a4,#edf8a3,#ecf7a1,#ebf7a0,#eaf79e,#eaf69e,#e9f69d,#e9f69d,#eaf79e,#ebf79f,#ebf7a0,#ecf7a2)"></i><i style="background:linear-gradient(90deg,#78c9a5,#88cfa5,#bde4a0,#e6f599,#f0f9a7,#f6fbb1,#fafdb7,#f9fdb6,#f5fbaf,#f3faac,#f2faab,#f2faab,#f2faab,#f2faab,#f2faab,#f1faaa,#f1f9a9,#f0f9a8,#eff9a7,#eff8a5,#eef8a4,#edf8a3,#ecf7a1,#ebf7a0,#eaf79f,#eaf79e,#eaf69e,#eaf69e,#eaf79e,#ebf79f,#ecf7a1,#ecf8a2)"></i><i style="background:linear-gradient(90deg,#84cea5,#92d3a4,#c2e69f,#e7f59a,#f0f9a7,#f5fbaf,#f8fcb5,#f7fcb3,#f4fbae,#f2faab,#f2faaa,#f2faaa,#f2faaa,#f2faaa,#f1faaa,#f1f9a9,#f0f9a8,#f0f9a7,#eff9a6,#eff8a5,#eef8a4,#edf8a3,#ecf7a2,#ebf7a0,#ebf79f,#eaf79e,#eaf79e,#eaf79e,#eaf79f,#ebf7a0,#ecf7a1,#edf8a2)"></i><i style="background:linear-gradient(90deg,#90d3a4,#9dd8a4,#c8e99e,#e8f69b,#f0f9a7,#f4fbae,#f7fcb2,#f6fbb1,#f3faad,#f2faaa,#f1f9a9,#f1f9aa,#f1f9aa,#f1f9a9,#f1f9a9,#f1f9a9,#f0f9a8,#f0f9a7,#eff9a6,#eff8a5,#eef8a4,#edf8a3,#ecf8a2,#ecf7a1,#ebf7a0,#eaf79f,#eaf79e,#eaf79f,#ebf79f,#ebf7a0,#ecf7a1,#edf8a2)"></i><i style="background:linear-gradient(90deg,#9dd7a4,#a8dca4,#cdeb9d,#e9f69c,#eff9a7,#f3faad,#f6fbb1,#f5fbb0,#f3faac,#f1f9a9,#f1f9a9,#f1f9a9,#f1f9a9,#f1f9a9,#f1f9a9,#f0f9a8,#f0f9a8,#f0f9a7,#eff9a6,#eff8a5,#eef8a4,#edf8a3,#ecf8a2,#ecf7a1,#ebf7a0,#ebf79f,#eaf79f,#eaf79f,#ebf79f,#ebf7a0,#ecf7a1,#edf8a3)"></i><i style="background:linear-gradient(90deg,#a9dca4,#b2e0a3,#d2ed9c,#e9f69d,#eff9a7,#f3faac,#f5fbaf,#f4fbae,#f2faab,#f1f9a9,#f1f9a9,#f1f9a9,#f1f9a9,#f1f9a8,#f0f9a8,#f0f9a8,#f0f9a8,#f0f9a7,#eff9a6,#eff8a5,#eef8a5,#edf8a3,#edf8a2,#ecf7a1,#ebf7a0,#ebf7a0,#ebf79f,#ebf79f,#ebf7a0,#ecf7a1,#ecf7a2,#edf8a3)"></i><i style="background:linear-gradient(90deg,#b3e0a2,#bbe3a1,#d7ef9b,#eaf79f,#eff9a7,#f2faab,#f4fbad,#f3faad,#f2faaa,#f1f9a9,#f0f9a8,#f0f9a8,#f0f9a8,#f0f9a8,#f0f9a8,#f0f9a8,#f0f9a7,#f0f9a7,#eff9a6,#eff8a6,#eef8a5,#edf8a4,#edf8a3,#ecf7a1,#ebf7a1,#ebf7a0,#ebf7a0,#ebf7a0,#ebf7a0,#ecf7a1,#ecf8a2,#edf8a3)"></i><i style="background:linear-gradient(90deg,#bce4a0,#c3e79f,#dcf19a,#ebf7a0,#eff9a7,#f2faaa,#f3faac,#f3faac,#f1faaa,#f1f9a8,#f0f9a8,#f0f9a8,#f0f9a8,#f0f9a8,#f0f9a8,#f0f9a8,#f0f9a7,#f0f9a7,#eff9a6,#eff8a6,#eef8a5,#eef8a4,#edf8a3,#ecf8a2,#ecf7a1,#ebf7a0,#ebf7a0,#ebf7a0,#ebf7a1,#ecf7a1,#edf8a2,#edf8a3)"></i><i style="background:linear-gradient(90deg,#c5e89f,#cbea9d,#e1f399,#ecf7a1,#eff9a7,#f1faaa,#f2faab,#f2faab,#f1f9a9,#f0f9a8,#f0f9a8,#f0f9a8,#f0f9a8,#f0f9a8,#f0f9a8,#f0f9a8,#f0f9a7,#f0f9a7,#eff9a6,#eff9a6,#eef8a5,#eef8a4,#edf8a3,#ecf8a2,#ecf7a1,#ecf7a1,#ebf7a0,#ebf7a0,#ecf7a1,#ecf7a2,#edf8a3,#edf8a3)"></i><i style="background:linear-gradient(90deg,#cdeb9d,#d2ed9c,#e5f598,#ecf7a2,#f0f9a7,#f1f9a9,#f2faaa,#f2faaa,#f1f9a9,#f0f9a8,#f0f9a8,#f0f9a8,#f0f9a8,#f0f9a8,#f0f9a8,#f0f9a8,#f0f9a7,#f0f9a7,#eff9a6,#eff9a6,#eef8a5,#eef8a4,#edf8a3,#edf8a2,#ecf7a2,#ecf7a1,#ecf7a1,#ecf7a1,#ecf7a1,#ecf8a2,#edf8a3,#eef8a4)"></i><i style="background:linear-gradient(90deg,#d5ee9c,#d9f09b,#e7f59a,#edf8a3,#f0f9a7,#f1f9a9,#f1faaa,#f1f9aa,#f1f9a9,#f0f9a8,#f0f9a8,#f0f9a8,#f0f9a8,#f0f9a8,#f0f9a8,#f0f9a7,#f0f9a7,#f0f9a7,#eff9a6,#eff9a6,#eef8a5,#eef8a4,#edf8a3,#edf8a3,#ecf8a2,#ecf7a1,#ecf7a1,#ecf7a1,#ecf7a2,#edf8a2,#edf8a3,#eef8a4)"></i><i style="background:linear-gradient(90deg,#dbf19a,#dff299,#e9f69c,#edf8a3,#f0f9a7,#f1f9a9,#f1f9a9,#f1f9a9,#f0f9a8,#f0f9a8,#f0f9a8,#f0f9a8,#f0f9a8,#f0f9a8,#f0f9a8,#f0f9a7,#f0f9a7,#f0f9a7,#eff9a7,#eff9a6,#eff8a5,#eef8a5,#edf8a4,#edf8a3,#edf8a2,#ecf7a2,#ecf7a1,#ecf7a2,#ecf8a2,#edf8a3,#edf8a3,#eef8a4)"></i><i style="background:linear-gradient(90deg,#e1f399,#e4f498,#eaf79e,#eef8a4,#f0f9a7,#f0f9a8,#f1f9a9,#f1f9a9,#f0f9a8,#f0f9a8,#f0f9a8,#f0f9a8,#f0f9a8,#f0f9a8,#f0f9a8,#f0f9a7,#f0f9a7,#f0f9a7,#eff9a7,#eff9a6,#eff8a5,#eef8a5,#eef8a4,#edf8a3,#edf8a2,#ecf8a2,#ecf8a2,#ecf8a2,#edf8a2,#edf8a3,#edf8a4,#eef8a4)"></i><i style="background:linear-gradient(90deg,#e6f598,#e7f59a,#ebf7a0,#eef8a5,#f0f9a7,#f0f9a8,#f1f9a9,#f1f9a8,#f0f9a8,#f0f9a8,#f0f9a8,#f0f9a8,#f0f9a8,#f0f9a8,#f0f9a8,#f0f9a7,#f0f9a7,#f0f9a7,#eff9a7,#eff9a6,#eff8a6,#eef8a5,#eef8a4,#edf8a3,#edf8a3,#edf8a2,#edf8a2,#edf8a2,#edf8a3,#edf8a3,#eef8a4,#eef8a4)"></i><i style="background:linear-gradient(90deg,#e8f69b,#e9f69c,#ecf7a1,#eff8a5,#f0f9a7,#f0f9a8,#f0f9a8,#f0f9a8,#f0f9a8,#f0f9a8,#f0f9a8,#f0f9a8,#f0f9a8,#f0f9a8,#f0f9a8,#f0f9a7,#f0f9a7,#f0f9a7,#eff9a7,#eff9a6,#eff9a6,#eef8a5,#eef8a4,#edf8a4,#edf8a3,#edf8a3,#edf8a2,#edf8a3,#edf8a3,#edf8a3,#eef8a4,#eef8a5)"></i><i style="background:linear-gradient(90deg,#e9f69d,#eaf79e,#edf8a2,#eff9a6,#f0f9a7,#f0f9a8,#f0f9a8,#f0f9a8,#f0f9a8,#f0f9a8,#f0f9a8,#f0f9a8,#f0f9a8,#f0f9a8,#f0f9a8,#f0f9a7,#f0f9a7,#f0f9a7,#eff9a7,#eff9a6,#eff9a6,#eef8a5,#eef8a5,#eef8a4,#edf8a3,#edf8a3,#edf8a3,#edf8a3,#edf8a3,#edf8a4,#eef8a4,#eef8a5)"></i><i style="background:linear-gradient(90deg,#ebf79f,#ebf7a0,#edf8a3,#eff9a6,#f0f9a7,#f0f9a8,#f0f9a8,#f0f9a8,#f0f9a8,#f0f9a8,#f0f9a8,#f0f9a8,#f0f9a8,#f0f9a8,#f0f9a8,#f0f9a7,#f0f9a7,#f0f9a7,#eff9a7,#eff9a6,#eff9a6,#eff8a5,#eef8a5,#eef8a4,#edf8a4,#edf8a3,#edf8a3,#edf8a3,#edf8a3,#eef8a4,#eef8a4,#eef8a5)"></i><i style="background:linear-gradient(90deg,#ecf7a1,#ecf8a2,#eef8a4,#eff9a6,#f0f9a7,#f0f9a8,#f0f9a8,#f0f9a8,#f0f9a8,#f0f9a8,#f0f9a8,#f0f9a8,#f0f9a8,#f0f9a8,#f0f9a8,#f0f9a7,#f0f9a7,#f0f9a7,#f0f9a7,#eff9a6,#eff9a6,#eff8a5,#eef8a5,#eef8a4,#eef8a4,#edf8a4,#edf8a3,#edf8a3,#edf8a4,#eef8a4,#eef8a5,#eef8a5)"></i><i style="background:linear-gradient(90deg,#edf8a3,#edf8a3,#eef8a5,#eff9a7,#f0f9a7,#f0f9a8,#f0f9a8,#f0f9a8,#f0f9a8,#f0f9a8,#f0f9a8,#f0f9a8,#f0f9a8,#f0f9a8,#f0f9a8,#f0f9a7,#f0f9a7,#f0f9a7,#f0f9a7,#eff9a7,#eff9a6,#eff8a6,#eef8a5,#eef8a5,#eef8a4,#eef8a4,#edf8a4,#edf8a4,#eef8a4,#eef8a4,#eef8a5,#eff8a5)"></i></div>
<div class="hm" style="left:31.0px;top:219.30px"><i style="background:linear-gradient(90deg,#d9f09b,#def29a,#ecf7a2,#f9fdb6,#fff5ae,#fee898,#fee28f,#fee391,#fee899,#fff0a6,#fff8b3,#ffffbf,#fcfeba,#f9fdb6,#f8fcb4,#f7fcb2,#f6fcb1,#f6fbb1,#f6fbb0,#f6fbb0,#f6fbb0,#f6fbb1,#f7fcb3,#fafdb7,#ffffbe,#feefa5,#fedb87,#fdc372,#fdb668,#fdb164,#fdb062,#fdaf62)"></i><i style="background:linear-gradient(90deg,#ceeb9d,#d4ed9c,#e9f69c,#f8fcb4,#fff4ad,#fee593,#fede89,#fee08b,#fee594,#feeda1,#fff5af,#fffdbc,#fdfebb,#fafdb7,#f8fcb5,#f7fcb3,#f7fcb2,#f6fcb2,#f6fbb1,#f6fbb1,#f6fbb1,#f7fcb2,#f8fcb5,#fcfeba,#fffab6,#fee797,#fec877,#fdac60,#fa9b58,#fa9656,#f99455,#f99455)"></i><i style="background:linear-gradient(90deg,#c2e79f,#c7e99e,#e4f498,#f6fbb1,#fff4ac,#fee38f,#fed985,#feda86,#fee28f,#feea9d,#fff3ab,#fffbb9,#fdfebd,#fbfdb9,#f9fdb6,#f8fcb4,#f7fcb3,#f7fcb3,#f7fcb2,#f7fcb2,#f7fcb2,#f8fcb4,#fafdb6,#fefebd,#fff4ad,#fedd88,#fdb566,#f99053,#f77f4b,#f67b49,#f67a49,#f67a49)"></i><i style="background:linear-gradient(90deg,#b6e1a2,#bae3a1,#daf09a,#f4fbae,#fff4ac,#fee08c,#fed481,#fed582,#fedf8a,#fee898,#fff1a8,#fffab6,#feffbe,#fcfeba,#fafdb7,#f9fdb5,#f8fcb4,#f8fcb4,#f7fcb3,#f7fcb3,#f8fcb3,#f9fcb5,#fbfdb9,#fffebd,#feeea2,#fece7c,#fb9e59,#f57547,#f16844,#ef6645,#f06645,#f06645)"></i><i style="background:linear-gradient(90deg,#a8dca4,#addea4,#cfec9d,#f2faab,#fff4ad,#fede89,#fed07d,#fed17e,#fedb87,#fee695,#feefa5,#fff8b3,#ffffbe,#fcfebb,#fbfdb8,#f9fdb6,#f9fdb5,#f8fcb5,#f8fcb4,#f8fcb4,#f8fcb5,#fafdb7,#fcfebb,#fffab6,#fee797,#fdbf6f,#f8864f,#ed6246,#e75948,#e75948,#e85a48,#e85b48)"></i><i style="background:linear-gradient(90deg,#98d6a4,#9cd7a4,#c5e79f,#eff9a7,#fff5ae,#fedb87,#fecc7a,#fecd7b,#fed784,#fee491,#feeea2,#fff6b0,#fffdbc,#fdfebc,#fbfeb9,#fafdb7,#f9fdb6,#f9fdb6,#f9fcb5,#f9fcb5,#f9fdb6,#fbfdb8,#feffbe,#fff5ae,#fee18c,#fdb163,#f57245,#e55649,#e1504a,#e2524a,#e35449,#e45549)"></i><i style="background:linear-gradient(90deg,#89d0a4,#8cd1a4,#bae3a1,#edf8a3,#fff6af,#fed985,#fec877,#fec978,#fed481,#fee28e,#feec9f,#fff5ae,#fffcb9,#feffbd,#fcfeba,#fbfdb9,#fafdb7,#fafdb7,#f9fdb6,#f9fdb6,#fafdb7,#fcfeba,#fffdbc,#fff0a6,#fed683,#fba15b,#ef6645,#df4e4b,#de4c4c,#e1504a,#e3534a,#e45449)"></i><i style="background:linear-gradient(90deg,#7acaa5,#7dcba5,#b0dfa3,#ebf79f,#fff7b1,#fed884,#fdc675,#fdc675,#fed27f,#fee18c,#feea9c,#fff3ab,#fffab7,#ffffbf,#fdfebc,#fcfeba,#fbfdb9,#fafdb8,#fafdb7,#fafdb8,#fbfdb9,#fdfebd,#fff9b6,#feeb9d,#fecb7a,#f99355,#ea5e47,#de4b4c,#df4d4b,#e45549,#e65948,#e75a48)"></i><i style="background:linear-gradient(90deg,#6ec5a5,#6fc6a5,#a6dba4,#e9f69c,#fff8b3,#fed683,#fdc373,#fdc473,#fecf7d,#fedf8a,#fee99a,#fff2a9,#fff9b5,#fffebd,#fefebd,#fcfebb,#fcfeba,#fbfdb9,#fbfdb9,#fbfdb9,#fcfebb,#ffffbf,#fff5af,#fee594,#fdc171,#f88850,#e85b48,#df4e4b,#e45549,#ea5e47,#ee6346,#ef6545)"></i><i style="background:linear-gradient(90deg,#64c0a6,#65c0a6,#9dd7a4,#e7f599,#fff8b4,#fed582,#fdc171,#fdc272,#fecd7b,#fedd88,#fee898,#fff0a6,#fff7b2,#fffcbb,#feffbe,#fdfebc,#fcfebb,#fcfeba,#fcfeba,#fcfeba,#fdfebd,#fffcba,#fff1a8,#fee08b,#fdb86a,#f7814c,#e95c47,#e45549,#ec6146,#f46d43,#f57446,#f57747)"></i><i style="background:linear-gradient(90deg,#5fbaa8,#5ebaa8,#96d5a4,#e5f598,#fff9b5,#fed481,#fdc070,#fdc070,#fecc7a,#fedb87,#fee696,#feefa4,#fff6b0,#fffbb8,#ffffbe,#feffbd,#fdfebc,#fdfebb,#fcfebb,#fdfebc,#ffffbf,#fff9b4,#feeda0,#fed783,#fdb063,#f67d4b,#ec6146,#ec6146,#f57245,#f7854e,#f88d52,#f99053)"></i><i style="background:linear-gradient(90deg,#5cb7aa,#5bb6aa,#93d3a4,#e3f499,#fff9b5,#fed380,#fdbe6f,#fdbf6f,#feca79,#feda86,#fee594,#feeda2,#fff4ad,#fff9b6,#fffdbc,#ffffbf,#feffbd,#fdfebc,#fdfebc,#feffbe,#fffdbb,#fff5ae,#fee898,#fece7c,#fca95f,#f67d4a,#f16944,#f57245,#f88c51,#fba05b,#fca95f,#fdab60)"></i><i style="background:linear-gradient(90deg,#5cb7aa,#5bb5aa,#92d3a4,#e4f498,#fff8b4,#fed27f,#fdbd6d,#fdbd6e,#fec978,#fed884,#fee492,#feec9f,#fff3aa,#fff8b3,#fffcb9,#fffebd,#ffffbe,#feffbe,#feffbe,#ffffbf,#fffab7,#fff1a8,#fee390,#fdc675,#fba25c,#f7804c,#f57647,#f88950,#fca75e,#fdb96a,#fdbf70,#fdc171)"></i><i style="background:linear-gradient(90deg,#5fbba8,#5db8a9,#95d4a4,#e6f598,#fff7b2,#fed07e,#fdbb6c,#fdbc6d,#fec877,#fed683,#fee38f,#feea9c,#fff1a7,#fff6b0,#fffab7,#fffdbb,#fffebe,#ffffbf,#ffffbf,#fffdbb,#fff7b2,#feeda1,#fedd89,#fdbf6f,#fb9e59,#f7864e,#f8884f,#fba25b,#fdbd6e,#fecd7b,#fed481,#fed683)"></i><i style="background:linear-gradient(90deg,#66c2a5,#64bfa6,#9cd7a4,#e7f69a,#fff5ae,#fece7c,#fdba6b,#fdbb6c,#fdc675,#fed481,#fee18d,#fee99a,#feefa4,#fff4ad,#fff8b4,#fffbb9,#fffdbc,#fffebd,#fffdbc,#fffab7,#fff4ad,#fee99b,#fed582,#fdb86a,#fa9b58,#f98e52,#fa9a58,#fdb769,#fed17e,#fee08b,#fee492,#fee594)"></i><i style="background:linear-gradient(90deg,#73c7a5,#6fc6a5,#a6dba4,#eaf79e,#fff3aa,#fecc7a,#fdb869,#fdb96a,#fdc574,#fed280,#fedf8b,#fee796,#feeda1,#fff3aa,#fff7b1,#fffab6,#fffcb9,#fffcba,#fffbb9,#fff8b4,#fff1a8,#fee593,#fece7c,#fdb265,#fa9a58,#fa9756,#fdad60,#fec978,#fee28e,#feeb9d,#feeea3,#feefa5)"></i><i style="background:linear-gradient(90deg,#83cda5,#7fcca5,#b2e0a3,#edf8a3,#feefa5,#fec877,#fdb668,#fdb769,#fdc372,#fed07e,#fedd88,#fee593,#feeb9e,#fff1a7,#fff5ae,#fff8b4,#fffab7,#fffbb8,#fffab6,#fff6af,#feeea2,#fee18c,#fdc676,#fdad61,#fa9c58,#fba25b,#fdbb6c,#fed985,#feeb9e,#fff4ac,#fff7b1,#fff8b3)"></i><i style="background:linear-gradient(90deg,#97d5a4,#93d3a4,#bfe5a0,#f1f9a9,#feeb9e,#fdc574,#fdb366,#fdb567,#fdc171,#fecd7b,#fed986,#fee390,#fee99a,#feefa4,#fff3ac,#fff7b1,#fff9b5,#fff9b6,#fff8b3,#fff3ab,#feea9c,#feda86,#fdc070,#fca95e,#fb9e5a,#fdad61,#fec978,#fee593,#fff3ab,#fffbb8,#fffebd,#ffffbf)"></i><i style="background:linear-gradient(90deg,#addea4,#a9dca4,#cfec9d,#f5fbb0,#fee796,#fdc171,#fdb163,#fdb365,#fdbe6e,#fecb79,#fed683,#fee08c,#fee796,#feeda0,#fff2a9,#fff5af,#fff7b2,#fff8b3,#fff6b0,#fff0a6,#fee695,#fed380,#fdb96b,#fca55d,#fba35c,#fdb768,#fed582,#feeda0,#fffab7,#feffbd,#fcfebb,#fcfeba)"></i><i style="background:linear-gradient(90deg,#c2e69f,#bee5a0,#e0f399,#fafdb8,#fee28e,#fdbc6d,#fdad61,#fdb063,#fdbb6c,#fec776,#fed280,#fedd88,#fee492,#feeb9d,#fff0a6,#fff4ac,#fff6b0,#fff6b0,#fff4ac,#feeda1,#fee28f,#fecc7a,#fdb466,#fca35c,#fca85e,#fdc070,#fee18c,#fff3ac,#ffffbe,#fbfdb9,#fafdb7,#f9fdb6)"></i><i style="background:linear-gradient(90deg,#d8ef9b,#d4ee9c,#ebf7a0,#fffebd,#feda86,#fdb769,#fca95f,#fdad60,#fdb869,#fdc473,#fece7c,#fed985,#fee28f,#fee999,#feeea3,#fff2aa,#fff5ae,#fff5ae,#fff1a8,#feea9c,#fedd88,#fdc574,#fdaf62,#fba35c,#fdaf62,#feca78,#fee797,#fff9b5,#fcfeba,#f9fdb6,#f8fcb4,#f7fcb3)"></i><i style="background:linear-gradient(90deg,#e9f69d,#e8f69b,#f3faac,#fff4ad,#fed17e,#fdb264,#fca45c,#fca85e,#fdb466,#fdc070,#feca79,#fed582,#fee08b,#fee796,#feeca0,#fff1a7,#fff3ab,#fff3ab,#feefa4,#fee796,#fed683,#fdbe6f,#fdab5f,#fca45d,#fdb567,#fed380,#feeda1,#fffebe,#fafdb7,#f7fcb3,#f6fbb1,#f6fbb1)"></i><i style="background:linear-gradient(90deg,#f3faac,#f2faaa,#fbfdb9,#feeb9d,#fec877,#fdac60,#fb9e5a,#fba35c,#fdb063,#fdbc6c,#fdc675,#fed17e,#fedc88,#fee593,#feeb9d,#feefa5,#fff2a9,#fff1a7,#feeca0,#fee390,#fed07d,#fdb86a,#fca75e,#fca75e,#fdbc6d,#fedc88,#fff3ab,#fdfebc,#f8fcb4,#f6fbb0,#f5fbaf,#f5fbaf)"></i><i style="background:linear-gradient(90deg,#fcfebb,#fbfdb9,#fff8b4,#fee18d,#fdbe6f,#fca45d,#fa9957,#fb9e5a,#fdab60,#fdb769,#fdc272,#fecd7b,#fed884,#fee38f,#fee99a,#feeea2,#fff0a6,#feefa4,#feea9b,#fedf8a,#fec978,#fdb365,#fca55d,#fdab60,#fdc373,#fee391,#fff8b3,#fbfdb8,#f6fcb1,#f4fbae,#f4faad,#f4faad)"></i><i style="background:linear-gradient(90deg,#fff4ad,#fff7b1,#feec9e,#fed481,#fdb667,#fb9d59,#f99355,#fa9857,#fca65d,#fdb365,#fdbe6e,#fec977,#fed581,#fee18c,#fee898,#feeda0,#feefa3,#feeda0,#fee696,#fed985,#fdc272,#fdae61,#fca45c,#fdb063,#fecb79,#fee99a,#fffdbb,#f9fcb5,#f5fbaf,#f3faad,#f3faac,#f3faac)"></i><i style="background:linear-gradient(90deg,#fee695,#fee899,#fedf8a,#fdc675,#fdad60,#fa9656,#f98e52,#f99354,#fba05b,#fdaf62,#fdba6b,#fdc574,#fed17f,#fede8a,#fee695,#feeb9e,#feeda0,#feea9c,#fee390,#fed280,#fdbc6d,#fca95f,#fca45c,#fdb567,#fed380,#feeea3,#fefebd,#f7fcb2,#f4faad,#f2faab,#f2faab,#f2faab)"></i><i style="background:linear-gradient(90deg,#fed582,#fed884,#fecd7b,#fdba6b,#fba35c,#f98f53,#f8884f,#f88d52,#fa9b58,#fcaa5f,#fdb668,#fdc271,#fece7c,#fedc87,#fee593,#feea9b,#feeb9d,#fee898,#fee08b,#fecc7a,#fdb668,#fca55d,#fca65d,#fdbb6c,#fedc87,#fff4ac,#fbfeb9,#f5fbb0,#f2faab,#f1faaa,#f1f9a9,#f1faaa)"></i><i style="background:linear-gradient(90deg,#fdc272,#fdc575,#fdbe6e,#fdaf61,#fa9958,#f88950,#f7834d,#f8884f,#fa9556,#fca55d,#fdb365,#fdbe6f,#fecc7a,#fed985,#fee390,#fee898,#fee99a,#fee593,#feda86,#fdc575,#fdb163,#fba35c,#fca95f,#fdc171,#fee390,#fff9b5,#f9fdb6,#f4faad,#f1f9aa,#f1f9a8,#f1f9a8,#f1f9a9)"></i><i style="background:linear-gradient(90deg,#fdb264,#fdb567,#fdb063,#fba25b,#f99154,#f7844d,#f67e4b,#f7834d,#f99053,#fba05b,#fdaf62,#fdbc6c,#fec978,#fed783,#fee28e,#fee696,#fee796,#fee28e,#fed481,#fdbf6f,#fdac60,#fba15b,#fdae61,#fec977,#fee899,#fffebd,#f7fcb2,#f2faab,#f0f9a8,#f0f9a7,#f0f9a7,#f0f9a8)"></i><i style="background:linear-gradient(90deg,#fba25b,#fca65d,#fba25b,#fa9757,#f88a51,#f67f4b,#f67949,#f67e4b,#f88b51,#fa9c59,#fdac60,#fdb96a,#fdc776,#fed582,#fee08c,#fee593,#fee492,#fede89,#fecd7b,#fdb96a,#fca65d,#fba15b,#fdb265,#fed17e,#feeea2,#fdfebc,#f5fbaf,#f1f9a8,#eff9a6,#eff9a6,#eff9a7,#f0f9a7)"></i><i style="background:linear-gradient(90deg,#f99355,#fa9756,#fa9556,#f98f53,#f7854e,#f67b49,#f57647,#f67a49,#f8874f,#fa9857,#fca95f,#fdb769,#fdc574,#fed380,#fede8a,#fee390,#fee28e,#fed884,#fdc676,#fdb365,#fba25c,#fba35c,#fdb869,#fed985,#fff3ab,#fafdb8,#f3faac,#eff9a6,#eef8a5,#eef8a5,#eff9a6,#eff9a7)"></i><i style="background:linear-gradient(90deg,#f88950,#f88c51,#f88c51,#f8884f,#f7804c,#f57748,#f57245,#f57647,#f7834d,#f99455,#fca65d,#fdb567,#fdc373,#fed17e,#fedc88,#fee18c,#fede89,#fed27f,#fdc070,#fdad60,#fb9f5a,#fca65d,#fdbe6f,#fee18c,#fff8b4,#f8fcb4,#f1f9a9,#eef8a4,#edf8a3,#eef8a4,#eef8a5,#eff9a6)"></i><i style="background:linear-gradient(90deg,#f7814c,#f7844e,#f7854e,#f7834d,#f67d4b,#f57547,#f47044,#f57346,#f77f4b,#f99154,#fca35c,#fdb466,#fdc171,#fecf7d,#fed985,#fede89,#fed985,#fecc7a,#fdb96a,#fca65e,#fb9e59,#fcaa5f,#fdc575,#fee696,#fffebd,#f5fbb0,#eff9a6,#edf8a2,#edf8a2,#edf8a3,#eef8a4,#eff8a5)"></i><i style="background:linear-gradient(90deg,#f67c4a,#f67f4b,#f7814c,#f7804c,#f67c4a,#f57446,#f46d43,#f47044,#f67c4a,#f98e52,#fba15b,#fdb264,#fdc070,#fecd7b,#fed783,#feda86,#fed481,#fdc574,#fdb365,#fba15b,#fb9d59,#fdaf62,#fecd7b,#feec9f,#fdfebc,#f3faac,#edf8a4,#ecf7a1,#ecf7a1,#edf8a2,#eef8a4,#eef8a5)"></i><i style="background:linear-gradient(90deg,#f67a49,#f67c4a,#f67f4b,#f77f4b,#f67b4a,#f57346,#f46c43,#f46d43,#f67949,#f88b51,#fb9f5a,#fdb163,#fdbe6f,#fecb79,#fed481,#fed582,#fece7b,#fdbe6e,#fdac60,#fb9d59,#fb9f5a,#fdb567,#fed582,#fff1a8,#fafdb7,#f1f9a9,#ecf7a1,#ebf79f,#ebf7a0,#ecf7a2,#edf8a3,#eef8a4)"></i><i style="background:linear-gradient(90deg,#f67a49,#f67c4a,#f67f4b,#f77f4b,#f67c4a,#f57346,#f36c43,#f36c43,#f57647,#f88950,#fb9d59,#fdaf62,#fdbd6d,#fec977,#fed07e,#fed07e,#fec776,#fdb769,#fca45d,#fa9958,#fba25b,#fdbb6c,#fede89,#fff7b1,#f8fcb3,#eff9a6,#ebf79f,#eaf69e,#eaf79f,#ecf7a1,#edf8a3,#eef8a4)"></i><i style="background:linear-gradient(90deg,#f67c4a,#f67e4b,#f7804c,#f7814c,#f67d4b,#f57446,#f36c43,#f26b44,#f57446,#f8864f,#fa9b58,#fdae61,#fdbb6c,#fdc675,#fecd7b,#fecb79,#fdc070,#fdb063,#fb9e59,#fa9857,#fca65d,#fdc272,#fee492,#fffcba,#f5fbb0,#edf8a3,#e9f69d,#e9f69c,#eaf79e,#ebf7a0,#edf8a2,#edf8a4)"></i><i style="background:linear-gradient(90deg,#f7814c,#f7824d,#f7844d,#f7844e,#f7804c,#f57647,#f36c43,#f26a44,#f57245,#f7844e,#fa9857,#fdab60,#fdb96a,#fdc373,#fec977,#fdc575,#fdb96b,#fca85e,#fa9857,#fa9756,#fdab60,#feca78,#fee99b,#feffbd,#f3faac,#ecf7a1,#e8f69c,#e8f69b,#e9f69d,#ebf7a0,#ecf8a2,#edf8a3)"></i><i style="background:linear-gradient(90deg,#f8864f,#f8874f,#f8884f,#f8884f,#f7834d,#f67848,#f46c43,#f26944,#f47045,#f7824d,#fa9656,#fca95f,#fdb768,#fdc070,#fdc474,#fdbf6f,#fdb264,#fb9f5a,#f99354,#fa9857,#fdb164,#fed27f,#feefa4,#fbfdb9,#f1f9a9,#eaf79e,#e7f69a,#e8f69a,#e9f69d,#ebf79f,#ecf7a1,#edf8a3)"></i><i style="background:linear-gradient(90deg,#f88d52,#f88d52,#f98e52,#f88d52,#f8874f,#f67b49,#f46e43,#f26944,#f46f44,#f7804c,#f99455,#fca65d,#fdb466,#fdbd6d,#fdbf6f,#fdb96a,#fcaa5f,#fa9756,#f98f53,#fa9b58,#fdb769,#feda86,#fff4ad,#f9fcb5,#eff9a6,#e9f69d,#e7f599,#e7f59a,#e9f69c,#eaf79f,#ecf7a1,#edf8a3)"></i><i style="background:linear-gradient(90deg,#fa9556,#f99455,#f99455,#f99254,#f88b51,#f67e4b,#f46f44,#f26944,#f46e43,#f67d4b,#f99154,#fba35c,#fdb164,#fdb96a,#fdba6b,#fdb264,#fba05b,#f99053,#f88d52,#fb9e5a,#fdbe6e,#fee18d,#fff9b5,#f6fcb1,#edf8a3,#e8f69b,#e6f598,#e7f599,#e8f69c,#eaf79f,#ecf7a1,#edf8a2)"></i><i style="background:linear-gradient(90deg,#fb9e5a,#fb9d59,#fa9b58,#fa9857,#f99053,#f7824c,#f57145,#f26a44,#f46d43,#f67b4a,#f98e52,#fba05a,#fdae61,#fdb567,#fdb466,#fcaa5f,#fa9757,#f88950,#f88c51,#fca35c,#fdc574,#fee796,#fffebd,#f4fbae,#ecf7a1,#e7f59a,#e5f598,#e7f599,#e8f69c,#eaf79e,#ebf7a0,#ecf8a2)"></i><i style="background:linear-gradient(90deg,#fca85e,#fca55d,#fba25c,#fb9e5a,#fa9555,#f7854e,#f57446,#f26a44,#f36c43,#f67949,#f88b51,#fb9c59,#fcaa5f,#fdb063,#fdaf61,#fba15b,#f98f53,#f7844e,#f88c51,#fca95f,#fecd7b,#feec9f,#fdfebc,#f2faab,#eaf79f,#e6f598,#e4f498,#e6f599,#e8f69b,#eaf79e,#ebf7a0,#ecf8a2)"></i><i style="background:linear-gradient(90deg,#fdb063,#fdae61,#fcaa5f,#fca45d,#fa9a58,#f88a50,#f57747,#f36b43,#f36c43,#f57748,#f88850,#fa9857,#fca55d,#fdab60,#fca75e,#fa9857,#f8874f,#f7804c,#f98e52,#fdb063,#fed481,#fff1a7,#fbfdb8,#f1f9a8,#e9f69d,#e5f598,#e4f498,#e6f598,#e8f69b,#eaf69e,#ebf7a0,#ecf7a2)"></i><i style="background:linear-gradient(90deg,#fdb869,#fdb567,#fdb164,#fdab60,#fba05a,#f98e52,#f67a49,#f46c43,#f36c43,#f57647,#f7854e,#f99455,#fba05b,#fca55d,#fba05a,#f99053,#f7804c,#f67d4a,#f99154,#fdb668,#fedc88,#fff5af,#f9fcb5,#eff9a6,#e9f69c,#e5f498,#e4f498,#e6f598,#e8f69b,#e9f69d,#ebf7a0,#ecf7a1)"></i><i style="background:linear-gradient(90deg,#fdc070,#fdbc6d,#fdb769,#fdb163,#fca55d,#f99254,#f67d4a,#f46e44,#f36c43,#f57446,#f7824d,#f99153,#fa9b58,#fb9f5a,#fa9857,#f88950,#f67a49,#f67c4a,#fa9556,#fdbd6d,#fee28f,#fffab6,#f7fcb2,#eef8a4,#e8f69b,#e4f498,#e4f498,#e6f598,#e8f69b,#e9f69d,#ebf79f,#ecf7a1)"></i><i style="background:linear-gradient(90deg,#fec776,#fdc373,#fdbd6e,#fdb668,#fdab60,#fa9756,#f7814c,#f47045,#f46c43,#f57346,#f7804c,#f88d52,#fa9756,#fa9957,#f99254,#f7824d,#f57647,#f67c4a,#fa9b58,#fdc473,#fee797,#fffebd,#f5fbb0,#edf8a3,#e8f69a,#e4f498,#e4f498,#e6f598,#e8f69b,#e9f69d,#ebf79f,#ecf7a1)"></i><i style="background:linear-gradient(90deg,#fecf7d,#feca79,#fdc473,#fdbb6c,#fdb063,#fa9c59,#f7854e,#f57346,#f46d43,#f57245,#f67d4b,#f88950,#f99254,#f99455,#f88c51,#f67d4a,#f57346,#f67e4b,#fba15b,#fecb79,#feec9e,#fefebd,#f4faad,#ecf7a1,#e7f59a,#e4f498,#e4f498,#e6f598,#e8f69b,#e9f69d,#eaf79f,#ecf7a1)"></i><i style="background:linear-gradient(90deg,#fed783,#fed27f,#feca78,#fdc070,#fdb466,#fba15b,#f88950,#f57647,#f46f44,#f57245,#f67c4a,#f7864f,#f98e52,#f98f53,#f8874f,#f67948,#f57246,#f7824d,#fca95f,#fed27f,#fff0a5,#fcfeba,#f2faab,#ebf7a0,#e7f59a,#e4f498,#e4f498,#e6f598,#e8f69b,#e9f69d,#eaf79f,#ecf7a1)"></i><i style="background:linear-gradient(90deg,#fede8a,#fed985,#fed07d,#fdc675,#fdb96a,#fca65d,#f88d52,#f67a49,#f57145,#f57245,#f67a49,#f7844d,#f88b51,#f88b51,#f7834d,#f57647,#f57346,#f8874f,#fdb063,#fed985,#fff4ac,#fafdb7,#f1faaa,#ebf7a0,#e7f599,#e4f498,#e5f498,#e6f599,#e8f69a,#e9f69c,#eaf79e,#ebf7a1)"></i><i style="background:linear-gradient(90deg,#fee491,#fee08b,#fed683,#fecb79,#fdbd6e,#fdab60,#f99254,#f67e4b,#f57446,#f57346,#f67a49,#f7824d,#f8884f,#f88850,#f7804c,#f57647,#f57647,#f88d52,#fdb769,#fee08b,#fff7b2,#f9fcb5,#f0f9a8,#ebf79f,#e7f599,#e5f498,#e5f598,#e6f599,#e8f69a,#e9f69c,#eaf79e,#ebf7a0)"></i><i style="background:linear-gradient(90deg,#fee899,#fee492,#fedc88,#fed07e,#fdc272,#fdb063,#fa9756,#f7824d,#f57747,#f57547,#f67a49,#f7814c,#f7864f,#f7864f,#f67f4b,#f57647,#f67a49,#f99555,#fdbf6f,#fee593,#fffbb8,#f7fcb3,#f0f9a7,#eaf79f,#e7f59a,#e5f598,#e5f598,#e6f599,#e7f69a,#e9f69c,#eaf79e,#ebf7a0)"></i><i style="background:linear-gradient(90deg,#feeda1,#fee99a,#fee18d,#fed582,#fdc776,#fdb466,#fa9b58,#f7864f,#f67a49,#f57748,#f67a49,#f7804c,#f7854e,#f7854e,#f77f4b,#f67949,#f7804c,#fb9d59,#fdc675,#fee99a,#fffebd,#f6fbb1,#eff9a6,#eaf79e,#e7f59a,#e6f598,#e6f598,#e6f599,#e7f69a,#e9f69c,#eaf79e,#ebf7a0)"></i><i style="background:linear-gradient(90deg,#fff1a8,#feeda1,#fee594,#fedb86,#fecb7a,#fdb86a,#fba05b,#f88b51,#f67f4b,#f67b49,#f67c4a,#f7814c,#f7854e,#f7854e,#f7814c,#f67d4b,#f8874f,#fca75e,#fece7c,#feeda0,#feffbd,#f5fbb0,#eff8a6,#eaf79e,#e7f59a,#e6f598,#e6f598,#e6f599,#e7f69a,#e8f69c,#eaf79e,#ebf7a0)"></i><i style="background:linear-gradient(90deg,#fff6b0,#fff2a8,#fee99a,#fee08b,#fed07e,#fdbc6d,#fca55d,#f99053,#f7834d,#f67e4b,#f67e4b,#f7824d,#f7864e,#f8874f,#f7844d,#f7834d,#f99053,#fdb063,#fed582,#fff0a7,#fcfebb,#f4fbae,#eef8a5,#eaf79e,#e7f69a,#e6f598,#e6f598,#e6f599,#e7f69a,#e8f69c,#eaf69e,#ebf7a0)"></i><i style="background:linear-gradient(90deg,#fffbb8,#fff6b0,#feeda1,#fee390,#fed582,#fdc171,#fcaa5f,#fa9555,#f88950,#f7834d,#f7824c,#f7844e,#f8884f,#f88950,#f8884f,#f88a50,#fa9957,#fdb96a,#fedd88,#fff4ad,#fbfdb9,#f4faad,#eef8a4,#eaf79e,#e7f69a,#e6f598,#e6f598,#e6f599,#e7f69a,#e8f69c,#eaf69e,#ebf7a0)"></i><i style="background:linear-gradient(90deg,#ffffbf,#fffab7,#fff1a7,#fee796,#feda86,#fdc574,#fdaf62,#fa9a58,#f98e52,#f8884f,#f7854e,#f8874f,#f88a50,#f88c51,#f88d52,#f99154,#fca35c,#fdc171,#fee28f,#fff7b2,#fafdb7,#f3faac,#eef8a4,#eaf79e,#e8f69a,#e6f599,#e6f598,#e6f599,#e7f59a,#e8f69c,#eaf69e,#ebf7a0)"></i><i style="background:linear-gradient(90deg,#fcfebb,#ffffbf,#fff5ae,#feea9c,#fede8a,#fec978,#fdb265,#fb9f5a,#f99455,#f88d52,#f88a50,#f88a51,#f88d52,#f99053,#f99354,#fa9a58,#fdae61,#fec978,#fee796,#fffab7,#f9fcb5,#f2faab,#edf8a4,#eaf79e,#e8f69b,#e7f599,#e6f598,#e6f599,#e7f59a,#e8f69b,#eaf69d,#ebf7a0)"></i><i style="background:linear-gradient(90deg,#fafdb7,#fcfebb,#fff9b4,#feeda1,#fee28e,#fecd7b,#fdb668,#fca45c,#fa9a58,#f99354,#f98f53,#f98e52,#f99154,#fa9555,#fa9957,#fba35c,#fdb668,#fed17e,#feeb9d,#fffdbc,#f8fcb4,#f2faaa,#edf8a3,#eaf79e,#e8f69b,#e7f599,#e6f598,#e6f599,#e7f59a,#e8f69b,#e9f69d,#ebf7a0)"></i><i style="background:linear-gradient(90deg,#f7fcb3,#fafdb7,#fffcbb,#fff0a7,#fee593,#fed17e,#fdb96a,#fca95f,#fba05a,#fa9957,#f99455,#f99354,#fa9556,#fa9a58,#fba05b,#fdac60,#fdbe6e,#fed985,#feeea3,#ffffbe,#f7fcb2,#f1faaa,#edf8a3,#eaf79e,#e8f69b,#e7f599,#e6f599,#e7f599,#e7f59a,#e8f69b,#e9f69d,#ebf7a0)"></i><i style="background:linear-gradient(90deg,#f5fbaf,#f8fcb3,#feffbe,#fff4ac,#fee898,#fed581,#fdbc6d,#fdae61,#fca65d,#fb9f5a,#fa9957,#fa9857,#fa9a58,#fb9f5a,#fca75e,#fdb365,#fdc575,#fee08b,#fff2a9,#fdfebc,#f6fbb1,#f1f9a9,#edf8a3,#eaf79e,#e8f69b,#e7f599,#e6f599,#e7f599,#e7f59a,#e8f69b,#e9f69d,#ebf7a0)"></i><i style="background:linear-gradient(90deg,#f2faab,#f5fbb0,#fcfebb,#fff7b1,#feea9c,#fed884,#fdbf6f,#fdb164,#fdac60,#fca55d,#fb9f5a,#fb9c59,#fb9e5a,#fca45c,#fdae61,#fdba6b,#fecd7b,#fee491,#fff5ae,#fcfebb,#f5fbb0,#f0f9a8,#edf8a3,#eaf79e,#e8f69b,#e7f599,#e6f599,#e7f599,#e7f59a,#e8f69b,#e9f69d,#ebf7a0)"></i><i style="background:linear-gradient(90deg,#f0f9a7,#f3faac,#fafdb8,#fffab6,#feeda1,#fedb87,#fdc272,#fdb566,#fdb163,#fdac60,#fca55d,#fba15b,#fba35c,#fca95f,#fdb365,#fdc070,#fed380,#fee797,#fff8b3,#fbfdb9,#f5fbaf,#f0f9a8,#edf8a2,#eaf79e,#e8f69b,#e7f599,#e6f599,#e7f599,#e7f59a,#e8f69b,#e9f69d,#ebf7a0)"></i><i style="background:linear-gradient(90deg,#edf8a3,#f0f9a8,#f8fcb5,#fffdbb,#feefa5,#fedf8a,#fdc474,#fdb869,#fdb567,#fdb164,#fdab5f,#fca75e,#fca85e,#fdae61,#fdb769,#fdc575,#fed985,#feeb9d,#fffab7,#fafdb8,#f4fbae,#f0f9a7,#edf8a2,#eaf79e,#e8f69b,#e7f59a,#e7f599,#e7f599,#e7f59a,#e8f69b,#eaf69d,#ebf7a0)"></i><i style="background:linear-gradient(90deg,#ebf7a0,#eef8a5,#f6fcb2,#ffffbf,#fff2a9,#fee18d,#fdc776,#fdbb6c,#fdba6b,#fdb668,#fdb063,#fdac60,#fdad60,#fdb265,#fdbc6d,#fecb79,#fedf8a,#feeea2,#fffcba,#f9fdb6,#f4fbae,#f0f9a7,#ecf8a2,#eaf79e,#e8f69b,#e7f59a,#e7f599,#e7f599,#e7f69a,#e8f69c,#eaf69e,#ebf7a0)"></i><i style="background:linear-gradient(90deg,#e9f69c,#ecf7a1,#f5fbaf,#fdfebc,#fff4ad,#fee390,#fec978,#fdbe6e,#fdbe6f,#fdbb6c,#fdb567,#fdb163,#fdb164,#fdb668,#fdc171,#fed07d,#fee28f,#fff0a6,#fffebe,#f9fdb5,#f4faad,#eff9a7,#ecf8a2,#eaf79e,#e8f69c,#e7f59a,#e7f599,#e7f599,#e7f69a,#e8f69c,#eaf69e,#ebf7a0)"></i><i style="background:linear-gradient(90deg,#e7f599,#eaf79e,#f3faac,#fcfeba,#fff7b1,#fee593,#fecb7a,#fdc171,#fdc373,#fdc070,#fdba6b,#fdb567,#fdb567,#fdbb6c,#fdc574,#fed581,#fee594,#fff3aa,#ffffbe,#f8fcb4,#f3faad,#eff9a6,#ecf8a2,#eaf79e,#e8f69c,#e7f69a,#e7f599,#e7f599,#e7f69a,#e8f69c,#eaf69e,#ebf7a0)"></i><i style="background:linear-gradient(90deg,#e3f499,#e8f69b,#f1faaa,#fafdb8,#fff9b4,#fee696,#fece7c,#fdc474,#fec877,#fdc675,#fdbf6f,#fdba6b,#fdba6b,#fdbf6f,#feca78,#fed986,#fee898,#fff5ae,#fefebd,#f8fcb3,#f3faac,#eff9a6,#ecf8a2,#eaf79e,#e8f69c,#e7f69a,#e7f599,#e7f599,#e8f69a,#e8f69c,#eaf69e,#ebf7a0)"></i><i style="background:linear-gradient(90deg,#dff299,#e6f598,#f0f9a7,#f9fdb6,#fffbb8,#fee899,#fed07e,#fec877,#fecd7b,#fecb7a,#fdc574,#fdbf70,#fdbf6f,#fdc474,#fecf7d,#fede8a,#feeb9d,#fff7b2,#fdfebb,#f7fcb3,#f3faac,#eff9a6,#ecf7a2,#eaf79e,#e8f69c,#e7f69a,#e7f59a,#e7f59a,#e8f69b,#e9f69c,#eaf79e,#ebf7a0)"></i><i style="background:linear-gradient(90deg,#dbf09a,#e3f499,#eef8a5,#f8fcb4,#fffdbb,#feea9c,#fed380,#fecc7a,#fed27f,#fed17f,#fecb79,#fdc575,#fdc574,#feca78,#fed481,#fee28f,#feeda2,#fff9b5,#fcfeba,#f7fcb2,#f2faab,#eff9a6,#ecf7a2,#eaf79e,#e9f69c,#e8f69a,#e7f59a,#e7f59a,#e8f69b,#e9f69c,#eaf79e,#ebf7a0)"></i><i style="background:linear-gradient(90deg,#d7ef9b,#dff299,#edf8a3,#f7fcb2,#ffffbf,#feec9f,#fed783,#fed07e,#fed784,#fed884,#fed27f,#fecc7a,#fecb7a,#fed07e,#feda86,#fee594,#fff0a6,#fffcb9,#fbfdb9,#f6fbb1,#f2faab,#eff8a6,#ecf7a2,#eaf79f,#e9f69c,#e8f69b,#e7f69a,#e7f69a,#e8f69b,#e9f69c,#eaf79e,#ebf7a0)"></i><i style="background:linear-gradient(90deg,#d4ee9c,#dcf19a,#ecf7a1,#f6fbb0,#feffbe,#feeea3,#fedb87,#fed582,#fedd89,#fedf8a,#fed985,#fed380,#fed380,#fed784,#fee08c,#fee99a,#fff3ab,#fffebd,#fafdb7,#f5fbb0,#f2faaa,#eff8a5,#ecf7a2,#eaf79f,#e9f69c,#e8f69b,#e7f69a,#e7f69a,#e8f69b,#e9f69d,#eaf79e,#ebf7a0)"></i><i style="background:linear-gradient(90deg,#d1ec9c,#d9f09b,#ebf79f,#f5fbaf,#fdfebc,#fff0a6,#fedf8a,#feda86,#fee28f,#fee391,#fee08b,#fedb87,#feda86,#fedf8a,#fee593,#feeda0,#fff6b0,#feffbe,#f9fdb6,#f5fbaf,#f1faaa,#eef8a5,#ecf7a2,#eaf79f,#e9f69d,#e8f69b,#e8f69a,#e8f69b,#e8f69b,#e9f69d,#eaf79f,#ecf7a1)"></i><i style="background:linear-gradient(90deg,#ceeb9d,#d6ef9b,#eaf79e,#f4fbae,#fcfeba,#fff3aa,#fee28f,#fee08b,#fee695,#fee898,#fee593,#fee28f,#fee28e,#fee492,#fee99b,#fff1a7,#fff9b6,#fdfebc,#f8fcb5,#f4fbae,#f1f9a9,#eef8a5,#ecf7a2,#eaf79f,#e9f69d,#e8f69b,#e8f69b,#e8f69b,#e8f69c,#e9f69d,#eaf79f,#ecf7a1)"></i><i style="background:linear-gradient(90deg,#cceb9d,#d4ee9c,#e9f69d,#f3faac,#fbfdb9,#fff5ae,#fee594,#fee491,#feea9c,#feeca0,#feea9c,#fee797,#fee797,#fee99a,#feeea2,#fff5ae,#fffdbb,#fcfeba,#f7fcb3,#f4fbae,#f1f9a9,#eef8a5,#ecf7a2,#eaf79f,#e9f69d,#e8f69c,#e8f69b,#e8f69b,#e9f69c,#e9f69d,#ebf79f,#ecf7a1)"></i><i style="background:linear-gradient(90deg,#caea9e,#d2ed9c,#e8f69c,#f2faab,#fafdb7,#fff8b2,#fee99a,#fee797,#feeea3,#fff1a7,#feefa4,#feeda0,#feec9f,#feeea3,#fff3aa,#fff9b4,#ffffbe,#fafdb8,#f7fcb2,#f3faad,#f0f9a8,#eef8a5,#ecf7a2,#ebf79f,#e9f69d,#e9f69c,#e8f69b,#e8f69b,#e9f69c,#eaf69e,#ebf79f,#ecf7a1)"></i><i style="background:linear-gradient(90deg,#c9e99e,#d1ec9c,#e8f69b,#f1faaa,#f9fdb6,#fffab7,#feec9f,#feeb9e,#fff2aa,#fff5af,#fff4ac,#fff2a9,#fff1a8,#fff3ab,#fff7b2,#fffdbb,#fdfebc,#f9fdb6,#f6fbb1,#f3faac,#f0f9a8,#eef8a5,#ecf7a2,#ebf79f,#eaf69e,#e9f69c,#e8f69c,#e8f69c,#e9f69d,#eaf79e,#ebf7a0,#ecf7a1)"></i><i style="background:linear-gradient(90deg,#c8e99e,#d0ec9d,#e7f59a,#f1f9a9,#f8fcb4,#fffdbb,#fff0a5,#feefa5,#fff6b0,#fff9b6,#fff8b3,#fff6b1,#fff6b0,#fff8b3,#fffbb9,#feffbe,#fbfdb9,#f8fcb4,#f5fbaf,#f2faab,#f0f9a8,#eef8a4,#ecf8a2,#ebf7a0,#eaf69e,#e9f69d,#e9f69c,#e9f69c,#e9f69d,#eaf79e,#ebf7a0,#ecf7a2)"></i><i style="background:linear-gradient(90deg,#c8e99e,#cfec9d,#e7f599,#f0f9a8,#f7fcb3,#ffffbf,#fff3ab,#fff3ab,#fffab7,#fffdbc,#fffcba,#fffbb8,#fffbb8,#fffcbb,#ffffbf,#fcfebb,#fafdb7,#f7fcb2,#f4fbae,#f2faaa,#f0f9a7,#eef8a4,#ecf8a2,#ebf7a0,#eaf79e,#e9f69d,#e9f69c,#e9f69d,#e9f69d,#eaf79e,#ebf7a0,#ecf7a2)"></i><i style="background:linear-gradient(90deg,#c7e99e,#cfeb9d,#e6f599,#f0f9a7,#f6fcb2,#fefebd,#fff7b1,#fff7b1,#fffebd,#feffbd,#feffbe,#ffffbf,#ffffbf,#feffbe,#fdfebb,#fbfdb8,#f8fcb5,#f6fbb1,#f4faad,#f1faaa,#f0f9a7,#eef8a4,#ecf8a2,#ebf7a0,#eaf79e,#e9f69d,#e9f69d,#e9f69d,#eaf69e,#eaf79f,#ebf7a0,#ecf8a2)"></i><i style="background:linear-gradient(90deg,#c8e99e,#cfeb9d,#e6f598,#eff9a7,#f6fbb1,#fcfebb,#fffab7,#fffbb7,#feffbd,#fcfebb,#fcfebb,#fdfebc,#fdfebc,#fcfebb,#fbfdb9,#f9fdb6,#f7fcb3,#f5fbaf,#f3faac,#f1f9a9,#eff9a7,#eef8a4,#ecf8a2,#ebf7a0,#eaf79f,#eaf69e,#e9f69d,#e9f69d,#eaf79e,#ebf79f,#ebf7a1,#edf8a2)"></i><i style="background:linear-gradient(90deg,#c8e99e,#cfec9d,#e6f598,#eff9a6,#f5fbaf,#fbfdb9,#fffebd,#fffebd,#fcfebb,#fbfdb8,#fbfdb8,#fbfdb9,#fbfdb9,#fafdb8,#f9fdb6,#f8fcb4,#f6fbb1,#f4fbae,#f3faac,#f1f9a9,#eff9a7,#eef8a4,#edf8a2,#ebf7a0,#eaf79f,#eaf79e,#eaf69e,#eaf69e,#eaf79e,#ebf79f,#ecf7a1,#edf8a2)"></i><i style="background:linear-gradient(90deg,#c9e99e,#d0ec9d,#e6f598,#eff9a6,#f4fbaf,#fafdb7,#feffbd,#feffbd,#fbfdb8,#f9fdb6,#f9fdb6,#f9fdb6,#f9fdb6,#f9fdb5,#f8fcb4,#f7fcb2,#f5fbb0,#f4faad,#f2faab,#f1f9a9,#eff9a6,#eef8a4,#edf8a2,#ecf7a1,#ebf79f,#eaf79e,#eaf79e,#eaf79e,#eaf79f,#ebf7a0,#ecf7a1,#edf8a3)"></i><i style="background:linear-gradient(90deg,#caea9e,#d1ec9c,#e6f598,#eff8a6,#f4fbae,#f9fcb5,#fcfebb,#fcfeba,#f9fdb6,#f8fcb4,#f8fcb4,#f8fcb4,#f8fcb4,#f8fcb3,#f7fcb2,#f6fbb0,#f4fbae,#f3faac,#f2faaa,#f0f9a8,#eff9a6,#eef8a4,#edf8a3,#ecf7a1,#ebf7a0,#eaf79f,#eaf79e,#eaf79e,#ebf79f,#ebf7a0,#ecf7a1,#edf8a3)"></i><i style="background:linear-gradient(90deg,#ccea9d,#d2ed9c,#e6f599,#eff8a5,#f3faad,#f8fcb3,#fbfdb8,#fbfdb8,#f8fcb4,#f7fcb2,#f7fcb2,#f7fcb2,#f7fcb2,#f6fcb2,#f6fbb1,#f5fbaf,#f4fbad,#f3faac,#f1faaa,#f0f9a8,#eff9a6,#eef8a4,#edf8a3,#ecf7a1,#ebf7a0,#ebf79f,#eaf79f,#eaf79f,#ebf79f,#ebf7a0,#ecf7a2,#edf8a3)"></i><i style="background:linear-gradient(90deg,#cdeb9d,#d3ed9c,#e7f599,#eef8a5,#f3faac,#f7fcb2,#f9fdb6,#f9fdb6,#f7fcb3,#f6fbb1,#f6fbb1,#f6fbb1,#f6fbb1,#f6fbb0,#f5fbaf,#f4fbae,#f3faad,#f2faab,#f1f9aa,#f0f9a8,#eff9a6,#eef8a5,#edf8a3,#ecf7a2,#ebf7a0,#ebf79f,#ebf79f,#ebf79f,#ebf7a0,#ecf7a1,#ecf8a2,#edf8a3)"></i><i style="background:linear-gradient(90deg,#cfec9d,#d5ee9b,#e7f59a,#eef8a5,#f3faac,#f6fbb1,#f8fcb4,#f8fcb4,#f6fbb1,#f5fbb0,#f5fbb0,#f5fbb0,#f5fbb0,#f5fbaf,#f4fbae,#f4faad,#f3faac,#f2faab,#f1f9a9,#f0f9a8,#eff9a6,#eef8a5,#edf8a3,#ecf8a2,#ecf7a1,#ebf7a0,#ebf79f,#ebf7a0,#ebf7a0,#ecf7a1,#edf8a2,#edf8a4)"></i><i style="background:linear-gradient(90deg,#d1ed9c,#d7ef9b,#e7f69a,#eef8a5,#f2faab,#f5fbaf,#f7fcb2,#f7fcb2,#f5fbb0,#f5fbaf,#f4fbaf,#f5fbaf,#f4fbaf,#f4fbae,#f4faad,#f3faad,#f2faab,#f2faaa,#f1f9a9,#f0f9a8,#eff9a6,#eef8a5,#edf8a3,#ecf8a2,#ecf7a1,#ebf7a0,#ebf7a0,#ebf7a0,#ebf7a1,#ecf7a1,#edf8a3,#eef8a4)"></i><i style="background:linear-gradient(90deg,#d4ee9c,#d9f09b,#e8f69b,#eef8a5,#f2faab,#f4fbae,#f6fbb1,#f6fbb1,#f5fbaf,#f4fbae,#f4fbae,#f4fbae,#f4fbae,#f4faad,#f3faad,#f3faac,#f2faab,#f2faaa,#f1f9a9,#f0f9a8,#eff9a6,#eef8a5,#edf8a4,#edf8a2,#ecf7a1,#ecf7a1,#ebf7a0,#ebf7a0,#ecf7a1,#ecf7a2,#edf8a3,#eef8a4)"></i><i style="background:linear-gradient(90deg,#d6ef9b,#dbf09a,#e8f69c,#eef8a5,#f2faaa,#f4faad,#f5fbb0,#f5fbaf,#f4fbae,#f4faad,#f3faad,#f4faad,#f3faad,#f3faad,#f3faac,#f2faab,#f2faab,#f1faaa,#f1f9a9,#f0f9a8,#eff9a6,#eef8a5,#eef8a4,#edf8a3,#ecf7a2,#ecf7a1,#ecf7a1,#ecf7a1,#ecf7a1,#ecf8a2,#edf8a3,#eef8a4)"></i><i style="background:linear-gradient(90deg,#d9f09b,#ddf19a,#e9f69c,#eef8a5,#f1faaa,#f3faad,#f4fbae,#f4fbae,#f4faad,#f3faac,#f3faac,#f3faac,#f3faac,#f3faac,#f3faac,#f2faab,#f2faaa,#f1f9a9,#f1f9a9,#f0f9a8,#eff9a6,#eef8a5,#eef8a4,#edf8a3,#ecf8a2,#ecf7a1,#ecf7a1,#ecf7a1,#ecf7a2,#edf8a2,#edf8a3,#eef8a4)"></i><i style="background:linear-gradient(90deg,#dbf19a,#dff299,#e9f69d,#eff8a5,#f1faaa,#f3faac,#f4faad,#f4faad,#f3faac,#f3faac,#f3faac,#f3faac,#f3faac,#f3faac,#f2faab,#f2faab,#f2faaa,#f1f9a9,#f1f9a8,#f0f9a8,#eff9a7,#eff8a5,#eef8a4,#edf8a3,#edf8a2,#ecf7a2,#ecf7a1,#ecf7a1,#ecf8a2,#edf8a3,#edf8a4,#eef8a5)"></i><i style="background:linear-gradient(90deg,#def29a,#e2f399,#eaf79e,#eff8a6,#f1f9a9,#f2faab,#f3faad,#f3faad,#f3faac,#f2faab,#f2faab,#f2faab,#f2faab,#f2faab,#f2faab,#f2faaa,#f1faaa,#f1f9a9,#f1f9a8,#f0f9a8,#eff9a7,#eff8a6,#eef8a5,#edf8a4,#edf8a3,#ecf8a2,#ecf8a2,#ecf8a2,#edf8a2,#edf8a3,#eef8a4,#eef8a5)"></i><i style="background:linear-gradient(90deg,#e0f399,#e4f498,#eaf79f,#eff9a6,#f1f9a9,#f2faab,#f3faac,#f3faac,#f2faab,#f2faab,#f2faab,#f2faab,#f2faab,#f2faab,#f2faab,#f2faaa,#f1faaa,#f1f9a9,#f1f9a8,#f0f9a8,#eff9a7,#eff9a6,#eef8a5,#eef8a4,#edf8a3,#edf8a2,#edf8a2,#edf8a2,#edf8a3,#edf8a3,#eef8a4,#eef8a5)"></i><i style="background:linear-gradient(90deg,#e3f499,#e6f598,#ebf79f,#eff9a6,#f1f9a9,#f2faab,#f2faab,#f2faab,#f2faab,#f2faab,#f2faab,#f2faab,#f2faab,#f2faab,#f2faaa,#f2faaa,#f1f9aa,#f1f9a9,#f0f9a8,#f0f9a8,#eff9a7,#eff9a6,#eef8a5,#eef8a4,#edf8a3,#edf8a3,#edf8a3,#edf8a3,#edf8a3,#edf8a4,#eef8a4,#eff8a5)"></i><i style="background:linear-gradient(90deg,#e5f598,#e7f599,#ebf7a0,#eff9a6,#f1f9a9,#f2faaa,#f2faab,#f2faab,#f2faab,#f2faaa,#f2faaa,#f2faaa,#f2faaa,#f2faaa,#f2faaa,#f1faaa,#f1f9a9,#f1f9a9,#f0f9a8,#f0f9a8,#f0f9a7,#eff9a6,#eef8a5,#eef8a4,#edf8a4,#edf8a3,#edf8a3,#edf8a3,#edf8a3,#eef8a4,#eef8a5,#eff8a5)"></i><i style="background:linear-gradient(90deg,#e7f599,#e8f69b,#ecf7a1,#eff9a6,#f1f9a9,#f2faaa,#f2faaa,#f2faab,#f2faaa,#f2faaa,#f2faaa,#f2faaa,#f2faaa,#f2faaa,#f1faaa,#f1faaa,#f1f9a9,#f1f9a9,#f0f9a8,#f0f9a8,#f0f9a7,#eff9a6,#eff8a5,#eef8a5,#eef8a4,#edf8a3,#edf8a3,#edf8a3,#edf8a4,#eef8a4,#eef8a5,#eff9a6)"></i><i style="background:linear-gradient(90deg,#e8f69b,#e9f69c,#ecf8a2,#eff9a7,#f1f9a9,#f1faaa,#f2faaa,#f2faaa,#f2faaa,#f2faaa,#f2faaa,#f2faaa,#f2faaa,#f1faaa,#f1faaa,#f1f9aa,#f1f9a9,#f1f9a9,#f0f9a8,#f0f9a8,#f0f9a7,#eff9a6,#eff8a6,#eef8a5,#eef8a4,#eef8a4,#edf8a4,#edf8a4,#eef8a4,#eef8a4,#eef8a5,#eff9a6)"></i><i style="background:linear-gradient(90deg,#e9f69c,#e9f69d,#edf8a2,#f0f9a7,#f1f9a9,#f1faaa,#f1faaa,#f2faaa,#f1faaa,#f1faaa,#f1faaa,#f1faaa,#f1faaa,#f1faaa,#f1faaa,#f1f9a9,#f1f9a9,#f1f9a9,#f0f9a8,#f0f9a8,#f0f9a7,#eff9a6,#eff9a6,#eef8a5,#eef8a4,#eef8a4,#eef8a4,#eef8a4,#eef8a4,#eef8a5,#eff8a5,#eff9a6)"></i><i style="background:linear-gradient(90deg,#e9f69d,#eaf79f,#edf8a3,#f0f9a7,#f1f9a9,#f1f9a9,#f1faaa,#f1faaa,#f1faaa,#f1faaa,#f1faaa,#f1faaa,#f1faaa,#f1faaa,#f1f9a9,#f1f9a9,#f1f9a9,#f1f9a9,#f0f9a8,#f0f9a8,#f0f9a7,#eff9a7,#eff9a6,#eff8a5,#eef8a5,#eef8a4,#eef8a4,#eef8a4,#eef8a5,#eef8a5,#eff8a6,#eff9a6)"></i><i style="background:linear-gradient(90deg,#eaf79f,#ebf7a0,#eef8a4,#f0f9a7,#f1f9a9,#f1f9a9,#f1faaa,#f1faaa,#f1faaa,#f1faaa,#f1faaa,#f1faaa,#f1faaa,#f1f9aa,#f1f9a9,#f1f9a9,#f1f9a9,#f1f9a9,#f0f9a8,#f0f9a8,#f0f9a7,#eff9a7,#eff9a6,#eff8a6,#eef8a5,#eef8a5,#eef8a4,#eef8a5,#eef8a5,#eef8a5,#eff9a6,#eff9a6)"></i><i style="background:linear-gradient(90deg,#ebf7a0,#ecf7a1,#eef8a4,#f0f9a7,#f1f9a9,#f1f9a9,#f1f9a9,#f1f9aa,#f1f9aa,#f1f9aa,#f1f9aa,#f1f9aa,#f1f9a9,#f1f9a9,#f1f9a9,#f1f9a9,#f1f9a9,#f1f9a9,#f1f9a8,#f0f9a8,#f0f9a7,#f0f9a7,#eff9a6,#eff9a6,#eef8a5,#eef8a5,#eef8a5,#eef8a5,#eef8a5,#eff8a5,#eff9a6,#eff9a7)"></i><i style="background:linear-gradient(90deg,#ecf7a1,#ecf7a2,#eef8a5,#f0f9a8,#f1f9a9,#f1f9a9,#f1f9a9,#f1f9a9,#f1f9a9,#f1f9a9,#f1f9a9,#f1f9a9,#f1f9a9,#f1f9a9,#f1f9a9,#f1f9a9,#f1f9a9,#f1f9a9,#f1f9a8,#f0f9a8,#f0f9a8,#f0f9a7,#eff9a6,#eff9a6,#eff8a5,#eef8a5,#eef8a5,#eef8a5,#eff8a5,#eff9a6,#eff9a6,#eff9a7)"></i></div>
<svg width="685" height="366" viewBox="0 0 685 366"><defs><linearGradient id="cba" x1="0" y1="0" x2="0" y2="1"><stop offset="0.0000" stop-color="#9e0142"/><stop offset="0.0208" stop-color="#ac1045"/><stop offset="0.0417" stop-color="#ba2049"/><stop offset="0.0625" stop-color="#c82f4c"/><stop offset="0.0833" stop-color="#d53e4f"/><stop offset="0.1042" stop-color="#dd4a4c"/><stop offset="0.1250" stop-color="#e55649"/><stop offset="0.1458" stop-color="#ed6246"/><stop offset="0.1667" stop-color="#f46e44"/><stop offset="0.1875" stop-color="#f67e4b"/><stop offset="0.2083" stop-color="#f98f53"/><stop offset="0.2291" stop-color="#fb9f5a"/><stop offset="0.2500" stop-color="#fdaf62"/><stop offset="0.2708" stop-color="#fdbc6d"/><stop offset="0.2916" stop-color="#fec877"/><stop offset="0.3125" stop-color="#fed582"/><stop offset="0.3333" stop-color="#fee18d"/><stop offset="0.3541" stop-color="#fee99a"/><stop offset="0.3750" stop-color="#fff1a7"/><stop offset="0.3958" stop-color="#fff8b4"/><stop offset="0.4167" stop-color="#feffbe"/><stop offset="0.4376" stop-color="#fafdb7"/><stop offset="0.4585" stop-color="#f5fbb0"/><stop offset="0.4794" stop-color="#f1f9a9"/><stop offset="0.5004" stop-color="#edf8a2"/><stop offset="0.5213" stop-color="#e8f69b"/><stop offset="0.5422" stop-color="#e0f399"/><stop offset="0.5632" stop-color="#d6ee9b"/><stop offset="0.5841" stop-color="#cbea9d"/><stop offset="0.6050" stop-color="#c1e6a0"/><stop offset="0.6259" stop-color="#b7e2a2"/><stop offset="0.6469" stop-color="#acdda4"/><stop offset="0.6678" stop-color="#a0d9a4"/><stop offset="0.6887" stop-color="#94d4a4"/><stop offset="0.7097" stop-color="#87cfa5"/><stop offset="0.7306" stop-color="#7bcaa5"/><stop offset="0.7515" stop-color="#6fc6a5"/><stop offset="0.7725" stop-color="#64bfa6"/><stop offset="0.7934" stop-color="#5ab5aa"/><stop offset="0.8143" stop-color="#51abaf"/><stop offset="0.8352" stop-color="#48a0b3"/><stop offset="0.8562" stop-color="#3f96b7"/><stop offset="0.8771" stop-color="#358cbb"/><stop offset="0.8980" stop-color="#3782ba"/><stop offset="0.9190" stop-color="#3f77b5"/><stop offset="0.9399" stop-color="#476db0"/><stop offset="0.9608" stop-color="#4e63ac"/><stop offset="0.9817" stop-color="#5659a7"/><stop offset="1.0000" stop-color="#5e4fa2"/></linearGradient><linearGradient id="cbb" x1="0" y1="0" x2="0" y2="1"><stop offset="0.000" stop-color="#08306b"/><stop offset="0.050" stop-color="#083c7c"/><stop offset="0.100" stop-color="#08478d"/><stop offset="0.150" stop-color="#09539d"/><stop offset="0.200" stop-color="#125ea6"/><stop offset="0.250" stop-color="#1b69af"/><stop offset="0.300" stop-color="#2575b7"/><stop offset="0.350" stop-color="#3080bd"/><stop offset="0.400" stop-color="#3c8cc3"/><stop offset="0.450" stop-color="#4997c9"/><stop offset="0.500" stop-color="#57a1ce"/><stop offset="0.550" stop-color="#66aad4"/><stop offset="0.600" stop-color="#76b4d8"/><stop offset="0.650" stop-color="#88bedc"/><stop offset="0.700" stop-color="#9ac8e0"/><stop offset="0.750" stop-color="#a9cfe5"/><stop offset="0.800" stop-color="#b7d5ea"/><stop offset="0.850" stop-color="#c5dbef"/><stop offset="0.900" stop-color="#cee0f2"/><stop offset="0.950" stop-color="#d7e6f5"/><stop offset="1.000" stop-color="#dfecf7"/></linearGradient><linearGradient id="cbe" x1="0" y1="0" x2="0" y2="1"><stop offset="0.000" stop-color="#49006a"/><stop offset="0.050" stop-color="#5d006f"/><stop offset="0.100" stop-color="#700174"/><stop offset="0.150" stop-color="#840178"/><stop offset="0.200" stop-color="#99017b"/><stop offset="0.250" stop-color="#ae017e"/><stop offset="0.300" stop-color="#c11588"/><stop offset="0.350" stop-color="#d42a92"/><stop offset="0.400" stop-color="#e23e99"/><stop offset="0.450" stop-color="#ed539d"/><stop offset="0.500" stop-color="#f768a1"/><stop offset="0.550" stop-color="#f87ea9"/><stop offset="0.600" stop-color="#f994b1"/><stop offset="0.650" stop-color="#faa7b7"/><stop offset="0.700" stop-color="#fbb6bc"/><stop offset="0.750" stop-color="#fcc5c0"/><stop offset="0.800" stop-color="#fcd0cc"/><stop offset="0.850" stop-color="#fddbd7"/><stop offset="0.900" stop-color="#fde5e1"/><stop offset="0.950" stop-color="#feeeea"/><stop offset="1.000" stop-color="#fff7f3"/></linearGradient><linearGradient id="cbf" x1="0" y1="0" x2="0" y2="1"><stop offset="0.000" stop-color="#fde725"/><stop offset="0.050" stop-color="#dde326"/><stop offset="0.100" stop-color="#bddf26"/><stop offset="0.150" stop-color="#9bd83c"/><stop offset="0.200" stop-color="#7ad151"/><stop offset="0.250" stop-color="#5fc861"/><stop offset="0.300" stop-color="#44bf70"/><stop offset="0.350" stop-color="#33b47a"/><stop offset="0.400" stop-color="#22a884"/><stop offset="0.450" stop-color="#229c88"/><stop offset="0.500" stop-color="#21918c"/><stop offset="0.550" stop-color="#26848d"/><stop offset="0.600" stop-color="#2a788e"/><stop offset="0.650" stop-color="#306b8e"/><stop offset="0.700" stop-color="#355f8d"/><stop offset="0.750" stop-color="#3b518a"/><stop offset="0.800" stop-color="#414487"/><stop offset="0.850" stop-color="#44347e"/><stop offset="0.900" stop-color="#482475"/><stop offset="0.950" stop-color="#461365"/><stop offset="1.000" stop-color="#440154"/></linearGradient></defs><text x="-0.80" y="9.80" font-size="14.50" text-anchor="start" fill="#000" font-weight="bold">a</text>
<text x="209.00" y="9.60" font-size="14.50" text-anchor="start" fill="#000" font-weight="bold">b</text>
<text x="208.30" y="192.80" font-size="14.50" text-anchor="start" fill="#000" font-weight="bold">c</text>
<text x="438.20" y="9.60" font-size="14.50" text-anchor="start" fill="#000" font-weight="bold">d</text>
<text x="439.00" y="196.40" font-size="14.50" text-anchor="start" fill="#000" font-weight="bold">e</text>
<text x="438.60" y="286.40" font-size="14.50" text-anchor="start" fill="#000" font-weight="bold">f</text>
<rect x="31.50" y="13.50" width="123.00" height="103.00" fill="none" stroke="#444" stroke-width="1.00"/>
<line x1="28.30" y1="105.50" x2="31.50" y2="105.50" stroke="#555" stroke-width="1.00"/><line x1="28.30" y1="64.50" x2="31.50" y2="64.50" stroke="#555" stroke-width="1.00"/><line x1="28.30" y1="23.50" x2="31.50" y2="23.50" stroke="#555" stroke-width="1.00"/>
<line x1="29.70" y1="85.50" x2="31.50" y2="85.50" stroke="#555" stroke-width="1.00"/><line x1="29.70" y1="44.50" x2="31.50" y2="44.50" stroke="#555" stroke-width="1.00"/>
<text x="27.20" y="108.58" font-size="7.90" text-anchor="end" fill="#333">2.0</text>
<text x="27.20" y="67.54" font-size="7.90" text-anchor="end" fill="#333">2.4</text>
<text x="27.20" y="26.50" font-size="7.90" text-anchor="end" fill="#333">2.8</text>
<rect x="31.50" y="116.50" width="123.00" height="103.00" fill="none" stroke="#444" stroke-width="1.00"/>
<line x1="28.30" y1="208.50" x2="31.50" y2="208.50" stroke="#555" stroke-width="1.00"/><line x1="28.30" y1="167.50" x2="31.50" y2="167.50" stroke="#555" stroke-width="1.00"/><line x1="28.30" y1="126.50" x2="31.50" y2="126.50" stroke="#555" stroke-width="1.00"/>
<line x1="29.70" y1="188.50" x2="31.50" y2="188.50" stroke="#555" stroke-width="1.00"/><line x1="29.70" y1="147.50" x2="31.50" y2="147.50" stroke="#555" stroke-width="1.00"/>
<text x="27.20" y="211.68" font-size="7.90" text-anchor="end" fill="#333">2.0</text>
<text x="27.20" y="170.64" font-size="7.90" text-anchor="end" fill="#333">2.4</text>
<text x="27.20" y="129.60" font-size="7.90" text-anchor="end" fill="#333">2.8</text>
<rect x="31.50" y="219.50" width="123.00" height="103.00" fill="none" stroke="#444" stroke-width="1.00"/>
<line x1="28.30" y1="312.50" x2="31.50" y2="312.50" stroke="#555" stroke-width="1.00"/><line x1="28.30" y1="271.50" x2="31.50" y2="271.50" stroke="#555" stroke-width="1.00"/><line x1="28.30" y1="230.50" x2="31.50" y2="230.50" stroke="#555" stroke-width="1.00"/>
<line x1="29.70" y1="291.50" x2="31.50" y2="291.50" stroke="#555" stroke-width="1.00"/><line x1="29.70" y1="250.50" x2="31.50" y2="250.50" stroke="#555" stroke-width="1.00"/>
<text x="27.20" y="314.78" font-size="7.90" text-anchor="end" fill="#333">2.0</text>
<text x="27.20" y="273.74" font-size="7.90" text-anchor="end" fill="#333">2.4</text>
<text x="27.20" y="232.70" font-size="7.90" text-anchor="end" fill="#333">2.8</text>
<line x1="36.50" y1="322.50" x2="36.50" y2="325.70" stroke="#555" stroke-width="1.00"/><line x1="59.50" y1="322.50" x2="59.50" y2="325.70" stroke="#555" stroke-width="1.00"/><line x1="81.50" y1="322.50" x2="81.50" y2="325.70" stroke="#555" stroke-width="1.00"/><line x1="104.50" y1="322.50" x2="104.50" y2="325.70" stroke="#555" stroke-width="1.00"/><line x1="126.50" y1="322.50" x2="126.50" y2="325.70" stroke="#555" stroke-width="1.00"/><line x1="149.50" y1="322.50" x2="149.50" y2="325.70" stroke="#555" stroke-width="1.00"/>
<line x1="48.50" y1="322.50" x2="48.50" y2="324.30" stroke="#555" stroke-width="1.00"/><line x1="70.50" y1="322.50" x2="70.50" y2="324.30" stroke="#555" stroke-width="1.00"/><line x1="93.50" y1="322.50" x2="93.50" y2="324.30" stroke="#555" stroke-width="1.00"/><line x1="115.50" y1="322.50" x2="115.50" y2="324.30" stroke="#555" stroke-width="1.00"/><line x1="138.50" y1="322.50" x2="138.50" y2="324.30" stroke="#555" stroke-width="1.00"/>
<text x="36.90" y="331.00" font-size="7.90" text-anchor="middle" fill="#333">0</text>
<text x="59.38" y="331.00" font-size="7.90" text-anchor="middle" fill="#333">20</text>
<text x="81.86" y="331.00" font-size="7.90" text-anchor="middle" fill="#333">40</text>
<text x="104.34" y="331.00" font-size="7.90" text-anchor="middle" fill="#333">60</text>
<text x="126.82" y="331.00" font-size="7.90" text-anchor="middle" fill="#333">80</text>
<text x="149.30" y="331.00" font-size="7.90" text-anchor="middle" fill="#333">100</text>
<text x="92.80" y="343.50" font-size="8.90" text-anchor="middle" fill="#333"><tspan dy="-0.00">Cs</tspan><tspan font-size="6.23" dy="1.78">3</tspan><tspan dy="-1.78">Sb</tspan><tspan font-size="6.23" dy="1.78">2</tspan><tspan dy="-1.78">I</tspan><tspan font-size="6.23" dy="1.78">9</tspan><tspan dy="-1.78">  →  </tspan><tspan dy="-0.00">Cs</tspan><tspan font-size="6.23" dy="1.78">3</tspan><tspan dy="-1.78">Bi</tspan><tspan font-size="6.23" dy="1.78">2</tspan><tspan dy="-1.78">Br</tspan><tspan font-size="6.23" dy="1.78">9</tspan></text>
<text x="0.00" y="0.00" font-size="8.90" text-anchor="middle" fill="#333" transform="translate(9.3,166.3) rotate(-90)">Energy (eV)</text>
<text x="36.80" y="108.20" font-size="7.70" text-anchor="start" fill="#222">0.2-0.5 ps</text>
<text x="38.00" y="211.20" font-size="7.70" text-anchor="start" fill="#222">1-10 ps</text>
<text x="37.50" y="314.10" font-size="7.70" text-anchor="start" fill="#222">10-100 ps</text>
<rect x="165.9" y="13.10" width="8" height="309.30" fill="url(#cba)" stroke="#555" stroke-width="0.6"/>
<line x1="173.50" y1="13.50" x2="176.10" y2="13.50" stroke="#555" stroke-width="1.00"/><line x1="173.50" y1="140.50" x2="176.10" y2="140.50" stroke="#555" stroke-width="1.00"/><line x1="173.50" y1="269.50" x2="176.10" y2="269.50" stroke="#555" stroke-width="1.00"/>
<line x1="173.50" y1="77.50" x2="175.10" y2="77.50" stroke="#555" stroke-width="1.00"/><line x1="173.50" y1="205.50" x2="175.10" y2="205.50" stroke="#555" stroke-width="1.00"/>
<text x="177.60" y="15.80" font-size="7.90" text-anchor="start" fill="#333">1</text>
<text x="177.60" y="143.60" font-size="7.90" text-anchor="start" fill="#333">0</text>
<text x="177.00" y="272.00" font-size="7.90" text-anchor="start" fill="#333">−1</text>
<text font-size="8.90" text-anchor="middle" fill="#333" transform="translate(186.5,168.0) rotate(90)"><tspan dy="-0.00">Normalized  </tspan><tspan dy="-0.00">Δ</tspan><tspan dy="-0.00" font-style="italic">T</tspan><tspan dy="-0.00">/</tspan><tspan dy="-0.00" font-style="italic">T</tspan></text>
<g transform="translate(0.5,0)"><path d="M288 110v1M338 60v1" stroke="#ecf4fb" stroke-width="1" fill="none"/><path d="M234 43v1M234 59v1M235 92v1M236 51v1M236 58v1M238 69v1M238 95v1M238 98v1M239 93v1M241 90v1M242 63v1M244 56v1M244 76v1M244 99v1M245 65v1M245 82v1M246 48v1M246 50v1M247 57v2M247 62v1M247 96v1M248 55v1M250 63v1M251 81v1M252 58v1M252 104v1M252 110v1M254 105v1M255 45v1M257 75v1M258 65v1M258 69v1M258 93v1M260 111v2M261 61v1M261 66v1M261 70v1M262 60v1M263 58v2M264 54v1M264 62v1M264 64v1M264 69v1M265 64v1M266 62v1M266 84v1M266 106v1M266 112v1M268 60v1M268 79v1M270 52v1M270 68v2M270 71v1M270 79v1M270 93v1M271 59v1M271 70v1M271 89v1M272 77v1M273 80v1M273 109v1M274 122v1M275 84v1M276 72v1M276 85v1M278 69v1M278 73v1M278 88v1M280 85v1M280 114v1M281 72v1M281 78v1M281 88v1M284 75v1M284 78v1M285 61v1M285 64v1M285 71v1M285 108v1M285 118v1M286 66v1M286 81v1M290 81v1M290 85v1M292 113v1M293 73v1M294 94v2M295 71v1M295 73v1M295 77v1M296 68v1M298 73v1M298 87v1M299 77v1M299 80v1M299 118v1M302 65v1M302 67v1M303 75v1M304 75v1M304 117v1M305 84v1M305 114v1M306 78v1M307 66v1M307 90v1M307 92v1M307 112v1M309 82v1M309 107v1M310 69v1M314 84v1M314 111v1M315 69v1M315 71v1M316 70v1M316 72v1M316 85v1M318 78v2M320 104v1M320 111v1M323 71v1M323 73v1M323 101v1M324 97v1M325 102v2M326 73v1M329 67v1M329 69v1M331 69v1M331 87v1M331 99v1M331 107v1M331 110v1M332 96v1M333 51v1M334 62v1M337 80v1M339 100v1M345 52v1M345 77v1M345 82v1M346 46v1M346 55v1M348 43v1M348 47v1M349 54v1M352 66v1M353 44v2M354 49v1M354 74v1M354 79v1M355 39v1M358 56v1M359 38v1M360 41v2M360 51v1M360 54v1M361 53v1M362 39v1M362 42v1M363 44v1M370 36v1M371 28v1M375 30v1" stroke="#d6e6f4" stroke-width="1" fill="none"/><path d="M234 38v1M234 44v2M234 48v1M234 50v1M234 58v1M234 60v2M234 64v3M234 86v2M234 90v1M234 92v1M234 94v1M234 97v4M235 37v1M235 39v1M235 41v1M235 43v2M235 50v2M235 56v2M235 61v1M235 66v1M235 82v1M235 89v1M235 91v1M235 94v1M235 96v1M236 37v1M236 42v1M236 44v1M236 50v1M236 52v1M236 54v1M236 63v3M236 69v1M236 97v1M236 100v1M236 102v1M236 105v1M238 46v1M238 57v1M238 78v1M238 90v1M238 94v1M238 96v1M238 99v1M239 38v1M239 45v1M239 48v1M239 50v1M239 57v3M239 66v2M239 69v2M239 77v2M239 80v1M239 87v1M239 90v1M239 94v1M239 96v1M239 100v1M240 56v1M240 58v1M240 62v1M240 65v2M240 70v1M240 78v2M240 87v1M240 93v1M240 97v5M241 43v1M241 46v1M241 61v1M241 67v1M241 81v1M241 83v1M241 89v1M241 94v1M241 99v1M242 51v1M242 55v1M242 61v1M242 68v2M242 71v1M242 81v1M242 92v2M242 99v1M243 45v1M243 48v2M243 54v1M243 57v1M243 62v1M243 67v1M243 76v1M243 82v2M243 87v1M243 89v1M243 93v1M244 49v2M244 53v1M244 60v1M244 66v1M244 70v1M244 75v1M244 77v1M244 90v1M244 95v1M244 98v1M245 53v1M245 55v1M245 58v1M245 64v1M245 66v1M245 68v1M245 70v1M245 76v1M245 88v2M245 94v1M245 104v1M246 52v2M246 57v2M246 61v2M246 67v1M246 69v2M246 73v1M246 77v1M246 88v1M246 90v1M246 101v1M246 103v1M247 42v1M247 46v1M247 48v1M247 56v1M247 63v1M247 67v1M247 70v1M247 82v1M247 98v1M248 47v1M248 51v4M248 60v1M248 65v1M248 67v1M248 71v1M248 98v1M248 102v2M248 105v1M248 107v1M250 54v1M250 61v1M250 64v1M250 72v1M250 76v1M250 93v2M251 49v2M251 55v1M251 60v1M251 67v1M251 69v1M251 71v1M251 74v1M251 78v1M251 87v1M251 93v2M251 102v1M251 105v1M251 107v1M252 57v1M252 60v2M252 63v1M252 67v1M252 71v1M252 73v2M252 80v1M252 95v1M252 106v1M253 59v1M253 65v2M253 70v1M253 72v1M253 74v1M253 79v1M253 81v1M253 98v1M253 101v1M253 107v1M254 49v2M254 52v1M254 59v3M254 66v1M254 72v2M254 75v1M254 77v1M254 79v1M254 83v1M254 86v1M254 98v1M255 44v1M255 49v1M255 54v2M255 57v1M255 61v1M255 65v1M255 67v2M255 71v5M255 79v2M255 83v2M255 104v1M255 107v1M255 112v1M255 115v1M257 53v2M257 64v1M257 68v1M257 73v2M257 108v1M257 110v2M257 114v1M258 52v1M258 58v1M258 62v1M258 70v1M258 72v3M258 77v1M258 81v1M258 83v1M258 85v1M258 87v1M258 91v1M260 55v1M260 58v1M260 71v2M260 75v1M260 80v1M260 88v1M260 110v1M260 114v1M261 51v2M261 55v1M261 57v2M261 62v1M261 64v1M261 69v1M261 71v1M261 73v1M261 75v2M261 82v2M262 50v1M262 53v2M262 61v1M262 64v2M262 70v1M262 73v2M262 87v1M262 90v1M263 55v2M263 71v2M263 77v1M263 80v1M263 109v1M263 112v1M264 53v1M264 55v2M264 58v1M264 63v1M264 71v1M264 74v1M264 83v1M264 87v2M264 94v1M265 63v1M265 72v1M265 74v5M265 80v1M265 82v1M265 92v1M266 53v2M266 56v1M266 71v1M266 73v1M266 75v1M266 77v1M266 81v1M266 92v1M266 105v1M266 107v1M266 111v1M268 59v1M268 64v2M268 68v1M268 70v1M268 72v2M268 78v1M268 82v2M268 87v1M268 106v1M268 110v1M268 112v1M268 114v1M268 116v1M268 118v1M270 54v2M270 57v2M270 63v1M270 65v1M270 75v1M270 81v2M270 84v2M270 88v1M270 90v1M270 92v1M270 94v1M270 111v3M271 63v1M271 67v1M271 74v1M271 77v2M271 82v1M271 84v1M271 91v1M271 95v1M271 113v1M272 49v1M272 54v1M272 58v1M272 61v2M272 66v1M272 70v2M272 74v1M272 85v1M272 90v1M272 92v2M272 109v1M272 112v3M273 74v1M273 76v1M273 81v1M273 87v1M273 89v1M273 97v1M274 61v1M274 63v2M274 72v1M274 74v1M274 80v1M274 91v1M274 115v1M275 59v2M275 63v1M275 68v1M275 72v1M275 75v2M275 80v4M275 86v2M275 108v1M275 112v1M275 117v1M276 68v1M276 73v1M276 84v1M276 86v1M276 90v1M276 118v1M278 65v1M278 67v1M278 77v1M280 72v1M280 76v1M280 78v1M280 83v1M280 86v1M280 111v1M280 117v1M281 66v1M281 71v1M281 77v1M281 83v1M281 86v1M281 98v1M281 111v1M281 116v1M281 119v1M282 70v1M282 73v2M282 81v2M282 84v1M282 97v1M282 110v1M284 56v1M284 63v2M284 66v1M284 72v1M284 76v2M284 80v1M285 60v1M285 68v1M285 74v1M285 76v1M285 81v1M285 94v1M285 97v1M285 103v1M285 113v1M286 69v1M286 72v2M286 75v2M286 82v1M286 85v2M286 93v1M287 83v3M287 93v1M287 98v1M288 69v1M288 71v2M288 79v1M288 83v2M288 94v1M288 96v1M288 98v1M288 108v2M288 114v1M288 119v2M290 72v4M290 77v2M290 82v1M290 89v1M290 98v1M290 112v2M290 122v1M290 124v2M291 68v3M291 77v1M291 79v2M291 90v1M291 96v1M291 99v2M291 106v1M291 109v1M292 69v1M292 76v2M292 88v2M292 98v1M292 111v1M292 116v1M292 119v1M292 122v2M293 67v1M293 71v1M293 75v1M293 80v1M293 85v1M293 87v2M293 94v1M293 110v2M294 71v1M294 73v1M294 75v2M294 81v2M294 87v1M294 97v1M294 113v1M294 116v1M294 120v1M295 65v4M295 74v1M295 76v1M295 80v1M295 82v1M295 85v2M295 95v1M295 113v1M295 118v1M296 74v1M296 76v1M296 79v1M296 84v1M296 95v3M296 111v1M296 119v1M297 70v1M297 78v1M297 87v1M297 105v1M297 108v1M297 122v1M298 74v1M298 76v1M298 80v1M298 82v2M298 108v1M299 72v1M299 76v1M299 106v1M299 110v2M299 116v2M299 119v1M299 121v1M301 84v2M301 89v2M301 92v1M301 102v2M301 109v1M301 118v1M302 66v1M302 69v1M302 72v1M302 81v1M302 83v1M302 112v1M302 116v1M303 72v1M303 81v1M303 84v1M303 86v1M303 111v2M303 116v1M304 60v1M304 62v1M304 64v2M304 74v1M304 76v3M304 115v1M304 118v3M305 90v2M305 97v1M305 111v1M305 113v1M305 118v1M306 70v2M306 76v2M306 80v2M306 83v1M306 87v1M306 92v1M306 96v2M306 100v2M306 103v3M306 110v1M306 117v1M307 71v1M307 73v4M307 80v3M307 84v1M307 88v1M307 99v1M307 104v3M307 110v1M307 116v1M307 118v2M308 69v4M308 78v1M308 86v1M308 90v1M308 96v1M308 102v1M308 107v1M308 111v1M308 117v1M309 69v1M309 78v2M309 84v1M309 87v1M309 90v1M309 96v2M309 101v1M309 103v2M309 114v2M310 71v1M310 78v1M310 80v1M310 85v2M310 97v1M310 104v1M310 108v1M310 112v1M310 114v1M311 72v1M311 74v1M311 77v1M311 84v1M311 87v2M311 108v1M311 111v1M312 70v1M312 72v1M312 78v1M312 81v1M312 97v1M312 107v2M312 111v2M312 114v1M312 116v2M313 74v1M313 80v2M313 85v2M313 99v1M313 105v1M313 108v1M314 71v1M314 79v2M314 105v1M314 107v1M314 109v1M315 67v2M315 72v1M315 75v1M315 77v1M315 84v1M315 99v3M315 109v1M315 111v2M316 64v1M316 74v1M316 101v1M316 104v2M318 66v1M318 69v1M318 82v1M318 90v1M318 104v4M318 116v1M320 65v3M320 71v2M320 76v1M320 90v2M320 96v1M320 113v2M321 63v1M321 66v1M321 68v1M321 70v4M321 76v1M321 102v1M321 109v1M321 111v2M321 117v1M322 59v2M322 63v1M322 65v1M322 69v4M322 77v1M322 95v1M322 97v2M322 101v1M322 105v1M322 108v1M323 72v1M323 77v1M323 104v1M323 113v1M323 117v2M324 70v1M324 72v2M324 78v1M325 64v1M325 67v1M325 72v1M325 87v1M325 100v1M325 105v1M326 64v1M326 67v1M326 74v1M326 76v2M326 79v1M326 81v1M326 94v1M326 102v1M327 58v2M327 65v1M327 68v1M327 72v2M327 100v1M327 102v1M329 57v1M329 59v1M329 61v1M329 65v1M329 70v2M329 88v2M329 95v2M329 99v1M329 101v1M329 103v1M331 52v1M331 54v1M331 62v2M331 68v1M331 70v2M331 89v1M331 94v1M331 100v2M331 103v1M331 105v1M331 108v2M332 56v1M332 58v1M332 61v1M332 67v1M332 69v1M332 93v1M332 99v2M332 104v1M333 47v1M333 56v1M333 63v2M333 66v1M333 74v1M333 77v1M333 83v1M333 85v1M334 51v1M334 53v1M334 56v1M334 63v1M334 65v2M334 75v1M334 99v2M336 47v1M336 50v1M336 53v1M336 56v1M336 66v1M336 81v1M336 86v3M336 90v2M336 94v1M337 45v1M337 49v1M337 56v2M337 59v3M337 75v1M337 90v1M338 44v1M338 48v1M338 57v1M338 62v1M338 66v2M338 77v2M338 84v1M338 93v1M338 96v1M339 51v1M339 53v1M339 56v1M339 58v2M339 63v1M339 75v1M339 78v2M339 85v1M339 87v3M339 91v1M339 95v1M339 97v1M339 99v1M343 55v2M343 58v1M343 62v1M343 79v3M343 84v1M345 40v1M345 43v1M345 46v2M345 62v1M345 74v1M345 76v1M345 78v1M345 83v1M346 44v1M346 47v1M346 49v2M346 56v1M346 73v1M346 75v4M346 82v2M348 39v1M348 45v2M348 48v2M348 51v1M348 55v1M348 67v1M348 79v1M349 40v2M349 49v1M349 56v1M349 67v1M349 78v1M350 34v1M350 37v1M350 40v3M350 49v1M350 66v1M350 75v1M350 80v1M351 53v1M351 63v1M351 74v1M351 76v1M351 81v2M352 32v1M352 34v1M352 41v2M352 72v1M352 76v1M353 47v1M353 51v1M353 67v1M353 69v1M353 72v3M354 43v1M354 48v1M354 73v1M354 81v1M354 83v1M355 36v1M355 40v1M355 43v1M355 45v1M355 53v1M355 55v1M355 57v1M355 70v1M355 76v1M357 40v1M357 44v1M357 48v1M357 54v1M357 69v1M357 71v1M358 35v1M358 39v1M358 44v1M358 48v1M359 54v1M359 68v1M359 71v1M359 73v1M360 37v1M360 40v1M360 46v1M360 48v2M360 55v2M360 69v2M361 36v2M361 40v1M361 48v1M361 58v2M361 65v1M361 68v1M362 36v1M362 43v1M362 45v1M362 47v3M362 58v1M363 38v1M363 52v1M363 59v1M363 63v2M363 69v1M365 38v1M365 44v1M365 51v1M365 63v1M365 69v2M366 40v1M366 42v1M367 32v3M367 36v2M367 44v1M367 47v1M367 49v1M367 61v2M367 66v1M368 36v1M368 38v1M368 43v2M368 53v1M368 64v1M368 67v1M368 70v1M369 31v1M369 37v1M369 40v1M369 62v1M370 33v1M370 58v1M370 60v1M370 62v1M370 64v1M371 30v1M371 32v1M371 37v2M372 38v1M372 59v1M372 63v1M372 67v1M373 48v2M373 57v1M374 49v1M375 38v1M375 42v1M375 50v1M375 56v2M348 85v1M343 103v1M342 88v1M368 47v1M297 126v1M283 136v1M297 95v1M247 118v1M263 123v1M248 108v1M297 126v1M281 99v1M257 88v1M252 31v1M371 33v1M326 49v1M280 131v1M309 136v1M348 49v1M319 115v1M249 64v1M286 121v1M341 28v1M320 98v1M289 103v1M322 80v1M264 50v1M369 68v1M285 96v1M352 63v1M311 63v1M290 124v1M320 68v1M299 135v1M237 43v1M337 41v1M237 82v1M235 29v1M323 51v1M293 123v1M317 60v1M296 64v1M316 104v1M375 58v1M301 60v1M369 34v1M349 55v1M262 116v1M269 68v1M343 82v1M235 107v1M313 60v1M346 28v1M301 138v1M366 75v1M304 121v1M308 82v1M310 112v1M234 115v1M294 88v1M280 79v1M352 20v1M320 104v1M332 105v1M373 29v1M367 50v1M372 56v1M351 87v1M363 28v1M302 76v1" stroke="#bdd7ec" stroke-width="1" fill="none"/><path d="M234 37v1M234 39v1M234 46v1M234 49v1M234 51v1M234 54v1M234 70v1M234 72v2M234 79v1M234 82v2M234 85v1M234 88v1M234 91v1M234 93v1M235 47v1M235 49v1M235 64v1M235 67v1M235 69v4M235 74v2M235 84v1M235 87v1M235 90v1M235 95v1M235 98v1M236 39v1M236 45v1M236 55v1M236 57v1M236 62v1M236 68v1M236 70v1M236 72v2M236 79v1M236 89v2M236 92v1M236 96v1M236 104v1M238 45v1M238 50v1M238 55v1M238 58v2M238 61v1M238 64v1M238 71v1M238 79v1M238 87v1M239 39v1M239 52v1M239 60v1M239 62v2M239 75v1M239 79v1M239 88v1M239 99v1M240 53v1M240 60v2M240 68v1M240 71v1M240 80v1M240 95v2M241 42v1M241 45v1M241 55v2M241 75v1M241 92v2M241 98v1M242 47v1M242 49v2M242 52v1M242 54v1M242 67v1M242 72v1M242 75v3M242 82v1M242 88v2M242 100v2M243 50v1M243 53v1M243 55v1M243 64v1M243 66v1M243 71v2M243 75v1M243 77v1M243 94v1M244 52v1M244 59v1M244 64v2M244 69v1M244 72v1M244 88v1M244 94v1M245 46v1M245 48v1M245 50v2M245 59v1M245 61v1M245 81v1M245 84v1M245 87v1M245 90v2M245 99v1M245 101v1M245 108v1M246 55v2M246 59v1M246 71v1M246 81v1M246 87v1M246 89v1M246 92v1M246 99v1M247 47v1M247 49v1M247 54v1M247 64v1M247 78v2M247 81v1M247 88v1M247 93v1M247 95v1M247 99v1M247 101v1M248 63v1M248 66v1M248 68v1M248 74v1M248 82v1M248 88v1M248 90v1M248 93v1M248 101v1M250 57v1M250 66v1M250 70v1M250 73v1M250 77v2M250 103v1M251 51v2M251 62v2M251 65v1M251 77v1M251 79v1M251 83v1M251 92v1M251 95v1M251 99v1M251 101v1M251 103v1M252 56v1M252 59v1M252 64v1M252 70v1M252 77v1M252 79v1M252 85v1M252 87v1M252 91v1M252 94v1M252 99v1M252 105v1M252 109v1M253 57v1M253 62v1M253 67v1M253 80v1M253 82v1M253 93v1M253 96v2M253 99v1M253 109v1M253 111v1M254 51v1M254 67v1M254 84v1M254 93v1M254 96v2M254 100v1M254 104v1M254 106v1M254 108v2M255 46v1M255 58v1M255 60v1M255 62v1M255 64v1M255 69v1M255 97v1M255 105v2M255 109v2M257 61v1M257 71v1M257 78v3M257 84v1M257 90v1M257 93v3M257 100v1M257 102v1M257 113v1M258 53v2M258 56v2M258 63v1M258 67v1M258 75v1M258 79v1M258 89v1M258 96v1M258 98v2M258 103v2M260 53v1M260 56v1M260 61v1M260 73v1M260 76v1M260 79v1M260 83v1M260 85v2M260 89v1M260 91v4M260 99v1M260 101v2M260 104v5M261 53v2M261 59v1M261 67v1M261 81v1M261 89v3M261 103v1M262 51v2M262 55v2M262 71v1M262 75v1M262 79v1M262 83v1M262 88v1M262 92v1M262 94v1M262 96v1M262 102v2M262 106v1M263 61v1M263 70v1M263 84v2M263 88v2M263 91v1M263 93v1M263 98v1M263 102v1M263 106v1M264 57v1M264 59v2M264 72v1M264 81v1M264 89v1M264 95v2M264 99v1M264 103v1M264 107v1M264 109v1M265 67v2M265 73v1M265 79v1M265 88v2M265 91v1M266 52v1M266 60v1M266 63v2M266 69v2M266 74v1M266 76v1M266 82v1M266 86v1M266 88v1M266 90v2M266 100v1M268 56v2M268 75v1M268 80v1M268 84v3M268 105v1M268 107v1M268 115v1M270 50v1M270 72v1M270 76v1M270 86v2M270 89v1M270 96v1M270 104v1M270 108v1M270 110v1M271 57v2M271 64v1M271 66v1M271 72v1M271 79v1M271 83v1M271 92v1M271 103v1M271 109v2M271 115v1M271 119v1M271 121v1M272 55v3M272 65v1M272 76v1M272 80v2M272 88v2M272 95v1M272 98v1M273 78v2M273 83v1M273 88v1M273 92v1M273 94v3M273 99v1M273 104v1M273 111v3M274 75v2M274 81v1M274 83v1M274 89v2M274 96v1M274 109v1M274 112v1M274 120v2M275 65v2M275 71v1M275 78v2M275 85v1M275 93v2M275 99v1M275 102v1M275 104v1M275 111v1M276 57v2M276 60v1M276 66v1M276 70v1M276 74v1M276 82v1M276 87v2M276 95v1M276 98v1M276 111v1M276 115v1M278 66v1M278 74v1M278 80v2M278 83v1M278 85v1M278 90v1M278 94v1M278 109v1M278 111v1M278 113v1M278 115v1M278 118v1M278 120v4M280 71v1M280 73v3M280 80v1M280 90v1M280 98v1M280 112v1M281 70v1M281 74v1M281 84v1M281 93v1M281 96v2M281 108v1M281 113v1M282 75v1M282 80v1M282 85v1M282 87v1M282 91v1M282 105v1M282 107v1M284 57v2M284 67v1M284 73v1M284 79v1M284 81v2M284 84v1M284 90v2M284 98v1M284 107v1M284 111v1M285 63v1M285 70v1M285 80v1M285 82v1M285 86v1M285 90v1M285 109v1M285 114v1M286 68v1M286 77v1M286 79v2M286 87v1M286 94v1M286 96v2M286 104v1M287 75v2M287 81v1M287 89v4M287 94v3M287 108v2M287 115v3M288 75v1M288 78v1M288 88v1M288 90v4M288 95v1M288 97v1M288 102v1M288 116v1M290 80v1M290 86v3M290 96v1M290 104v2M290 117v1M290 119v1M291 67v1M291 82v1M291 87v2M291 92v1M291 97v1M291 104v2M291 111v1M291 113v1M292 72v2M292 75v1M292 79v1M292 82v1M292 93v2M292 96v2M292 102v1M292 105v1M292 109v1M292 117v2M292 121v1M292 124v1M293 70v1M293 74v1M293 78v1M293 81v1M293 84v1M293 95v1M293 97v2M293 100v1M293 106v1M293 109v1M293 112v2M294 83v1M294 88v4M294 96v1M294 109v1M294 111v1M294 114v2M294 117v1M295 87v2M295 91v1M295 93v2M295 96v3M295 111v1M295 116v1M296 69v2M296 80v1M296 82v1M296 89v1M296 98v1M296 113v1M296 117v1M296 120v1M297 76v1M297 80v1M297 84v1M297 88v1M297 96v1M297 106v2M297 118v1M298 75v1M298 78v2M298 109v2M299 79v1M299 82v6M299 90v1M299 105v1M299 107v2M299 122v2M301 74v1M301 86v1M301 88v1M301 91v1M301 104v1M301 106v1M302 64v1M302 68v1M302 73v2M302 76v1M302 82v1M302 89v1M302 103v1M302 106v2M302 110v1M302 117v1M302 119v1M303 74v1M303 79v1M303 83v1M303 91v1M303 104v1M303 106v2M303 110v1M303 113v1M303 115v1M304 59v1M304 61v1M304 66v1M304 68v1M304 71v1M304 80v1M304 82v1M304 85v2M304 89v1M304 92v1M304 103v4M305 80v2M305 87v1M305 93v2M305 99v1M305 101v1M305 104v1M305 110v1M305 116v1M306 73v1M306 79v1M306 86v1M306 93v1M306 98v2M306 102v1M306 107v1M306 119v4M306 124v2M307 77v1M307 83v1M307 87v1M307 91v1M307 97v2M307 100v1M307 103v1M308 73v1M308 89v1M308 93v1M308 98v3M308 103v2M308 109v1M308 112v1M309 68v1M309 71v1M309 85v1M309 88v1M309 92v1M309 98v3M309 109v1M309 111v1M310 82v1M310 84v1M310 89v1M310 96v1M310 99v1M310 111v1M310 115v1M311 73v1M311 78v1M311 81v2M311 85v1M311 96v2M311 100v2M311 103v1M311 105v3M311 109v2M312 69v1M312 71v1M312 82v1M312 84v1M312 90v1M312 96v1M312 104v2M312 120v1M313 106v2M313 113v1M314 72v1M314 76v2M314 86v3M314 97v1M314 104v1M314 110v1M314 112v1M315 76v1M315 78v1M315 80v1M315 92v1M315 96v1M315 102v1M315 104v1M315 110v1M315 113v2M316 63v1M316 65v1M316 80v1M316 82v2M316 86v1M318 67v2M318 71v1M318 74v1M318 80v1M318 83v1M318 87v1M318 89v1M318 91v2M318 94v1M318 97v1M318 99v1M318 101v1M318 109v2M318 115v1M320 69v1M320 83v1M320 85v1M320 87v1M320 92v2M320 97v2M320 101v1M320 106v2M320 109v2M320 112v1M320 115v1M320 117v1M321 78v2M321 82v1M321 84v1M321 93v2M321 96v3M321 101v1M321 104v1M322 73v2M322 81v1M322 93v2M323 60v1M323 69v1M323 74v1M323 78v1M323 81v1M323 84v1M323 89v1M323 94v1M323 97v1M323 99v1M323 102v1M323 106v1M323 109v1M323 112v1M323 114v2M323 120v1M324 69v1M324 74v1M324 82v1M324 85v1M324 91v1M324 93v1M324 96v1M324 99v1M325 65v1M325 76v2M325 84v1M325 88v2M325 97v1M325 99v1M326 65v2M326 68v2M326 71v1M326 84v3M326 93v1M326 96v1M326 99v1M327 60v1M327 64v1M327 70v1M327 77v2M327 88v1M327 97v2M327 104v1M329 58v1M329 60v1M329 73v1M329 75v1M329 77v1M329 87v1M329 90v4M329 97v2M329 102v1M331 50v2M331 60v1M331 67v1M331 72v2M331 75v3M331 88v1M331 97v2M331 102v1M331 104v1M332 57v1M332 65v1M332 68v1M332 70v4M332 77v1M332 87v3M332 91v1M332 95v1M333 46v1M333 48v2M333 52v1M333 54v1M333 58v1M333 69v3M333 78v2M333 82v1M333 84v1M333 86v2M333 91v1M334 52v1M334 58v2M334 69v2M334 83v2M334 89v1M334 95v1M334 98v1M336 48v1M336 51v1M336 58v2M336 67v1M336 73v2M336 82v1M336 84v1M336 89v1M336 93v1M336 95v1M337 47v1M337 50v2M337 53v1M337 62v1M337 68v2M337 72v2M337 76v3M337 85v2M337 88v1M338 51v1M338 53v1M338 56v1M338 58v1M338 61v1M338 68v1M338 76v1M338 80v1M338 86v1M338 89v4M338 98v1M339 54v1M339 57v1M339 60v1M339 64v1M339 76v2M339 80v1M339 84v1M339 86v1M339 96v1M343 73v1M343 77v1M343 82v1M345 41v1M345 44v1M345 49v1M345 54v4M345 59v2M345 65v1M345 68v1M345 70v2M345 75v1M345 79v1M346 40v2M346 48v1M346 58v4M346 63v3M346 69v1M346 71v2M346 79v2M348 50v1M348 53v1M348 56v1M348 58v2M348 64v3M348 68v1M348 75v1M348 77v2M348 82v1M349 51v1M349 55v1M349 57v1M349 63v3M349 74v1M349 79v1M350 32v1M350 39v1M350 48v1M350 52v3M350 57v2M350 63v2M350 68v1M350 72v3M350 79v1M350 83v2M351 64v1M351 68v1M351 73v1M351 75v1M351 78v1M352 40v1M352 43v1M352 50v1M352 55v2M352 59v2M352 63v3M352 69v1M352 74v1M352 78v1M353 48v2M353 52v1M353 54v1M353 59v1M353 66v1M353 71v1M354 45v1M354 52v1M355 48v1M355 66v3M357 49v1M357 57v1M357 64v5M358 42v1M358 45v1M358 53v1M358 55v1M359 37v1M359 39v4M359 46v3M359 53v1M359 63v1M359 70v1M360 38v1M360 44v1M360 50v1M360 52v2M360 65v1M361 41v1M361 46v1M361 52v1M361 57v1M361 62v1M361 64v1M362 50v4M362 57v1M363 40v1M363 45v4M363 50v2M363 53v1M363 62v1M363 65v1M363 70v2M365 39v2M365 42v1M365 45v3M365 49v2M365 56v2M365 59v1M365 62v1M365 67v1M366 45v1M366 52v1M367 38v1M367 52v2M367 56v1M367 60v1M367 63v1M367 71v1M368 37v1M368 52v1M368 57v1M368 65v1M369 34v1M369 39v1M369 42v2M369 45v1M369 52v1M369 58v1M369 60v1M370 34v2M370 43v1M370 47v1M370 52v1M370 56v1M370 61v1M371 31v1M371 33v1M371 49v1M371 57v1M372 37v1M372 40v1M372 55v1M372 57v2M372 61v1M372 64v1M372 68v1M373 50v1M374 38v2M374 42v1M374 48v1M374 50v1M374 55v1M375 34v1M375 39v1M375 43v1M375 45v1M375 47v1M375 49v1M375 52v1M375 55v1" stroke="#98c7e0" stroke-width="1" fill="none"/><path d="M234 42v1M234 62v1M234 75v1M234 81v1M234 84v1M235 60v1M235 73v1M235 78v1M235 81v1M236 61v1M236 66v2M236 71v1M236 74v1M236 78v1M236 85v1M238 47v1M238 56v1M238 75v3M238 80v1M238 91v1M238 93v1M239 73v1M239 85v1M240 74v2M240 90v2M240 102v1M240 105v1M241 50v1M241 59v1M241 69v2M241 76v1M241 78v1M242 48v1M242 56v1M242 58v1M242 70v1M242 78v1M242 80v1M242 83v1M243 79v3M244 62v1M244 87v1M245 77v1M245 80v1M245 85v1M246 76v1M246 78v1M246 80v1M246 83v1M246 85v1M246 94v1M246 97v1M247 65v1M247 74v1M247 83v1M247 85v1M247 87v1M247 89v1M247 100v1M247 103v1M248 72v1M248 78v3M250 69v1M250 79v2M250 99v1M251 80v1M251 82v1M251 84v1M251 88v3M252 75v1M252 82v1M252 84v1M252 86v1M252 96v1M253 84v2M253 95v1M253 103v1M254 69v2M254 87v2M254 90v1M254 94v1M254 99v1M254 102v1M255 59v1M255 78v1M255 86v1M257 83v1M257 86v4M257 91v1M258 94v2M258 100v2M258 110v1M260 84v1M260 95v1M260 100v1M261 87v1M261 93v1M261 104v1M261 106v1M262 59v1M262 93v1M262 95v1M262 105v1M263 94v2M263 105v1M264 80v1M264 97v1M264 100v1M264 105v2M266 83v1M266 94v1M266 96v1M266 98v2M266 104v1M268 66v1M268 96v1M268 98v1M268 101v1M268 103v1M268 108v1M270 74v1M270 97v1M270 99v1M270 106v1M270 109v1M271 69v1M271 80v1M271 96v1M271 101v1M271 104v3M271 108v1M272 84v1M272 99v1M272 101v1M272 104v4M273 93v1M273 100v1M273 103v1M274 66v1M274 70v1M274 86v1M274 93v2M274 97v2M274 102v1M274 108v1M275 69v1M275 98v1M275 100v2M275 105v3M275 109v1M276 94v1M276 97v1M276 100v1M276 102v3M276 108v2M278 95v3M278 108v1M280 89v1M280 91v2M280 95v2M280 100v2M280 108v1M280 110v1M281 99v2M281 103v3M281 110v1M282 90v1M282 94v2M282 98v1M282 100v1M282 103v2M284 69v1M284 87v1M284 96v2M284 110v1M285 88v1M285 91v1M285 102v1M285 110v1M286 70v1M286 78v1M286 91v1M286 95v1M286 98v1M286 102v2M287 102v1M287 104v1M287 111v2M288 82v1M288 103v2M288 107v1M288 118v1M290 84v1M290 93v1M290 95v1M290 99v2M290 102v1M290 110v1M290 123v1M291 73v1M291 108v1M292 71v1M292 95v1M292 101v1M292 103v1M292 106v1M293 79v1M293 90v1M293 101v2M293 104v1M293 107v1M294 69v1M294 93v1M294 98v1M294 100v2M294 103v1M294 106v2M295 89v1M295 104v1M295 110v1M296 91v1M296 110v1M296 112v1M297 89v2M297 92v1M298 88v1M298 96v2M298 105v1M299 98v1M301 96v2M301 100v1M301 107v1M301 110v1M302 102v1M302 104v1M302 109v1M303 92v1M303 105v1M303 108v1M304 63v1M304 107v1M304 109v1M305 95v2M305 115v1M306 85v1M306 88v1M306 94v1M306 109v1M306 118v1M307 89v1M307 93v3M308 83v1M308 92v1M308 94v1M308 97v1M308 106v1M308 114v1M309 75v1M309 77v1M310 88v1M310 98v1M310 113v1M311 91v1M311 98v2M311 104v1M312 89v1M312 93v2M312 100v1M312 102v1M312 113v1M313 90v2M313 96v3M313 104v1M313 109v1M314 92v1M314 95v1M314 98v2M315 88v1M315 97v1M315 108v1M316 75v1M316 77v1M316 90v1M316 97v1M316 103v1M318 76v1M318 85v2M318 100v1M320 77v1M320 81v1M320 84v1M320 95v1M320 100v1M321 77v1M321 81v1M321 87v3M321 92v1M322 80v1M322 84v1M322 96v1M323 63v1M323 82v1M323 90v1M323 92v1M323 95v1M323 98v1M323 111v1M324 87v3M324 92v1M325 78v1M325 86v1M325 92v1M325 94v1M326 90v1M326 92v1M326 95v1M326 101v1M327 79v1M327 84v2M327 87v1M327 89v1M327 95v1M329 72v1M329 74v1M329 81v2M329 85v1M331 66v1M331 74v1M331 80v1M331 82v2M331 85v2M332 76v1M332 82v2M332 85v1M332 90v1M333 80v1M334 71v2M334 76v1M334 82v1M334 87v1M336 60v1M336 68v1M336 70v2M336 75v1M336 80v1M336 85v1M337 67v1M337 74v1M337 81v1M337 89v1M337 91v1M338 45v1M338 73v1M338 79v1M338 81v2M339 66v1M339 68v1M339 72v1M343 61v1M343 63v1M343 75v1M345 45v1M346 57v1M346 70v1M348 63v1M348 69v2M348 72v2M348 76v1M349 52v1M349 58v3M350 65v1M350 70v1M350 76v1M351 58v2M351 65v3M351 69v1M352 70v2M353 61v1M353 63v1M354 53v1M354 55v2M354 59v1M354 61v1M354 67v2M355 54v1M355 56v1M355 58v3M355 62v1M357 58v2M357 62v2M358 63v3M359 61v1M359 64v1M359 67v1M361 47v1M361 49v1M361 51v1M361 60v2M361 72v1M362 34v1M363 57v1M363 61v1M365 41v1M365 54v1M365 66v1M366 43v1M366 47v1M366 53v1M367 50v1M367 58v1M367 72v1M368 49v3M368 58v1M369 35v1M369 44v1M369 47v1M369 51v1M369 53v1M370 44v1M370 48v1M370 50v1M370 53v1M370 57v1M371 36v1M371 39v1M371 41v3M371 45v1M371 50v1M371 52v1M371 56v1M372 41v1M372 43v1M372 45v1M372 47v1M372 53v1M372 56v1M373 41v1M373 44v2M373 51v1M373 53v1M373 55v2M374 40v2M374 44v2M374 51v2M374 54v1M375 44v1M375 46v1M375 53v1" stroke="#6baed6" stroke-width="1" fill="none"/><path d="M236 48v1M236 75v2M236 81v2M236 84v1M236 98v1M238 74v1M238 83v1M238 85v2M239 55v1M239 74v1M239 81v1M239 84v1M239 98v1M240 69v1M240 73v1M240 76v2M240 83v1M240 94v1M241 52v1M241 60v1M241 65v1M241 73v2M241 77v1M241 79v1M242 62v1M243 51v1M243 60v1M243 74v1M243 90v1M244 58v1M244 78v1M244 85v1M244 103v1M245 86v1M246 51v1M246 79v1M246 84v1M246 86v1M247 50v1M247 84v1M248 57v1M248 84v1M250 75v1M250 81v1M250 83v1M250 85v1M250 87v3M250 91v1M251 54v1M251 85v1M251 91v1M253 56v1M253 64v1M253 100v1M254 76v1M254 92v1M254 103v1M255 87v1M255 93v1M255 95v2M255 99v2M257 57v1M257 62v1M257 99v1M257 103v1M258 88v1M260 64v1M260 77v1M260 96v2M260 103v1M261 94v1M261 96v3M261 100v1M262 72v1M262 99v2M263 97v1M263 99v3M263 107v1M264 70v1M264 91v2M264 98v1M265 65v1M265 81v1M265 93v2M265 96v2M265 100v1M265 103v1M266 55v1M266 93v1M266 101v2M268 74v1M268 94v2M268 99v2M270 100v2M270 103v1M270 105v1M271 97v3M271 117v1M271 122v1M272 94v1M272 96v1M273 105v2M274 67v1M274 100v1M274 104v2M274 107v1M275 62v1M276 64v2M276 96v1M276 99v1M276 107v1M278 99v1M278 102v1M278 107v1M280 68v1M280 103v1M280 105v1M280 107v1M281 106v2M282 89v1M282 96v1M282 101v2M284 62v1M284 92v1M284 95v1M284 99v1M284 101v2M284 104v1M284 109v1M284 112v1M285 65v1M285 106v1M286 92v1M287 105v1M287 107v1M287 110v1M288 80v1M288 89v1M288 99v1M288 105v1M290 101v1M290 109v1M290 120v1M291 86v1M292 110v1M293 105v1M294 80v1M294 99v1M294 102v1M294 110v1M295 99v1M295 107v2M296 86v1M296 90v1M296 92v1M296 99v2M296 103v2M296 109v1M297 82v1M297 98v1M298 98v1M298 106v1M299 75v1M299 92v2M299 96v2M299 102v1M301 78v1M301 81v1M302 87v1M302 93v1M302 95v1M302 100v1M302 108v1M303 94v1M303 102v1M304 90v1M304 93v1M304 110v1M304 121v1M305 100v1M306 91v1M307 96v1M310 77v1M310 90v2M311 90v1M312 74v1M312 92v1M312 98v2M313 88v2M313 92v1M314 81v1M314 89v3M314 96v1M315 87v1M315 89v3M315 94v2M316 87v1M316 91v1M316 95v2M316 98v1M316 102v1M318 93v1M318 95v1M318 117v1M321 80v1M321 85v1M321 90v1M321 115v1M322 89v2M323 68v1M323 93v1M323 121v1M323 123v1M324 75v1M324 86v1M324 95v1M324 98v1M325 66v1M325 81v3M325 90v1M327 57v1M327 67v1M327 86v1M327 91v3M329 78v2M329 83v1M329 86v1M331 78v1M332 78v1M332 80v1M332 84v1M333 53v1M333 81v1M334 57v1M334 86v1M336 97v1M337 71v1M338 54v1M338 69v1M339 67v1M339 70v1M339 81v1M339 90v1M343 50v1M343 60v1M343 65v1M343 69v1M343 72v1M345 58v1M348 41v1M349 61v2M349 80v1M350 50v1M350 59v4M351 44v1M351 60v1M351 80v1M352 28v1M352 35v1M352 46v1M352 62v1M353 62v1M354 58v1M354 63v1M354 66v1M355 61v1M355 63v1M358 34v1M358 61v1M359 56v1M359 59v1M359 62v1M360 60v2M361 54v1M361 69v1M362 55v2M363 54v1M363 56v1M365 53v1M365 55v1M366 37v1M366 50v1M367 41v1M367 54v1M368 46v1M369 49v1M370 45v1M370 49v1M370 54v1M371 48v1M371 51v1M371 54v2M372 46v1M372 49v1M372 54v1M372 60v1M373 43v1M373 47v1M375 36v1" stroke="#4795c8" stroke-width="1" fill="none"/><path d="M234 89v1M236 83v1M236 91v1M236 93v1M238 72v2M238 82v1M239 76v1M240 82v1M240 84v2M241 86v1M242 84v1M244 61v1M246 72v1M247 102v1M248 85v1M250 82v1M250 90v1M251 70v1M253 90v1M253 92v1M254 63v1M255 91v1M255 98v1M257 109v1M260 70v1M260 98v1M260 117v1M261 50v1M261 88v1M262 76v1M262 101v1M265 99v1M265 101v2M266 95v1M271 94v1M273 73v1M274 99v1M274 106v1M275 91v1M276 91v1M276 101v1M276 106v1M276 110v1M278 92v1M278 98v1M278 106v1M280 102v1M280 109v1M281 76v1M284 83v1M284 100v1M284 105v2M285 100v1M285 105v1M286 100v1M286 105v1M286 107v1M287 106v1M290 92v1M290 115v1M291 94v1M291 117v1M291 119v1M292 107v1M295 92v1M295 102v2M295 106v1M296 93v1M296 101v2M296 105v1M296 108v1M297 91v1M297 94v1M297 97v1M297 103v1M298 94v1M298 99v1M298 101v2M299 101v1M299 104v1M301 95v1M301 98v2M301 101v1M302 97v3M303 80v1M303 95v1M303 98v1M303 100v2M304 94v2M304 97v4M305 107v2M307 65v1M307 111v1M308 116v1M310 93v2M311 92v1M311 94v1M313 76v1M313 93v2M314 93v2M315 83v1M316 71v1M316 88v2M316 92v2M316 99v2M318 72v1M321 86v1M321 91v1M322 85v1M323 88v1M325 91v1M325 93v1M327 81v1M327 83v1M327 90v1M327 101v1M329 56v1M333 55v1M334 80v1M339 69v1M339 71v1M339 74v1M343 66v2M343 70v1M348 61v2M349 69v1M350 31v1M351 42v1M351 46v1M354 60v1M354 62v1M354 64v1M355 41v1M355 65v1M358 62v1M359 52v1M359 58v1M359 69v1M360 39v1M360 63v1M361 50v1M361 56v1M362 40v1M363 55v1M366 48v1M366 55v1M368 47v1M368 55v1M369 36v1M369 46v1M369 50v1M369 54v1M369 59v1M370 51v1M371 44v1M372 48v1" stroke="#2878b9" stroke-width="1" fill="none"/><path d="M239 86v1M240 81v1M241 80v1M241 84v2M242 73v1M243 69v1M243 84v1M243 86v1M247 86v1M248 76v1M248 81v1M248 86v1M250 84v1M250 86v1M253 87v1M253 89v1M255 88v1M255 90v1M255 92v1M270 102v1M271 102v1M272 97v1M274 92v1M278 91v1M278 93v1M278 103v2M280 99v1M281 94v1M281 101v1M282 83v1M284 103v1M285 99v1M286 99v1M286 101v1M287 99v2M287 103v1M290 91v1M292 108v1M295 100v2M295 105v1M296 106v2M297 95v1M297 99v3M297 104v1M299 99v2M302 96v1M302 101v1M303 96v2M303 99v1M304 96v1M306 95v1M309 93v1M310 92v1M310 95v1M310 101v1M313 95v1M318 98v1M324 79v1M327 82v1M331 79v1M332 86v1M333 88v1M334 78v1M334 88v1M343 71v1M349 71v1M358 57v1M358 59v1M360 57v1M361 55v1M362 54v1M366 54v1M366 56v2M368 56v1M371 47v1M371 53v1M371 58v1M373 42v1M374 46v1" stroke="#105ca4" stroke-width="1" fill="none"/><path d="M236 77v1M239 82v1M242 79v1M242 85v1M255 89v1M257 98v1M265 95v1M268 102v1M268 104v1M276 105v1M278 101v1M285 101v1M285 107v1M286 106v1M287 101v1M297 93v1M298 95v1M298 100v1M316 94v1M329 84v1M336 79v1M349 70v1M354 65v1M358 58v1M360 58v1M368 54v1M369 48v1M369 55v1" stroke="#083f81" stroke-width="1" fill="none"/></g>
<rect x="232.50" y="10.50" width="145.00" height="146.00" fill="none" stroke="#666" stroke-width="1.00"/>
<line x1="229.50" y1="112.50" x2="232.50" y2="112.50" stroke="#555" stroke-width="1.00"/><line x1="229.50" y1="39.50" x2="232.50" y2="39.50" stroke="#555" stroke-width="1.00"/>
<line x1="230.70" y1="148.50" x2="232.50" y2="148.50" stroke="#555" stroke-width="1.00"/><line x1="230.70" y1="76.50" x2="232.50" y2="76.50" stroke="#555" stroke-width="1.00"/>
<text x="229.40" y="115.20" font-size="7.90" text-anchor="end" fill="#333">2.0</text>
<text x="229.40" y="42.40" font-size="7.90" text-anchor="end" fill="#333">2.5</text>
<line x1="234.50" y1="156.50" x2="234.50" y2="159.50" stroke="#555" stroke-width="1.00"/><line x1="262.50" y1="156.50" x2="262.50" y2="159.50" stroke="#555" stroke-width="1.00"/><line x1="290.50" y1="156.50" x2="290.50" y2="159.50" stroke="#555" stroke-width="1.00"/><line x1="319.50" y1="156.50" x2="319.50" y2="159.50" stroke="#555" stroke-width="1.00"/><line x1="347.50" y1="156.50" x2="347.50" y2="159.50" stroke="#555" stroke-width="1.00"/><line x1="375.50" y1="156.50" x2="375.50" y2="159.50" stroke="#555" stroke-width="1.00"/>
<line x1="248.50" y1="156.50" x2="248.50" y2="158.30" stroke="#555" stroke-width="1.00"/><line x1="276.50" y1="156.50" x2="276.50" y2="158.30" stroke="#555" stroke-width="1.00"/><line x1="304.50" y1="156.50" x2="304.50" y2="158.30" stroke="#555" stroke-width="1.00"/><line x1="333.50" y1="156.50" x2="333.50" y2="158.30" stroke="#555" stroke-width="1.00"/><line x1="361.50" y1="156.50" x2="361.50" y2="158.30" stroke="#555" stroke-width="1.00"/>
<text x="234.10" y="165.00" font-size="7.90" text-anchor="middle" fill="#333">0.0</text>
<text x="262.40" y="165.00" font-size="7.90" text-anchor="middle" fill="#333">0.2</text>
<text x="290.70" y="165.00" font-size="7.90" text-anchor="middle" fill="#333">0.4</text>
<text x="319.00" y="165.00" font-size="7.90" text-anchor="middle" fill="#333">0.6</text>
<text x="347.30" y="165.00" font-size="7.90" text-anchor="middle" fill="#333">0.8</text>
<text x="375.60" y="165.00" font-size="7.90" text-anchor="middle" fill="#333">1.0</text>
<text x="305.00" y="176.40" font-size="8.90" text-anchor="middle" fill="#333"><tspan dy="-0.00">x of (</tspan><tspan dy="-0.00">Cs</tspan><tspan font-size="6.23" dy="1.78">3</tspan><tspan dy="-1.78">Sb</tspan><tspan font-size="6.23" dy="1.78">2</tspan><tspan dy="-1.78">I</tspan><tspan font-size="6.23" dy="1.78">9</tspan><tspan dy="-1.78">)</tspan><tspan font-size="6.23" dy="1.78">1 − x</tspan><tspan dy="-1.78">(</tspan><tspan dy="-0.00">Cs</tspan><tspan font-size="6.23" dy="1.78">3</tspan><tspan dy="-1.78">Bi</tspan><tspan font-size="6.23" dy="1.78">2</tspan><tspan dy="-1.78">Br</tspan><tspan font-size="6.23" dy="1.78">9</tspan><tspan dy="-1.78">)</tspan><tspan font-size="6.23" dy="1.78">x</tspan></text>
<text x="0.00" y="0.00" font-size="8.90" text-anchor="middle" fill="#333" transform="translate(212.3,83.3) rotate(-90)">Bandgap (eV)</text>
<text x="339.50" y="149.00" font-size="8.00" text-anchor="middle" fill="#222">N = 131,865</text>
<rect x="382.3" y="10.4" width="8.2" height="145.6" fill="url(#cbb)" stroke="#666" stroke-width="0.6"/>
<line x1="390.50" y1="156.50" x2="393.10" y2="156.50" stroke="#555" stroke-width="1.00"/><line x1="390.50" y1="85.50" x2="393.10" y2="85.50" stroke="#555" stroke-width="1.00"/><line x1="390.50" y1="14.50" x2="393.10" y2="14.50" stroke="#555" stroke-width="1.00"/>
<line x1="390.50" y1="120.50" x2="392.10" y2="120.50" stroke="#555" stroke-width="1.00"/><line x1="390.50" y1="49.50" x2="392.10" y2="49.50" stroke="#555" stroke-width="1.00"/>
<text x="394.40" y="158.70" font-size="7.90" text-anchor="start" fill="#333">0</text>
<text x="394.40" y="87.87" font-size="7.90" text-anchor="start" fill="#333">50</text>
<text x="394.40" y="17.04" font-size="7.90" text-anchor="start" fill="#333">100</text>
<text x="0.00" y="0.00" font-size="8.90" text-anchor="middle" fill="#333" transform="translate(410.0,82.8) rotate(90)">Number of pixels</text>
<line x1="231.10" y1="298.90" x2="378.90" y2="298.90" stroke="#999" stroke-width="1.10"/>
<clipPath id="clc"><rect x="231.1" y="199.6" width="147.8" height="136.8"/></clipPath>
<g clip-path="url(#clc)"><path d="M231.1,323.6 232.6,323.3 234.1,322.4 235.6,321.4 237.1,324.6 238.6,325.6 240.1,325.9 241.6,328.0 243.1,329.4 244.6,329.2 246.1,326.4 247.6,324.6 249.1,322.1 250.6,321.4 252.1,320.4 253.6,319.6 255.1,315.9 256.6,308.9 258.1,306.8 259.6,306.1 261.1,302.3 262.6,296.8 264.1,292.2 265.6,282.7 267.1,271.5 268.6,264.4 270.1,258.0 271.6,250.6 273.1,242.9 274.6,234.4 276.1,228.1 277.6,218.7 279.1,217.8 280.6,220.5 282.1,220.6 283.6,218.1 285.1,211.7 286.6,206.2 288.1,205.9 289.6,207.6 291.1,208.9 292.6,210.9 294.1,211.7 295.6,211.2 297.1,211.4 298.6,213.6 300.1,218.7 301.6,218.3 303.1,219.1 304.6,219.4 306.1,216.7 307.6,214.4 309.1,216.5 310.6,215.7 312.1,215.8 313.6,213.8 315.1,215.3 316.6,215.4 318.1,216.5 319.6,219.2 321.1,221.4 322.6,223.3 324.1,224.2 325.6,225.6 327.1,227.8 328.6,228.5 330.1,230.0 331.6,227.4 333.1,227.3 334.6,232.3 336.1,232.3 337.6,229.3 339.1,233.0 340.6,237.2 342.1,238.3 343.6,240.3 345.1,240.9 346.6,243.0 348.1,246.9 349.6,249.5 351.1,253.3 352.6,255.3 354.1,255.9 355.6,258.3 357.1,261.8 358.6,263.0 360.1,263.5 361.6,265.4 363.1,267.2 364.6,268.7 366.1,269.8 367.6,269.9 369.1,270.2 370.6,270.9 372.1,273.0 373.6,271.6 375.1,274.3 376.6,275.6 378.1,275.7" fill="none" stroke="#a50026" stroke-width="0.75" stroke-opacity="0.75" stroke-linejoin="round"/><path d="M231.0,311.4 232.5,310.2 234.0,309.6 235.5,307.4 237.0,310.1 238.5,309.3 240.0,307.9 241.5,308.4 243.0,307.7 244.5,306.8 246.0,307.6 247.5,306.3 249.0,306.0 250.5,305.1 252.0,305.1 253.5,303.8 255.0,303.4 256.5,300.7 258.0,299.4 259.5,296.1 261.0,294.8 262.5,291.3 264.0,287.2 265.5,278.7 267.0,272.7 268.5,269.2 270.0,265.6 271.5,258.7 273.0,253.6 274.5,248.2 276.0,244.4 277.5,241.0 279.0,240.4 280.5,238.9 282.0,238.2 283.5,238.2 285.0,237.9 286.5,233.4 288.0,230.4 289.5,231.4 291.0,231.1 292.5,231.1 294.0,229.6 295.5,230.6 297.0,232.2 298.5,232.5 300.0,230.8 301.5,236.4 303.0,236.0 304.5,235.5 306.0,232.6 307.5,229.8 309.0,233.4 310.5,235.0 312.0,231.3 313.5,231.1 315.0,235.1 316.5,235.6 318.0,235.0 319.5,234.5 321.0,233.9 322.5,230.8 324.0,228.4 325.5,232.7 327.0,232.8 328.5,228.7 330.0,228.2 331.5,228.8 333.0,231.6 334.5,230.2 336.0,231.3 337.5,230.5 339.0,233.8 340.5,237.9 342.0,238.9 343.5,239.6 345.0,241.3 346.5,246.2 348.0,248.0 349.5,250.9 351.0,253.3 352.5,255.5 354.0,258.7 355.5,259.9 357.0,261.4 358.5,263.3 360.0,264.2 361.5,266.5 363.0,268.6 364.5,268.6 366.0,271.2 367.5,270.3 369.0,271.7 370.5,271.8 372.0,273.4 373.5,274.8 375.0,275.6 376.5,276.5 378.0,277.7" fill="none" stroke="#e0503a" stroke-width="0.75" stroke-opacity="0.70" stroke-linejoin="round"/><path d="M231.0,311.4 232.5,306.2 234.0,307.0 235.5,304.6 237.0,303.7 238.5,303.3 240.0,301.2 241.5,302.0 243.0,300.8 244.5,303.5 246.0,300.4 247.5,299.3 249.0,298.7 250.5,297.4 252.0,295.6 253.5,294.5 255.0,293.7 256.5,291.9 258.0,291.6 259.5,289.5 261.0,287.7 262.5,286.6 264.0,283.6 265.5,280.0 267.0,276.8 268.5,273.9 270.0,271.5 271.5,267.0 273.0,264.2 274.5,262.3 276.0,258.4 277.5,256.6 279.0,255.2 280.5,252.8 282.0,250.5 283.5,249.0 285.0,244.2 286.5,246.9 288.0,247.1 289.5,249.2 291.0,250.6 292.5,249.1 294.0,247.1 295.5,245.7 297.0,245.7 298.5,249.0 300.0,253.4 301.5,251.6 303.0,249.9 304.5,249.3 306.0,247.5 307.5,246.5 309.0,247.3 310.5,247.1 312.0,246.9 313.5,246.9 315.0,248.2 316.5,244.3 318.0,245.2 319.5,243.4 321.0,241.7 322.5,244.1 324.0,244.3 325.5,245.9 327.0,242.4 328.5,242.1 330.0,242.2 331.5,240.9 333.0,236.6 334.5,239.6 336.0,241.9 337.5,243.5 339.0,247.7 340.5,247.0 342.0,248.1 343.5,246.8 345.0,248.6 346.5,250.0 348.0,252.3 349.5,253.8 351.0,258.5 352.5,259.6 354.0,261.4 355.5,263.8 357.0,265.7 358.5,267.5 360.0,270.0 361.5,270.7 363.0,273.1 364.5,271.6 366.0,273.0 367.5,273.9 369.0,275.1 370.5,276.2 372.0,275.9 373.5,276.6 375.0,279.1 376.5,281.1 378.0,281.9" fill="none" stroke="#fda95e" stroke-width="0.75" stroke-opacity="0.70" stroke-linejoin="round"/><path d="M231.0,302.5 232.5,302.0 234.0,302.7 235.5,301.0 237.0,298.4 238.5,298.8 240.0,297.5 241.5,297.7 243.0,295.8 244.5,296.8 246.0,296.4 247.5,297.0 249.0,295.6 250.5,295.3 252.0,293.4 253.5,296.1 255.0,292.5 256.5,293.4 258.0,290.7 259.5,288.8 261.0,287.0 262.5,284.8 264.0,283.4 265.5,280.6 267.0,278.9 268.5,273.4 270.0,272.0 271.5,269.0 273.0,268.1 274.5,263.5 276.0,263.2 277.5,262.4 279.0,259.7 280.5,260.7 282.0,259.7 283.5,260.0 285.0,259.6 286.5,257.9 288.0,258.2 289.5,258.8 291.0,259.8 292.5,260.2 294.0,259.2 295.5,259.6 297.0,259.8 298.5,260.2 300.0,260.8 301.5,260.7 303.0,262.3 304.5,260.1 306.0,260.2 307.5,260.6 309.0,259.3 310.5,259.8 312.0,260.4 313.5,261.3 315.0,259.9 316.5,262.4 318.0,261.3 319.5,262.0 321.0,262.8 322.5,262.8 324.0,263.2 325.5,262.7 327.0,262.7 328.5,263.1 330.0,262.2 331.5,264.0 333.0,262.4 334.5,262.0 336.0,264.6 337.5,263.1 339.0,262.8 340.5,265.8 342.0,264.6 343.5,266.3 345.0,265.3 346.5,266.6 348.0,266.3 349.5,267.0 351.0,268.6 352.5,270.1 354.0,271.7 355.5,273.8 357.0,271.9 358.5,274.4 360.0,274.0 361.5,275.2 363.0,275.1 364.5,275.9 366.0,277.3 367.5,277.8 369.0,279.6 370.5,279.8 372.0,282.2 373.5,282.1 375.0,283.0 376.5,284.6 378.0,284.9" fill="none" stroke="#fee58a" stroke-width="0.75" stroke-opacity="0.80" stroke-linejoin="round"/><path d="M231.0,303.9 232.5,302.1 234.0,301.6 235.5,300.8 237.0,300.5 238.5,299.0 240.0,297.8 241.5,297.0 243.0,297.6 244.5,298.1 246.0,296.8 247.5,295.4 249.0,295.4 250.5,297.2 252.0,295.8 253.5,293.9 255.0,294.9 256.5,292.9 258.0,292.1 259.5,291.0 261.0,288.9 262.5,287.7 264.0,284.9 265.5,282.4 267.0,281.1 268.5,279.5 270.0,275.5 271.5,274.9 273.0,272.5 274.5,271.4 276.0,269.4 277.5,269.6 279.0,268.7 280.5,267.9 282.0,267.0 283.5,267.3 285.0,266.5 286.5,266.1 288.0,267.1 289.5,265.9 291.0,267.6 292.5,267.3 294.0,265.1 295.5,266.9 297.0,265.8 298.5,266.7 300.0,266.7 301.5,265.1 303.0,266.5 304.5,266.5 306.0,267.5 307.5,265.8 309.0,267.3 310.5,265.9 312.0,266.6 313.5,266.4 315.0,268.4 316.5,267.8 318.0,269.4 319.5,268.2 321.0,268.2 322.5,267.9 324.0,266.5 325.5,266.6 327.0,267.5 328.5,265.8 330.0,266.0 331.5,265.8 333.0,266.3 334.5,265.6 336.0,265.7 337.5,266.1 339.0,266.0 340.5,265.4 342.0,267.6 343.5,266.5 345.0,267.3 346.5,267.9 348.0,270.4 349.5,270.1 351.0,270.6 352.5,271.6 354.0,274.0 355.5,274.0 357.0,275.0 358.5,277.6 360.0,277.3 361.5,278.5 363.0,279.2 364.5,279.2 366.0,280.0 367.5,281.5 369.0,280.5 370.5,280.5 372.0,280.8 373.5,282.9 375.0,283.6 376.5,284.9 378.0,285.1" fill="none" stroke="#b9e0ee" stroke-width="0.75" stroke-opacity="0.80" stroke-linejoin="round"/><path d="M231.0,301.6 232.5,301.7 234.0,297.7 235.5,299.1 237.0,300.1 238.5,300.8 240.0,300.7 241.5,301.8 243.0,301.2 244.5,300.8 246.0,299.9 247.5,298.2 249.0,297.8 250.5,298.2 252.0,297.1 253.5,298.2 255.0,297.8 256.5,297.1 258.0,294.5 259.5,294.5 261.0,291.1 262.5,289.5 264.0,288.5 265.5,287.3 267.0,285.3 268.5,284.6 270.0,285.7 271.5,283.8 273.0,284.6 274.5,283.1 276.0,282.4 277.5,281.7 279.0,281.7 280.5,280.3 282.0,280.8 283.5,279.1 285.0,278.8 286.5,275.5 288.0,276.3 289.5,279.0 291.0,279.0 292.5,280.9 294.0,278.6 295.5,278.4 297.0,278.4 298.5,279.0 300.0,277.1 301.5,277.6 303.0,277.0 304.5,275.6 306.0,277.3 307.5,277.3 309.0,276.2 310.5,276.1 312.0,274.5 313.5,274.1 315.0,274.5 316.5,274.9 318.0,273.6 319.5,273.8 321.0,274.1 322.5,273.3 324.0,273.5 325.5,274.1 327.0,271.8 328.5,273.3 330.0,271.1 331.5,273.2 333.0,273.4 334.5,273.1 336.0,272.9 337.5,274.0 339.0,274.0 340.5,274.7 342.0,274.1 343.5,275.6 345.0,274.6 346.5,275.6 348.0,276.0 349.5,277.7 351.0,275.9 352.5,277.2 354.0,279.0 355.5,278.2 357.0,279.2 358.5,281.8 360.0,282.8 361.5,284.9 363.0,284.8 364.5,286.9 366.0,288.5 367.5,288.5 369.0,286.4 370.5,288.4 372.0,287.1 373.5,287.3 375.0,288.3 376.5,289.9 378.0,290.1" fill="none" stroke="#5a94c8" stroke-width="0.75" stroke-opacity="0.75" stroke-linejoin="round"/><path d="M231.0,299.3 232.5,300.7 234.0,301.3 235.5,301.7 237.0,302.5 238.5,302.6 240.0,303.8 241.5,305.1 243.0,303.8 244.5,303.9 246.0,304.8 247.5,304.4 249.0,304.0 250.5,303.1 252.0,304.1 253.5,304.8 255.0,303.4 256.5,304.9 258.0,304.5 259.5,304.7 261.0,304.0 262.5,304.9 264.0,303.5 265.5,304.2 267.0,303.4 268.5,302.2 270.0,299.5 271.5,300.0 273.0,299.3 274.5,298.3 276.0,295.8 277.5,295.8 279.0,295.0 280.5,294.8 282.0,296.0 283.5,294.3 285.0,294.7 286.5,295.2 288.0,293.6 289.5,293.4 291.0,293.1 292.5,292.5 294.0,291.0 295.5,291.6 297.0,292.3 298.5,289.7 300.0,291.3 301.5,290.4 303.0,289.5 304.5,291.3 306.0,290.1 307.5,288.2 309.0,288.9 310.5,289.0 312.0,288.0 313.5,288.2 315.0,287.2 316.5,287.3 318.0,287.5 319.5,285.4 321.0,285.6 322.5,284.5 324.0,284.4 325.5,282.8 327.0,282.7 328.5,282.4 330.0,282.7 331.5,282.4 333.0,279.9 334.5,279.7 336.0,280.4 337.5,277.7 339.0,279.9 340.5,281.1 342.0,283.1 343.5,283.6 345.0,283.7 346.5,284.3 348.0,285.1 349.5,287.1 351.0,286.2 352.5,287.2 354.0,289.2 355.5,290.2 357.0,291.6 358.5,291.4 360.0,291.2 361.5,289.7 363.0,289.8 364.5,290.0 366.0,290.1 367.5,291.2 369.0,291.0 370.5,293.0 372.0,293.6 373.5,295.5 375.0,295.5 376.5,297.9 378.0,297.3" fill="none" stroke="#313695" stroke-width="0.75" stroke-opacity="0.75" stroke-linejoin="round"/></g>
<line x1="243.50" y1="292.00" x2="243.50" y2="333.20" stroke="#111" stroke-width="1.00" stroke-dasharray="2.6,1.8"/>
<line x1="287.40" y1="203.00" x2="287.40" y2="303.00" stroke="#111" stroke-width="1.00" stroke-dasharray="2.6,1.8"/>
<line x1="337.40" y1="222.00" x2="337.40" y2="304.00" stroke="#111" stroke-width="1.00" stroke-dasharray="2.6,1.8"/>
<text x="245.50" y="284.80" font-size="8.00" text-anchor="middle" fill="#222">PIA</text>
<text x="270.40" y="212.50" font-size="8.00" text-anchor="middle" fill="#222">GSB1</text>
<text x="342.70" y="216.80" font-size="8.00" text-anchor="middle" fill="#222">GSB2</text>
<text x="326.60" y="329.60" font-size="7.70" text-anchor="middle" fill="#222"><tspan dy="-0.00">(</tspan><tspan dy="-0.00">Cs</tspan><tspan font-size="5.39" dy="1.54">3</tspan><tspan dy="-1.54">Sb</tspan><tspan font-size="5.39" dy="1.54">2</tspan><tspan dy="-1.54">I</tspan><tspan font-size="5.39" dy="1.54">9</tspan><tspan dy="-1.54">)</tspan><tspan font-size="5.39" dy="1.54">0.8</tspan><tspan dy="-1.54"> (</tspan><tspan dy="-0.00">Cs</tspan><tspan font-size="5.39" dy="1.54">3</tspan><tspan dy="-1.54">Bi</tspan><tspan font-size="5.39" dy="1.54">2</tspan><tspan dy="-1.54">Br</tspan><tspan font-size="5.39" dy="1.54">9</tspan><tspan dy="-1.54">)</tspan><tspan font-size="5.39" dy="1.54">0.2</tspan></text>
<rect x="231.50" y="199.50" width="147.00" height="137.00" fill="none" stroke="#666" stroke-width="1.00"/>
<line x1="228.50" y1="298.50" x2="231.50" y2="298.50" stroke="#555" stroke-width="1.00"/><line x1="228.50" y1="261.50" x2="231.50" y2="261.50" stroke="#555" stroke-width="1.00"/><line x1="228.50" y1="223.50" x2="231.50" y2="223.50" stroke="#555" stroke-width="1.00"/>
<line x1="229.70" y1="317.50" x2="231.50" y2="317.50" stroke="#555" stroke-width="1.00"/><line x1="229.70" y1="280.50" x2="231.50" y2="280.50" stroke="#555" stroke-width="1.00"/><line x1="229.70" y1="242.50" x2="231.50" y2="242.50" stroke="#555" stroke-width="1.00"/><line x1="229.70" y1="205.50" x2="231.50" y2="205.50" stroke="#555" stroke-width="1.00"/>
<text x="227.80" y="301.60" font-size="7.90" text-anchor="end" fill="#333">0</text>
<text x="227.80" y="264.10" font-size="7.90" text-anchor="end" fill="#333">5</text>
<text x="228.60" y="226.60" font-size="7.90" text-anchor="end" fill="#333">10</text>
<line x1="245.50" y1="336.50" x2="245.50" y2="339.50" stroke="#555" stroke-width="1.00"/><line x1="275.50" y1="336.50" x2="275.50" y2="339.50" stroke="#555" stroke-width="1.00"/><line x1="305.50" y1="336.50" x2="305.50" y2="339.50" stroke="#555" stroke-width="1.00"/><line x1="334.50" y1="336.50" x2="334.50" y2="339.50" stroke="#555" stroke-width="1.00"/><line x1="364.50" y1="336.50" x2="364.50" y2="339.50" stroke="#555" stroke-width="1.00"/>
<line x1="260.50" y1="336.50" x2="260.50" y2="338.30" stroke="#555" stroke-width="1.00"/><line x1="290.50" y1="336.50" x2="290.50" y2="338.30" stroke="#555" stroke-width="1.00"/><line x1="319.50" y1="336.50" x2="319.50" y2="338.30" stroke="#555" stroke-width="1.00"/><line x1="349.50" y1="336.50" x2="349.50" y2="338.30" stroke="#555" stroke-width="1.00"/>
<text x="245.80" y="349.00" font-size="7.90" text-anchor="middle" fill="#333">2.0</text>
<text x="275.46" y="349.00" font-size="7.90" text-anchor="middle" fill="#333">2.2</text>
<text x="305.12" y="349.00" font-size="7.90" text-anchor="middle" fill="#333">2.4</text>
<text x="334.78" y="349.00" font-size="7.90" text-anchor="middle" fill="#333">2.6</text>
<text x="364.44" y="349.00" font-size="7.90" text-anchor="middle" fill="#333">2.8</text>
<text x="305.00" y="362.70" font-size="8.90" text-anchor="middle" fill="#333">Energy (eV)</text>
<text font-size="8.90" text-anchor="middle" fill="#333" transform="translate(210.6,267.5) rotate(-90)"><tspan dy="-0.00">Δ</tspan><tspan dy="-0.00" font-style="italic">T</tspan><tspan dy="-0.00">/</tspan><tspan dy="-0.00" font-style="italic">T</tspan><tspan dy="-0.00"> (10</tspan><tspan font-size="6.23" dy="-3.56">−3</tspan><tspan dy="3.56">)</tspan></text>
<line x1="385.20" y1="206.00" x2="400.10" y2="206.00" stroke="#a50026" stroke-width="1.00" stroke-opacity="0.56"/>
<text x="405.80" y="208.30" font-size="7.50" text-anchor="start" fill="#222">0.3 ps</text>
<line x1="385.20" y1="216.15" x2="400.10" y2="216.15" stroke="#e0503a" stroke-width="1.00" stroke-opacity="0.52"/>
<text x="405.80" y="218.45" font-size="7.50" text-anchor="start" fill="#222">1 ps</text>
<line x1="385.20" y1="226.30" x2="400.10" y2="226.30" stroke="#fda95e" stroke-width="1.00" stroke-opacity="0.52"/>
<text x="405.80" y="228.60" font-size="7.50" text-anchor="start" fill="#222">3 ps</text>
<line x1="385.20" y1="236.45" x2="400.10" y2="236.45" stroke="#fee58a" stroke-width="1.00" stroke-opacity="0.60"/>
<text x="405.80" y="238.75" font-size="7.50" text-anchor="start" fill="#222">10 ps</text>
<line x1="385.20" y1="246.60" x2="400.10" y2="246.60" stroke="#b9e0ee" stroke-width="1.00" stroke-opacity="0.60"/>
<text x="405.80" y="248.90" font-size="7.50" text-anchor="start" fill="#222">30 ps</text>
<line x1="385.20" y1="256.75" x2="400.10" y2="256.75" stroke="#5a94c8" stroke-width="1.00" stroke-opacity="0.56"/>
<text x="405.80" y="259.05" font-size="7.50" text-anchor="start" fill="#222">100 ps</text>
<line x1="385.20" y1="266.90" x2="400.10" y2="266.90" stroke="#313695" stroke-width="1.00" stroke-opacity="0.56"/>
<text x="405.80" y="269.20" font-size="7.50" text-anchor="start" fill="#222">1000 ps</text>
<line x1="470.50" y1="71.50" x2="622.90" y2="71.50" stroke="#555" stroke-width="1.00"/>
<clipPath id="cld"><rect x="470.5" y="12.0" width="152.4" height="140.4"/></clipPath>
<g clip-path="url(#cld)"><path d="M470.5,81.3 471.0,82.1 471.7,83.1 472.6,84.3 473.4,85.7 474.3,86.9 475.0,88.0 475.6,88.8 476.1,89.5 476.5,90.2 477.0,90.8 477.5,91.7 478.0,92.8 478.6,94.2 479.3,95.9 479.9,97.8 480.6,99.7 481.3,101.5 482.0,103.3 482.7,105.0 483.3,106.6 484.0,108.3 484.7,109.9 485.3,111.4 486.0,112.9 486.7,114.3 487.3,115.7 488.0,117.1 488.7,118.3 489.3,119.5 490.0,120.6 490.7,121.6 491.3,122.6 492.0,123.5 492.7,124.3 493.3,124.9 494.0,125.3 494.7,125.4 495.3,125.3 496.0,125.1 496.7,124.6 497.3,124.1 498.0,123.4 498.7,122.6 499.3,121.6 500.0,120.5 500.7,119.3 501.3,118.0 502.0,116.7 502.7,115.4 503.3,113.9 504.0,112.5 504.7,111.0 505.3,109.5 506.0,108.1 506.7,106.7 507.3,105.4 507.9,104.0 508.6,102.8 509.3,101.5 510.0,100.4 510.8,99.3 511.6,98.3 512.4,97.3 513.3,96.5 514.2,95.7 515.0,95.0 515.8,94.5 516.7,94.2 517.5,94.1 518.3,93.9 519.2,93.6 520.0,93.1 520.9,92.4 521.7,91.5 522.6,90.5 523.5,89.5 524.3,88.5 525.0,87.6 525.6,86.8 526.1,86.1 526.6,85.4 527.1,84.7 527.5,83.9 528.0,82.9 528.5,81.8 529.0,80.5 529.4,79.2 529.9,77.8 530.4,76.4 531.0,75.0 531.6,73.6 532.2,72.2 532.9,70.8 533.6,69.3 534.3,67.7 535.0,66.0 535.8,64.1 536.6,62.0 537.4,59.8 538.3,57.6 539.2,55.3 540.0,53.0 540.8,50.6 541.7,48.2 542.5,45.6 543.3,43.2 544.2,40.8 545.0,38.6 545.8,36.6 546.7,34.7 547.5,32.9 548.3,31.2 549.2,29.6 550.0,28.1 550.8,26.7 551.7,25.5 552.5,24.3 553.3,23.3 554.2,22.3 555.0,21.5 555.8,20.7 556.7,20.0 557.5,19.5 558.3,19.0 559.2,18.7 560.0,18.6 560.8,18.6 561.7,18.7 562.5,19.0 563.3,19.5 564.2,20.3 565.0,21.5 565.9,23.1 566.7,25.0 567.6,27.2 568.5,29.6 569.3,32.3 570.0,35.0 570.6,38.0 571.2,41.3 571.7,44.8 572.1,48.3 572.6,51.8 573.0,55.0 573.4,58.0 573.7,60.9 574.0,63.7 574.3,66.5 574.6,69.2 575.0,72.0 575.4,74.8 575.9,77.7 576.4,80.6 577.0,83.4 577.5,86.2 578.0,88.8 578.5,91.3 579.0,93.6 579.4,95.9 579.9,98.2 580.4,100.5 581.0,103.0 581.6,105.7 582.3,108.5 582.9,111.4 583.6,114.3 584.3,117.1 585.0,119.8 585.7,122.4 586.3,124.9 587.0,127.3 587.7,129.7 588.3,131.9 589.0,134.0 589.7,136.0 590.3,137.9 591.0,139.8 591.7,141.4 592.3,142.7 593.0,143.6 593.7,144.1 594.3,144.3 594.9,144.1 595.6,143.7 596.3,143.1 597.0,142.4 597.8,141.5 598.6,140.3 599.4,138.9 600.3,137.3 601.2,135.7 602.0,134.0 602.8,132.2 603.7,130.3 604.5,128.4 605.3,126.3 606.2,124.2 607.0,122.0 607.8,119.8 608.7,117.6 609.5,115.2 610.3,112.9 611.2,110.4 612.0,107.9 612.8,105.2 613.7,102.4 614.6,99.6 615.4,96.7 616.2,93.9 617.0,91.2 617.7,88.6 618.4,86.1 619.1,83.7 619.8,81.3 620.4,79.1 621.0,76.9 621.6,74.8 622.2,72.6 622.8,70.6 623.3,68.7 623.7,67.1 624.0,66.0" fill="none" stroke="#a50026" stroke-width="0.80" stroke-opacity="0.75" stroke-linejoin="round"/><path d="M470.0,66.5 471.1,65.6 472.6,64.2 474.4,62.7 476.3,61.0 478.2,59.4 480.0,57.9 481.7,56.6 483.3,55.2 485.0,53.9 486.7,52.7 488.3,51.4 490.0,50.2 491.7,49.0 493.4,47.8 495.2,46.6 496.9,45.5 498.5,44.4 500.0,43.5 501.3,42.7 502.5,41.9 503.6,41.3 504.7,40.7 505.8,40.1 507.0,39.7 508.3,39.3 509.5,39.0 510.8,38.8 512.1,38.6 513.5,38.5 515.0,38.5 516.6,38.5 518.2,38.6 519.9,38.8 521.6,39.0 523.3,39.3 525.0,39.6 526.7,40.0 528.5,40.4 530.3,40.9 532.0,41.4 533.6,41.8 535.0,42.1 536.1,42.3 537.0,42.4 537.8,42.4 538.5,42.4 539.2,42.3 540.0,42.1 540.8,41.9 541.7,41.5 542.5,41.2 543.3,40.7 544.2,40.2 545.0,39.6 545.8,38.9 546.7,38.1 547.5,37.3 548.3,36.4 549.2,35.6 550.0,34.8 550.8,34.1 551.7,33.5 552.5,32.8 553.3,32.2 554.2,31.6 555.0,31.0 555.8,30.4 556.7,29.7 557.5,29.1 558.3,28.5 559.2,27.8 560.0,27.2 560.8,26.6 561.7,25.9 562.5,25.2 563.3,24.6 564.2,24.0 565.0,23.4 565.8,22.9 566.7,22.5 567.5,22.0 568.3,21.7 569.2,21.3 570.0,21.0 570.8,20.7 571.7,20.3 572.5,20.0 573.3,19.8 574.2,19.6 575.0,19.6 575.8,19.6 576.5,19.7 577.2,19.9 578.0,20.2 578.9,20.7 580.0,21.5 581.4,22.7 583.0,24.2 584.7,25.9 586.5,27.7 588.3,29.4 590.0,31.0 591.7,32.4 593.3,33.8 595.0,35.1 596.7,36.3 598.3,37.5 600.0,38.7 601.7,39.8 603.5,40.9 605.3,41.9 607.0,42.9 608.6,43.7 610.0,44.5 611.1,45.1 611.9,45.6 612.6,45.9 613.2,46.3 614.0,46.8 615.0,47.4 616.4,48.3 618.0,49.4 619.8,50.6 621.5,51.8 623.0,52.8 624.0,53.5" fill="none" stroke="#d73027" stroke-width="0.80" stroke-opacity="0.70" stroke-linejoin="round"/><path d="M470.0,78.0 471.1,77.8 472.6,77.5 474.4,77.1 476.3,76.7 478.2,76.3 480.0,76.0 481.7,75.7 483.5,75.4 485.3,75.1 487.0,74.8 488.6,74.5 490.0,74.2 491.1,73.9 492.0,73.6 492.8,73.4 493.5,73.1 494.2,72.8 495.0,72.5 495.8,72.2 496.7,71.9 497.5,71.6 498.3,71.2 499.2,70.8 500.0,70.3 500.8,69.7 501.7,69.1 502.5,68.4 503.3,67.6 504.2,66.7 505.0,65.6 505.8,64.3 506.7,62.8 507.5,61.2 508.3,59.5 509.2,57.8 510.0,56.0 510.8,54.2 511.7,52.3 512.5,50.3 513.3,48.3 514.2,46.4 515.0,44.5 515.8,42.7 516.7,40.9 517.5,39.1 518.3,37.4 519.2,35.7 520.0,34.0 520.8,32.3 521.7,30.5 522.5,28.8 523.3,27.1 524.2,25.7 525.0,24.4 525.8,23.4 526.5,22.6 527.2,21.9 528.0,21.4 528.9,20.9 530.0,20.5 531.4,20.1 533.0,19.9 534.7,19.7 536.5,19.6 538.3,19.5 540.0,19.5 541.7,19.6 543.3,19.7 545.0,19.9 546.7,20.1 548.3,20.3 550.0,20.5 551.7,20.7 553.3,20.9 555.0,21.1 556.7,21.3 558.3,21.4 560.0,21.5 561.7,21.5 563.5,21.5 565.3,21.4 567.0,21.3 568.6,21.2 570.0,21.0 571.1,20.8 572.0,20.5 572.8,20.2 573.5,19.9 574.2,19.7 575.0,19.6 575.8,19.6 576.7,19.6 577.5,19.7 578.3,19.9 579.2,20.1 580.0,20.5 580.8,21.0 581.7,21.5 582.5,22.2 583.3,22.9 584.2,23.7 585.0,24.4 585.8,25.2 586.7,26.0 587.5,26.8 588.3,27.6 589.2,28.4 590.0,29.2 590.8,29.9 591.7,30.6 592.5,31.2 593.3,31.8 594.2,32.4 595.0,33.0 595.8,33.5 596.7,34.0 597.5,34.5 598.3,35.0 599.2,35.4 600.0,35.9 600.8,36.4 601.7,36.8 602.5,37.3 603.3,37.8 604.2,38.2 605.0,38.7 605.8,39.2 606.7,39.7 607.5,40.1 608.3,40.6 609.2,41.1 610.0,41.6 610.8,42.1 611.5,42.6 612.2,43.0 613.0,43.5 613.9,44.0 615.0,44.5 616.4,45.0 618.0,45.6 619.8,46.2 621.5,46.8 623.0,47.3 624.0,47.6" fill="none" stroke="#f46d43" stroke-width="0.80" stroke-opacity="0.70" stroke-linejoin="round"/><path d="M470.0,66.5 470.9,65.9 472.1,65.1 473.6,64.2 475.1,63.2 476.6,62.4 478.0,61.7 479.2,61.2 480.5,60.9 481.7,60.7 482.9,60.5 484.0,60.3 485.0,60.2 485.9,60.1 486.8,60.1 487.6,60.1 488.4,60.1 489.2,60.1 490.0,59.8 490.8,59.4 491.7,58.9 492.5,58.4 493.3,57.7 494.2,56.9 495.0,56.0 495.8,55.0 496.7,53.8 497.5,52.5 498.3,51.2 499.2,49.7 500.0,48.3 500.8,46.8 501.7,45.2 502.5,43.5 503.3,41.8 504.2,40.2 505.0,38.7 505.8,37.3 506.7,35.9 507.5,34.6 508.3,33.3 509.2,32.1 510.0,31.0 510.8,29.9 511.7,28.9 512.5,28.0 513.3,27.1 514.2,26.2 515.0,25.3 515.8,24.4 516.7,23.5 517.6,22.6 518.4,21.8 519.2,21.1 520.0,20.5 520.6,20.0 521.2,19.6 521.7,19.2 522.2,19.0 522.9,19.0 523.6,19.2 524.5,19.7 525.6,20.4 526.7,21.3 527.9,22.3 529.0,23.3 530.0,24.3 530.9,25.2 531.8,26.2 532.6,27.1 533.4,28.1 534.2,29.0 535.0,30.0 535.8,31.0 536.7,32.0 537.5,33.0 538.3,33.9 539.2,34.9 540.0,35.8 540.8,36.7 541.7,37.5 542.5,38.3 543.3,39.1 544.2,39.9 545.0,40.6 545.8,41.3 546.7,42.0 547.5,42.7 548.3,43.3 549.2,43.9 550.0,44.4 550.8,44.8 551.7,45.2 552.5,45.5 553.3,45.8 554.2,46.0 555.0,46.3 555.8,46.5 556.5,46.8 557.2,47.0 558.0,47.2 558.9,47.4 560.0,47.6 561.4,47.9 563.0,48.1 564.7,48.4 566.5,48.7 568.3,49.0 570.0,49.2 571.6,49.4 573.1,49.5 574.7,49.6 576.3,49.7 578.0,49.9 580.0,50.2 582.2,50.6 584.6,51.1 587.2,51.6 589.8,52.1 592.4,52.7 595.0,53.1 597.5,53.5 600.0,53.8 602.6,54.1 605.1,54.4 607.6,54.7 610.0,55.0 612.6,55.4 615.3,55.7 617.9,56.1 620.4,56.5 622.5,56.8 624.0,57.0" fill="none" stroke="#fdae61" stroke-width="0.80" stroke-opacity="0.70" stroke-linejoin="round"/><path d="M470.0,67.0 471.7,66.6 474.1,66.1 476.9,65.5 479.8,64.8 482.6,64.2 485.0,63.6 487.0,63.1 488.9,62.7 490.6,62.3 492.2,61.9 493.7,61.4 495.0,60.8 496.1,60.0 497.0,59.2 497.8,58.3 498.5,57.3 499.2,56.2 500.0,55.0 500.8,53.7 501.7,52.4 502.5,50.9 503.3,49.4 504.2,47.9 505.0,46.4 505.8,44.8 506.7,43.2 507.5,41.6 508.3,40.0 509.2,38.4 510.0,36.8 510.8,35.3 511.7,33.8 512.5,32.4 513.3,30.9 514.2,29.5 515.0,28.2 515.9,26.8 516.7,25.5 517.6,24.1 518.5,22.9 519.3,21.8 520.0,21.0 520.6,20.4 521.1,20.0 521.6,19.7 522.1,19.7 522.5,19.7 523.0,19.8 523.5,20.0 524.0,20.4 524.4,20.8 524.9,21.4 525.4,22.1 526.0,23.0 526.6,24.0 527.2,25.3 527.9,26.6 528.6,28.0 529.3,29.5 530.0,31.0 530.8,32.5 531.6,34.2 532.4,35.8 533.3,37.5 534.2,39.1 535.0,40.6 535.8,42.0 536.7,43.4 537.5,44.7 538.3,45.9 539.2,47.1 540.0,48.2 540.8,49.2 541.7,50.0 542.5,50.8 543.3,51.6 544.2,52.3 545.0,53.0 545.8,53.7 546.7,54.4 547.5,55.1 548.3,55.7 549.2,56.3 550.0,56.8 550.8,57.2 551.7,57.6 552.5,58.0 553.3,58.3 554.2,58.5 555.0,58.7 555.8,58.8 556.7,58.9 557.5,58.9 558.3,58.8 559.2,58.8 560.0,58.7 560.8,58.6 561.5,58.5 562.2,58.3 563.0,58.1 563.9,57.9 565.0,57.7 566.4,57.4 568.0,57.1 569.7,56.7 571.5,56.4 573.3,56.1 575.0,56.0 576.6,56.0 578.1,56.1 579.7,56.2 581.3,56.4 583.0,56.7 585.0,57.0 587.1,57.4 589.3,57.8 591.6,58.3 594.1,58.9 596.9,59.4 600.0,59.8 603.8,60.2 608.2,60.6 612.9,60.9 617.4,61.2 621.3,61.5 624.0,61.7" fill="none" stroke="#fee090" stroke-width="0.80" stroke-opacity="0.80" stroke-linejoin="round"/><path d="M470.0,68.0 472.3,67.4 475.6,66.5 479.4,65.4 483.3,64.3 487.0,63.1 490.0,62.0 492.3,60.9 494.3,59.9 495.9,58.8 497.4,57.6 498.7,56.4 500.0,55.0 501.1,53.5 502.0,52.0 502.8,50.4 503.5,48.7 504.2,46.9 505.0,45.0 505.8,43.0 506.7,40.8 507.5,38.5 508.3,36.2 509.2,34.0 510.0,32.0 510.9,30.1 511.7,28.2 512.6,26.3 513.5,24.7 514.3,23.2 515.0,22.0 515.6,21.1 516.1,20.4 516.6,20.0 517.0,19.7 517.5,19.5 518.0,19.5 518.6,19.6 519.3,19.8 520.0,20.2 520.7,20.6 521.4,21.3 522.0,22.0 522.5,22.9 523.0,23.8 523.4,24.9 523.9,26.2 524.4,27.5 525.0,29.0 525.7,30.7 526.5,32.6 527.4,34.7 528.3,36.7 529.1,38.7 530.0,40.6 530.8,42.3 531.7,44.0 532.5,45.5 533.3,47.1 534.2,48.6 535.0,50.0 535.8,51.4 536.7,52.8 537.5,54.1 538.3,55.3 539.2,56.5 540.0,57.7 540.8,58.8 541.7,59.9 542.5,60.9 543.3,61.9 544.2,62.7 545.0,63.5 545.8,64.2 546.5,64.7 547.2,65.2 548.0,65.6 548.9,66.0 550.0,66.3 551.4,66.6 553.0,66.8 554.7,67.0 556.5,67.2 558.3,67.3 560.0,67.3 561.6,67.2 563.0,67.1 564.4,66.8 565.9,66.6 567.8,66.4 570.0,66.3 572.6,66.3 575.4,66.4 578.5,66.5 581.9,66.5 585.7,66.6 590.0,66.5 595.2,66.3 601.6,66.0 608.2,65.6 614.7,65.2 620.1,64.8 624.0,64.6" fill="none" stroke="#fff3a8" stroke-width="0.80" stroke-opacity="0.80" stroke-linejoin="round"/><path d="M470.0,70.0 473.4,69.9 478.3,69.9 484.1,69.8 490.0,69.6 495.5,69.4 500.0,69.0 503.4,68.6 506.3,68.1 508.8,67.6 510.9,66.9 513.0,66.0 515.0,65.0 517.0,63.8 518.7,62.4 520.3,60.8 521.9,59.1 523.4,57.1 525.0,55.0 526.7,52.5 528.4,49.7 530.1,46.8 531.8,43.7 533.4,40.7 535.0,38.0 536.5,35.4 537.9,32.8 539.3,30.2 540.6,27.9 541.9,25.7 543.0,24.0 544.0,22.6 544.9,21.5 545.6,20.7 546.4,20.1 547.1,19.7 548.0,19.5 548.9,19.5 549.9,19.6 550.8,20.0 551.8,20.7 552.9,21.7 554.0,23.0 555.2,24.8 556.3,27.1 557.6,29.7 558.9,32.4 560.4,35.3 562.0,38.0 563.9,40.8 565.9,43.9 568.1,46.9 570.3,49.9 572.7,52.7 575.0,55.0 577.4,56.9 579.9,58.6 582.4,59.9 584.9,61.1 587.5,62.1 590.0,63.0 592.5,63.7 594.9,64.3 597.2,64.7 599.7,64.9 602.3,65.0 605.0,65.0 608.2,64.8 611.7,64.3 615.4,63.6 618.9,63.0 621.9,62.4 624.0,62.0" fill="none" stroke="#e0f3f8" stroke-width="0.80" stroke-opacity="0.80" stroke-linejoin="round"/><path d="M470.0,73.6 471.6,73.8 473.9,74.0 476.6,74.3 479.4,74.6 482.3,75.0 485.0,75.5 487.6,76.0 490.2,76.6 492.8,77.3 495.4,78.0 497.8,78.7 500.0,79.4 502.0,80.1 503.7,80.9 505.3,81.7 506.9,82.5 508.4,83.3 510.0,84.2 511.7,85.1 513.4,86.1 515.1,87.2 516.8,88.2 518.4,89.1 520.0,90.0 521.5,90.8 522.9,91.7 524.3,92.5 525.6,93.2 526.9,93.6 528.0,93.6 529.0,93.3 529.9,92.7 530.8,91.8 531.5,90.8 532.3,89.5 533.0,88.0 533.7,86.3 534.3,84.4 534.8,82.3 535.4,80.0 536.1,77.5 537.0,75.0 538.1,72.2 539.5,69.1 540.9,65.9 542.4,62.7 543.8,59.7 545.0,57.0 546.0,54.8 546.9,52.8 547.7,51.1 548.4,49.4 549.2,47.8 550.0,46.0 550.8,44.1 551.7,42.2 552.5,40.3 553.3,38.4 554.2,36.7 555.0,35.0 555.8,33.5 556.7,32.0 557.5,30.7 558.3,29.4 559.2,28.2 560.0,27.0 560.8,25.9 561.7,24.9 562.5,23.9 563.3,23.0 564.2,22.2 565.0,21.5 565.8,20.9 566.7,20.4 567.5,20.1 568.3,19.8 569.2,19.6 570.0,19.5 570.8,19.4 571.5,19.4 572.2,19.4 573.0,19.7 573.9,20.2 575.0,21.0 576.4,22.2 578.0,23.8 579.7,25.6 581.5,27.6 583.3,29.8 585.0,32.0 586.7,34.4 588.3,37.1 590.0,39.9 591.7,42.8 593.3,45.5 595.0,48.0 596.7,50.3 598.3,52.5 600.0,54.6 601.7,56.6 603.3,58.4 605.0,60.0 606.7,61.4 608.4,62.6 610.1,63.6 611.7,64.5 613.4,65.3 615.0,66.0 616.7,66.6 618.4,67.0 620.1,67.4 621.7,67.6 623.0,67.8 624.0,68.0" fill="none" stroke="#abd9e9" stroke-width="0.80" stroke-opacity="0.80" stroke-linejoin="round"/><path d="M470.0,85.0 471.1,85.4 472.6,86.1 474.4,86.8 476.3,87.6 478.2,88.4 480.0,89.0 481.7,89.5 483.3,90.0 485.0,90.5 486.7,90.9 488.3,91.3 490.0,91.8 491.7,92.3 493.3,92.8 495.0,93.3 496.7,93.8 498.3,94.3 500.0,94.7 501.7,95.1 503.5,95.4 505.3,95.7 507.0,96.0 508.6,96.3 510.0,96.6 511.1,96.8 511.9,96.9 512.5,97.0 513.1,97.2 513.9,97.6 515.0,98.3 516.4,99.3 518.1,100.7 520.0,102.2 521.9,103.8 523.6,105.4 525.0,106.7 526.1,107.8 527.0,108.9 527.8,109.8 528.5,110.8 529.2,111.7 530.0,112.6 530.8,113.6 531.7,114.6 532.5,115.5 533.3,116.4 534.2,117.2 535.0,117.9 535.8,118.5 536.7,119.0 537.5,119.3 538.3,119.6 539.2,119.6 540.0,119.3 540.9,118.7 541.7,117.9 542.6,116.8 543.5,115.5 544.3,114.1 545.0,112.6 545.6,110.9 546.1,109.0 546.6,107.0 547.1,104.9 547.5,102.7 548.0,100.7 548.5,98.7 549.0,96.7 549.5,94.8 550.0,92.8 550.5,90.8 551.0,88.8 551.5,86.8 552.0,84.7 552.5,82.7 553.0,80.7 553.5,78.7 554.0,76.9 554.5,75.2 555.0,73.6 555.5,72.0 556.0,70.5 556.5,68.9 557.0,67.4 557.5,65.9 557.9,64.5 558.4,63.1 558.9,61.6 559.4,59.9 560.0,58.0 560.7,55.7 561.5,53.1 562.4,50.3 563.3,47.4 564.1,44.6 565.0,42.0 565.8,39.5 566.7,36.9 567.5,34.4 568.3,32.1 569.2,29.9 570.0,28.0 570.9,26.4 571.7,25.0 572.6,23.7 573.5,22.7 574.3,21.8 575.0,21.0 575.6,20.3 576.1,19.7 576.6,19.3 577.1,19.0 577.7,19.0 578.4,19.2 579.3,19.7 580.4,20.6 581.6,21.7 582.8,22.9 584.0,24.1 585.0,25.3 585.9,26.5 586.8,27.7 587.6,29.0 588.4,30.3 589.2,31.6 590.0,33.0 590.8,34.4 591.7,35.8 592.5,37.3 593.3,38.8 594.2,40.2 595.0,41.6 595.8,42.9 596.7,44.3 597.5,45.6 598.3,46.8 599.2,48.1 600.0,49.3 600.8,50.5 601.7,51.7 602.5,52.8 603.3,53.9 604.2,55.0 605.0,56.0 605.8,56.9 606.7,57.8 607.5,58.6 608.3,59.4 609.2,60.1 610.0,60.8 610.8,61.4 611.5,61.9 612.2,62.4 613.0,62.8 613.9,63.2 615.0,63.6 616.4,64.0 618.0,64.4 619.8,64.8 621.5,65.1 623.0,65.4 624.0,65.6" fill="none" stroke="#74add1" stroke-width="0.80" stroke-opacity="0.75" stroke-linejoin="round"/><path d="M470.0,87.0 472.2,87.8 475.4,88.9 479.1,90.2 483.0,91.6 486.7,92.8 490.0,93.7 492.8,94.3 495.6,94.7 498.1,95.0 500.6,95.2 502.8,95.4 505.0,95.7 506.9,96.1 508.5,96.5 510.0,96.9 511.5,97.3 513.1,97.8 515.0,98.3 517.2,98.8 519.6,99.4 522.2,100.0 524.8,100.6 527.4,101.2 530.0,101.9 532.6,102.7 535.2,103.5 537.8,104.4 540.4,105.2 542.8,106.0 545.0,106.7 547.0,107.2 548.9,107.7 550.6,108.0 552.2,108.4 553.7,108.7 555.0,109.0 556.1,109.3 557.0,109.7 557.8,110.0 558.5,110.3 559.2,110.6 560.0,110.7 560.8,110.7 561.7,110.7 562.5,110.6 563.3,110.4 564.2,110.2 565.0,109.8 565.8,109.3 566.7,108.7 567.5,108.0 568.3,107.3 569.2,106.4 570.0,105.5 570.8,104.5 571.7,103.4 572.5,102.2 573.3,101.0 574.2,99.7 575.0,98.3 575.8,96.8 576.7,95.3 577.5,93.7 578.3,92.1 579.2,90.4 580.0,88.8 580.9,87.2 581.7,85.6 582.6,84.0 583.5,82.5 584.3,80.9 585.0,79.3 585.6,77.7 586.2,76.1 586.7,74.6 587.1,73.0 587.6,71.4 588.0,69.8 588.4,68.3 588.6,66.9 588.9,65.6 589.1,64.0 589.5,62.2 590.0,60.0 590.7,57.2 591.4,53.8 592.3,50.1 593.2,46.5 594.1,43.0 595.0,40.0 595.8,37.5 596.7,35.2 597.5,33.2 598.3,31.3 599.2,29.6 600.0,28.0 600.9,26.5 601.7,25.1 602.6,23.9 603.4,22.8 604.3,21.8 605.0,21.0 605.7,20.4 606.3,19.9 606.8,19.6 607.4,19.4 607.9,19.3 608.5,19.3 609.1,19.3 609.6,19.4 610.2,19.5 610.8,19.8 611.4,20.3 612.0,21.0 612.6,21.9 613.3,23.1 614.0,24.4 614.7,25.8 615.4,27.4 616.0,29.0 616.6,30.8 617.1,32.7 617.6,34.8 618.1,36.9 618.6,39.0 619.0,41.0 619.4,42.9 619.7,44.8 620.0,46.7 620.3,48.6 620.6,50.7 621.0,53.0 621.5,55.7 622.0,58.9 622.6,62.2 623.2,65.4 623.7,68.1 624.0,70.0" fill="none" stroke="#4575b4" stroke-width="0.80" stroke-opacity="0.75" stroke-linejoin="round"/><path d="M470.0,80.0 472.7,80.1 476.5,80.1 480.9,80.2 485.7,80.3 490.5,80.4 495.0,80.3 499.3,80.2 503.9,79.9 508.4,79.7 512.8,79.4 516.7,79.1 520.0,78.8 522.5,78.5 524.3,78.2 525.6,77.8 526.9,77.5 528.2,77.2 530.0,76.9 532.3,76.7 534.8,76.4 537.5,76.3 540.2,76.1 542.7,75.9 545.0,75.7 547.0,75.5 548.8,75.3 550.5,75.0 552.1,74.8 553.6,74.6 555.0,74.5 556.4,74.4 557.7,74.4 558.9,74.4 560.1,74.4 561.1,74.4 562.0,74.5 562.7,74.6 563.2,74.7 563.6,74.9 564.0,75.1 564.4,75.3 565.0,75.7 565.7,76.2 566.5,76.7 567.4,77.4 568.3,78.0 569.1,78.7 570.0,79.3 570.8,79.9 571.7,80.5 572.5,81.0 573.3,81.6 574.2,82.2 575.0,82.9 575.9,83.7 576.8,84.5 577.7,85.4 578.6,86.3 579.3,87.0 580.0,87.6 580.5,88.1 580.9,88.5 581.1,88.8 581.4,89.0 581.6,89.0 582.0,88.8 582.4,88.4 582.9,87.8 583.4,87.1 584.0,86.2 584.5,85.1 585.0,84.0 585.5,82.7 586.0,81.1 586.6,79.5 587.1,77.8 587.6,76.1 588.0,74.5 588.4,73.0 588.7,71.6 589.1,70.2 589.4,68.8 589.7,67.4 590.0,66.0 590.3,64.8 590.6,63.7 590.9,62.6 591.2,61.4 591.6,59.9 592.0,57.9 592.5,55.3 593.1,52.1 593.8,48.7 594.5,45.2 595.3,41.8 596.0,39.0 596.8,36.6 597.6,34.5 598.4,32.5 599.3,30.7 600.2,29.1 601.0,27.5 601.8,26.0 602.7,24.6 603.6,23.4 604.4,22.2 605.2,21.3 606.0,20.5 606.7,19.9 607.4,19.5 608.1,19.3 608.7,19.2 609.3,19.1 610.0,19.2 610.7,19.3 611.3,19.4 612.0,19.7 612.7,20.1 613.3,20.7 614.0,21.5 614.7,22.6 615.4,24.0 616.1,25.6 616.7,27.3 617.4,29.1 618.0,31.0 618.6,33.0 619.1,35.1 619.6,37.2 620.0,39.6 620.5,42.0 621.0,44.5 621.5,47.4 622.1,50.7 622.7,54.1 623.2,57.3 623.7,60.0 624.0,62.0" fill="none" stroke="#313695" stroke-width="0.80" stroke-opacity="0.75" stroke-linejoin="round"/></g>
<rect x="470.50" y="12.50" width="152.00" height="140.00" fill="none" stroke="#666" stroke-width="1.00"/>
<line x1="467.50" y1="123.50" x2="470.50" y2="123.50" stroke="#555" stroke-width="1.00"/><line x1="467.50" y1="71.50" x2="470.50" y2="71.50" stroke="#555" stroke-width="1.00"/><line x1="467.50" y1="19.50" x2="470.50" y2="19.50" stroke="#555" stroke-width="1.00"/>
<line x1="468.70" y1="149.50" x2="470.50" y2="149.50" stroke="#555" stroke-width="1.00"/><line x1="468.70" y1="97.50" x2="470.50" y2="97.50" stroke="#555" stroke-width="1.00"/><line x1="468.70" y1="45.50" x2="470.50" y2="45.50" stroke="#555" stroke-width="1.00"/>
<text x="466.80" y="22.20" font-size="7.90" text-anchor="end" fill="#333">1</text>
<text x="466.80" y="74.20" font-size="7.90" text-anchor="end" fill="#333">0</text>
<text x="466.80" y="126.20" font-size="7.90" text-anchor="end" fill="#333">−1</text>
<line x1="485.50" y1="152.50" x2="485.50" y2="155.50" stroke="#555" stroke-width="1.00"/><line x1="516.50" y1="152.50" x2="516.50" y2="155.50" stroke="#555" stroke-width="1.00"/><line x1="546.50" y1="152.50" x2="546.50" y2="155.50" stroke="#555" stroke-width="1.00"/><line x1="577.50" y1="152.50" x2="577.50" y2="155.50" stroke="#555" stroke-width="1.00"/><line x1="607.50" y1="152.50" x2="607.50" y2="155.50" stroke="#555" stroke-width="1.00"/>
<line x1="470.50" y1="152.50" x2="470.50" y2="154.30" stroke="#555" stroke-width="1.00"/><line x1="500.50" y1="152.50" x2="500.50" y2="154.30" stroke="#555" stroke-width="1.00"/><line x1="531.50" y1="152.50" x2="531.50" y2="154.30" stroke="#555" stroke-width="1.00"/><line x1="561.50" y1="152.50" x2="561.50" y2="154.30" stroke="#555" stroke-width="1.00"/><line x1="592.50" y1="152.50" x2="592.50" y2="154.30" stroke="#555" stroke-width="1.00"/><line x1="623.50" y1="152.50" x2="623.50" y2="154.30" stroke="#555" stroke-width="1.00"/>
<text x="485.40" y="165.50" font-size="7.90" text-anchor="middle" fill="#333">2.0</text>
<text x="516.00" y="165.50" font-size="7.90" text-anchor="middle" fill="#333">2.2</text>
<text x="546.60" y="165.50" font-size="7.90" text-anchor="middle" fill="#333">2.4</text>
<text x="577.20" y="165.50" font-size="7.90" text-anchor="middle" fill="#333">2.6</text>
<text x="607.80" y="165.50" font-size="7.90" text-anchor="middle" fill="#333">2.8</text>
<text x="546.80" y="179.40" font-size="8.90" text-anchor="middle" fill="#333">Energy (eV)</text>
<text font-size="8.90" text-anchor="middle" fill="#333" transform="translate(449.6,82.3) rotate(-90)"><tspan dy="-0.00">Normalized  </tspan><tspan dy="-0.00">Δ</tspan><tspan dy="-0.00" font-style="italic">T</tspan><tspan dy="-0.00">/</tspan><tspan dy="-0.00" font-style="italic">T</tspan></text>
<text x="475.70" y="146.90" font-size="7.70" text-anchor="start" fill="#222">1-10 ps</text>
<line x1="629.30" y1="24.90" x2="644.00" y2="24.90" stroke="#a50026" stroke-width="1.20" stroke-opacity="0.38"/>
<text x="650.00" y="27.40" font-size="7.50" text-anchor="start" fill="#222"><tspan dy="-0.00">Cs</tspan><tspan font-size="5.25" dy="1.50">3</tspan><tspan dy="-1.50">Sb</tspan><tspan font-size="5.25" dy="1.50">2</tspan><tspan dy="-1.50">I</tspan><tspan font-size="5.25" dy="1.50">9</tspan></text>
<line x1="629.30" y1="35.35" x2="644.00" y2="35.35" stroke="#d73027" stroke-width="1.20" stroke-opacity="0.70"/>
<text x="650.00" y="37.85" font-size="7.50" text-anchor="start" fill="#222"><tspan dy="-0.00">10</tspan></text>
<line x1="629.30" y1="45.80" x2="644.00" y2="45.80" stroke="#f46d43" stroke-width="1.20" stroke-opacity="0.35"/>
<text x="650.00" y="48.30" font-size="7.50" text-anchor="start" fill="#222"><tspan dy="-0.00">20</tspan></text>
<line x1="629.30" y1="56.25" x2="644.00" y2="56.25" stroke="#fdae61" stroke-width="1.20" stroke-opacity="0.50"/>
<text x="650.00" y="58.75" font-size="7.50" text-anchor="start" fill="#222"><tspan dy="-0.00">30</tspan></text>
<line x1="629.30" y1="66.70" x2="644.00" y2="66.70" stroke="#fee090" stroke-width="1.20" stroke-opacity="0.50"/>
<text x="650.00" y="69.20" font-size="7.50" text-anchor="start" fill="#222"><tspan dy="-0.00">40</tspan></text>
<line x1="629.30" y1="77.15" x2="644.00" y2="77.15" stroke="#fff3a8" stroke-width="1.20" stroke-opacity="0.45"/>
<text x="650.00" y="79.65" font-size="7.50" text-anchor="start" fill="#222"><tspan dy="-0.00">50</tspan></text>
<line x1="629.30" y1="87.60" x2="644.00" y2="87.60" stroke="#e0f3f8" stroke-width="1.20" stroke-opacity="0.50"/>
<text x="650.00" y="90.10" font-size="7.50" text-anchor="start" fill="#222"><tspan dy="-0.00">60</tspan></text>
<line x1="629.30" y1="98.05" x2="644.00" y2="98.05" stroke="#abd9e9" stroke-width="1.20" stroke-opacity="0.55"/>
<text x="650.00" y="100.55" font-size="7.50" text-anchor="start" fill="#222"><tspan dy="-0.00">70</tspan></text>
<line x1="629.30" y1="108.50" x2="644.00" y2="108.50" stroke="#74add1" stroke-width="1.20" stroke-opacity="0.55"/>
<text x="650.00" y="111.00" font-size="7.50" text-anchor="start" fill="#222"><tspan dy="-0.00">80</tspan></text>
<line x1="629.30" y1="118.95" x2="644.00" y2="118.95" stroke="#4575b4" stroke-width="1.20" stroke-opacity="0.38"/>
<text x="650.00" y="121.45" font-size="7.50" text-anchor="start" fill="#222"><tspan dy="-0.00">90</tspan></text>
<line x1="629.30" y1="129.40" x2="644.00" y2="129.40" stroke="#313695" stroke-width="1.20" stroke-opacity="0.42"/>
<text x="650.00" y="131.90" font-size="7.50" text-anchor="start" fill="#222"><tspan dy="-0.00">Cs</tspan><tspan font-size="5.25" dy="1.50">3</tspan><tspan dy="-1.50">Bi</tspan><tspan font-size="5.25" dy="1.50">2</tspan><tspan dy="-1.50">Br</tspan><tspan font-size="5.25" dy="1.50">9</tspan></text>
<rect x="493.60" y="192.40" width="12.70" height="12.67" fill="#fcb8c0" shape-rendering="crispEdges"/><rect x="506.00" y="192.40" width="12.70" height="12.67" fill="#fcbcc0" shape-rendering="crispEdges"/><rect x="518.40" y="192.40" width="12.70" height="12.67" fill="#fcc5c0" shape-rendering="crispEdges"/><rect x="530.80" y="192.40" width="12.70" height="12.67" fill="#fbb5c0" shape-rendering="crispEdges"/><rect x="543.20" y="192.40" width="12.70" height="12.67" fill="#fbbcc0" shape-rendering="crispEdges"/><rect x="555.60" y="192.40" width="12.70" height="12.67" fill="#fcc0c0" shape-rendering="crispEdges"/><rect x="568.00" y="192.40" width="12.70" height="12.67" fill="#fdd0cc" shape-rendering="crispEdges"/><rect x="580.40" y="192.40" width="12.70" height="12.67" fill="#fdd8d5" shape-rendering="crispEdges"/><rect x="592.80" y="192.40" width="12.70" height="12.67" fill="#f060a0" shape-rendering="crispEdges"/><rect x="605.20" y="192.40" width="12.70" height="12.67" fill="#f566a5" shape-rendering="crispEdges"/><rect x="617.60" y="192.40" width="12.70" height="12.67" fill="#f77aab" shape-rendering="crispEdges"/><rect x="493.60" y="204.77" width="12.70" height="12.67" fill="#fcb8c0" shape-rendering="crispEdges"/><rect x="506.00" y="204.77" width="12.70" height="12.67" fill="#fbaab8" shape-rendering="crispEdges"/><rect x="518.40" y="204.77" width="12.70" height="12.67" fill="#fcc8c5" shape-rendering="crispEdges"/><rect x="530.80" y="204.77" width="12.70" height="12.67" fill="#fdd5d3" shape-rendering="crispEdges"/><rect x="543.20" y="204.77" width="12.70" height="12.67" fill="#fccac8" shape-rendering="crispEdges"/><rect x="555.60" y="204.77" width="12.70" height="12.67" fill="#f98ab0" shape-rendering="crispEdges"/><rect x="568.00" y="204.77" width="12.70" height="12.67" fill="#f570a8" shape-rendering="crispEdges"/><rect x="580.40" y="204.77" width="12.70" height="12.67" fill="#e04ca0" shape-rendering="crispEdges"/><rect x="592.80" y="204.77" width="12.70" height="12.67" fill="#d8389a" shape-rendering="crispEdges"/><rect x="605.20" y="204.77" width="12.70" height="12.67" fill="#a0007e" shape-rendering="crispEdges"/><rect x="617.60" y="204.77" width="12.70" height="12.67" fill="#a0007e" shape-rendering="crispEdges"/><rect x="493.60" y="217.13" width="12.70" height="12.67" fill="#f770a8" shape-rendering="crispEdges"/><rect x="506.00" y="217.13" width="12.70" height="12.67" fill="#fdddd8" shape-rendering="crispEdges"/><rect x="518.40" y="217.13" width="12.70" height="12.67" fill="#fcbcc0" shape-rendering="crispEdges"/><rect x="530.80" y="217.13" width="12.70" height="12.67" fill="#fcc5c5" shape-rendering="crispEdges"/><rect x="543.20" y="217.13" width="12.70" height="12.67" fill="#fcc5c5" shape-rendering="crispEdges"/><rect x="555.60" y="217.13" width="12.70" height="12.67" fill="#fdd0cc" shape-rendering="crispEdges"/><rect x="568.00" y="217.13" width="12.70" height="12.67" fill="#fab0bc" shape-rendering="crispEdges"/><rect x="580.40" y="217.13" width="12.70" height="12.67" fill="#f77aab" shape-rendering="crispEdges"/><rect x="592.80" y="217.13" width="12.70" height="12.67" fill="#e0409a" shape-rendering="crispEdges"/><rect x="605.20" y="217.13" width="12.70" height="12.67" fill="#a0007e" shape-rendering="crispEdges"/><rect x="617.60" y="217.13" width="12.70" height="12.67" fill="#a0007e" shape-rendering="crispEdges"/><rect x="493.60" y="229.50" width="12.70" height="12.67" fill="#f060a8" shape-rendering="crispEdges"/><rect x="506.00" y="229.50" width="12.70" height="12.67" fill="#f260a5" shape-rendering="crispEdges"/><rect x="518.40" y="229.50" width="12.70" height="12.67" fill="#f77fae" shape-rendering="crispEdges"/><rect x="530.80" y="229.50" width="12.70" height="12.67" fill="#faaabc" shape-rendering="crispEdges"/><rect x="543.20" y="229.50" width="12.70" height="12.67" fill="#fbb5c0" shape-rendering="crispEdges"/><rect x="555.60" y="229.50" width="12.70" height="12.67" fill="#fcc8c5" shape-rendering="crispEdges"/><rect x="568.00" y="229.50" width="12.70" height="12.67" fill="#fab0bc" shape-rendering="crispEdges"/><rect x="580.40" y="229.50" width="12.70" height="12.67" fill="#fab5c0" shape-rendering="crispEdges"/><rect x="592.80" y="229.50" width="12.70" height="12.67" fill="#fab5c0" shape-rendering="crispEdges"/><rect x="605.20" y="229.50" width="12.70" height="12.67" fill="#fab5c0" shape-rendering="crispEdges"/><rect x="617.60" y="229.50" width="12.70" height="12.67" fill="#fab0bc" shape-rendering="crispEdges"/><rect x="493.60" y="241.87" width="12.70" height="12.67" fill="#f060a8" shape-rendering="crispEdges"/><rect x="506.00" y="241.87" width="12.70" height="12.67" fill="#f260a5" shape-rendering="crispEdges"/><rect x="518.40" y="241.87" width="12.70" height="12.67" fill="#f77fae" shape-rendering="crispEdges"/><rect x="530.80" y="241.87" width="12.70" height="12.67" fill="#f99ab5" shape-rendering="crispEdges"/><rect x="543.20" y="241.87" width="12.70" height="12.67" fill="#faaabc" shape-rendering="crispEdges"/><rect x="555.60" y="241.87" width="12.70" height="12.67" fill="#fab0bc" shape-rendering="crispEdges"/><rect x="568.00" y="241.87" width="12.70" height="12.67" fill="#fcc5c0" shape-rendering="crispEdges"/><rect x="580.40" y="241.87" width="12.70" height="12.67" fill="#f880b0" shape-rendering="crispEdges"/><rect x="592.80" y="241.87" width="12.70" height="12.67" fill="#f880b0" shape-rendering="crispEdges"/><rect x="605.20" y="241.87" width="12.70" height="12.67" fill="#f570a8" shape-rendering="crispEdges"/><rect x="617.60" y="241.87" width="12.70" height="12.67" fill="#f77aab" shape-rendering="crispEdges"/><rect x="493.60" y="254.23" width="12.70" height="12.67" fill="#f068a8" shape-rendering="crispEdges"/><rect x="506.00" y="254.23" width="12.70" height="12.67" fill="#c0108a" shape-rendering="crispEdges"/><rect x="518.40" y="254.23" width="12.70" height="12.67" fill="#c82090" shape-rendering="crispEdges"/><rect x="530.80" y="254.23" width="12.70" height="12.67" fill="#f060a8" shape-rendering="crispEdges"/><rect x="543.20" y="254.23" width="12.70" height="12.67" fill="#f060a8" shape-rendering="crispEdges"/><rect x="555.60" y="254.23" width="12.70" height="12.67" fill="#e8449e" shape-rendering="crispEdges"/><rect x="568.00" y="254.23" width="12.70" height="12.67" fill="#e03c9a" shape-rendering="crispEdges"/><rect x="580.40" y="254.23" width="12.70" height="12.67" fill="#d8389a" shape-rendering="crispEdges"/><rect x="592.80" y="254.23" width="12.70" height="12.67" fill="#a0007e" shape-rendering="crispEdges"/><rect x="605.20" y="254.23" width="12.70" height="12.67" fill="#a0007e" shape-rendering="crispEdges"/><rect x="617.60" y="254.23" width="12.70" height="12.67" fill="#a0007e" shape-rendering="crispEdges"/><rect x="493.50" y="192.50" width="137.00" height="74.00" fill="none" stroke="#777" stroke-width="1.00"/><text x="490.95" y="201.30" font-size="7.55" text-anchor="end" fill="#222">SbI</text><path d="M471.52 198.68H477.72" stroke="#333" stroke-width="0.60" fill="none"/><path d="M478.92 198.68L476.92 197.58L476.92 199.78z" fill="#333"/><text x="469.52" y="201.30" font-size="7.55" text-anchor="end" fill="#222">BiI</text><text x="490.95" y="213.67" font-size="7.55" text-anchor="end" fill="#222">BiBr</text><path d="M468.59 211.05H474.79" stroke="#333" stroke-width="0.60" fill="none"/><path d="M475.99 211.05L473.99 209.95L473.99 212.15z" fill="#333"/><text x="466.59" y="213.67" font-size="7.55" text-anchor="end" fill="#222">BiI</text><text x="490.95" y="226.03" font-size="7.55" text-anchor="end" fill="#222">BiBr</text><path d="M468.59 223.42H474.79" stroke="#333" stroke-width="0.60" fill="none"/><path d="M475.99 223.42L473.99 222.32L473.99 224.52z" fill="#333"/><text x="466.59" y="226.03" font-size="7.55" text-anchor="end" fill="#222">SbI</text><text x="490.95" y="238.40" font-size="7.55" text-anchor="end" fill="#222">BiI</text><path d="M474.04 235.78H480.24" stroke="#333" stroke-width="0.60" fill="none"/><path d="M481.44 235.78L479.44 234.68L479.44 236.88z" fill="#333"/><text x="472.04" y="238.40" font-size="7.55" text-anchor="end" fill="#222">SbBr</text><text x="490.95" y="250.77" font-size="7.55" text-anchor="end" fill="#222">SbI</text><path d="M471.52 248.15H477.72" stroke="#333" stroke-width="0.60" fill="none"/><path d="M478.92 248.15L476.92 247.05L476.92 249.25z" fill="#333"/><text x="469.52" y="250.77" font-size="7.55" text-anchor="end" fill="#222">SbBr</text><text x="490.95" y="263.13" font-size="7.55" text-anchor="end" fill="#222">BiBr</text><path d="M468.59 260.52H474.79" stroke="#333" stroke-width="0.60" fill="none"/><path d="M475.99 260.52L473.99 259.42L473.99 261.62z" fill="#333"/><text x="466.59" y="263.13" font-size="7.55" text-anchor="end" fill="#222">SbBr</text>
<rect x="493.40" y="278.70" width="12.65" height="12.75" fill="#e9e51b" shape-rendering="crispEdges"/><rect x="505.75" y="278.70" width="12.65" height="12.75" fill="#d8e21c" shape-rendering="crispEdges"/><rect x="518.09" y="278.70" width="12.65" height="12.75" fill="#98d83e" shape-rendering="crispEdges"/><rect x="530.44" y="278.70" width="12.65" height="12.75" fill="#3d4e8a" shape-rendering="crispEdges"/><rect x="542.78" y="278.70" width="12.65" height="12.75" fill="#440154" shape-rendering="crispEdges"/><rect x="555.13" y="278.70" width="12.65" height="12.75" fill="#2a788e" shape-rendering="crispEdges"/><rect x="567.47" y="278.70" width="12.65" height="12.75" fill="#433e85" shape-rendering="crispEdges"/><rect x="579.82" y="278.70" width="12.65" height="12.75" fill="#414487" shape-rendering="crispEdges"/><rect x="592.16" y="278.70" width="12.65" height="12.75" fill="#3b528b" shape-rendering="crispEdges"/><rect x="604.51" y="278.70" width="12.65" height="12.75" fill="#2a788e" shape-rendering="crispEdges"/><rect x="616.85" y="278.70" width="12.65" height="12.75" fill="#440154" shape-rendering="crispEdges"/><rect x="493.40" y="291.15" width="12.65" height="12.75" fill="#e9e51b" shape-rendering="crispEdges"/><rect x="505.75" y="291.15" width="12.65" height="12.75" fill="#27ad81" shape-rendering="crispEdges"/><rect x="518.09" y="291.15" width="12.65" height="12.75" fill="#440154" shape-rendering="crispEdges"/><rect x="530.44" y="291.15" width="12.65" height="12.75" fill="#440154" shape-rendering="crispEdges"/><rect x="542.78" y="291.15" width="12.65" height="12.75" fill="#440154" shape-rendering="crispEdges"/><rect x="555.13" y="291.15" width="12.65" height="12.75" fill="#440154" shape-rendering="crispEdges"/><rect x="567.47" y="291.15" width="12.65" height="12.75" fill="#440154" shape-rendering="crispEdges"/><rect x="579.82" y="291.15" width="12.65" height="12.75" fill="#440154" shape-rendering="crispEdges"/><rect x="592.16" y="291.15" width="12.65" height="12.75" fill="#440154" shape-rendering="crispEdges"/><rect x="604.51" y="291.15" width="12.65" height="12.75" fill="#440154" shape-rendering="crispEdges"/><rect x="616.85" y="291.15" width="12.65" height="12.75" fill="#9fda3a" shape-rendering="crispEdges"/><rect x="493.40" y="303.60" width="12.65" height="12.75" fill="#440154" shape-rendering="crispEdges"/><rect x="505.75" y="303.60" width="12.65" height="12.75" fill="#3b5a8b" shape-rendering="crispEdges"/><rect x="518.09" y="303.60" width="12.65" height="12.75" fill="#424186" shape-rendering="crispEdges"/><rect x="530.44" y="303.60" width="12.65" height="12.75" fill="#440154" shape-rendering="crispEdges"/><rect x="542.78" y="303.60" width="12.65" height="12.75" fill="#440154" shape-rendering="crispEdges"/><rect x="555.13" y="303.60" width="12.65" height="12.75" fill="#440154" shape-rendering="crispEdges"/><rect x="567.47" y="303.60" width="12.65" height="12.75" fill="#481c6e" shape-rendering="crispEdges"/><rect x="579.82" y="303.60" width="12.65" height="12.75" fill="#3b528b" shape-rendering="crispEdges"/><rect x="592.16" y="303.60" width="12.65" height="12.75" fill="#3b528b" shape-rendering="crispEdges"/><rect x="604.51" y="303.60" width="12.65" height="12.75" fill="#4ac16d" shape-rendering="crispEdges"/><rect x="616.85" y="303.60" width="12.65" height="12.75" fill="#a0da39" shape-rendering="crispEdges"/><rect x="493.40" y="316.05" width="12.65" height="12.75" fill="#440154" shape-rendering="crispEdges"/><rect x="505.75" y="316.05" width="12.65" height="12.75" fill="#35668d" shape-rendering="crispEdges"/><rect x="518.09" y="316.05" width="12.65" height="12.75" fill="#79d151" shape-rendering="crispEdges"/><rect x="530.44" y="316.05" width="12.65" height="12.75" fill="#2b7b8e" shape-rendering="crispEdges"/><rect x="542.78" y="316.05" width="12.65" height="12.75" fill="#3b528b" shape-rendering="crispEdges"/><rect x="555.13" y="316.05" width="12.65" height="12.75" fill="#3b528b" shape-rendering="crispEdges"/><rect x="567.47" y="316.05" width="12.65" height="12.75" fill="#433e85" shape-rendering="crispEdges"/><rect x="579.82" y="316.05" width="12.65" height="12.75" fill="#482173" shape-rendering="crispEdges"/><rect x="592.16" y="316.05" width="12.65" height="12.75" fill="#440154" shape-rendering="crispEdges"/><rect x="604.51" y="316.05" width="12.65" height="12.75" fill="#3b528b" shape-rendering="crispEdges"/><rect x="616.85" y="316.05" width="12.65" height="12.75" fill="#f0e51d" shape-rendering="crispEdges"/><rect x="493.40" y="328.50" width="12.65" height="12.75" fill="#440154" shape-rendering="crispEdges"/><rect x="505.75" y="328.50" width="12.65" height="12.75" fill="#5cc863" shape-rendering="crispEdges"/><rect x="518.09" y="328.50" width="12.65" height="12.75" fill="#24a884" shape-rendering="crispEdges"/><rect x="530.44" y="328.50" width="12.65" height="12.75" fill="#472f7d" shape-rendering="crispEdges"/><rect x="542.78" y="328.50" width="12.65" height="12.75" fill="#2d718e" shape-rendering="crispEdges"/><rect x="555.13" y="328.50" width="12.65" height="12.75" fill="#440154" shape-rendering="crispEdges"/><rect x="567.47" y="328.50" width="12.65" height="12.75" fill="#440154" shape-rendering="crispEdges"/><rect x="579.82" y="328.50" width="12.65" height="12.75" fill="#450559" shape-rendering="crispEdges"/><rect x="592.16" y="328.50" width="12.65" height="12.75" fill="#481a6c" shape-rendering="crispEdges"/><rect x="604.51" y="328.50" width="12.65" height="12.75" fill="#440154" shape-rendering="crispEdges"/><rect x="616.85" y="328.50" width="12.65" height="12.75" fill="#440154" shape-rendering="crispEdges"/><rect x="493.40" y="340.95" width="12.65" height="12.75" fill="#440154" shape-rendering="crispEdges"/><rect x="505.75" y="340.95" width="12.65" height="12.75" fill="#3e4a89" shape-rendering="crispEdges"/><rect x="518.09" y="340.95" width="12.65" height="12.75" fill="#46337e" shape-rendering="crispEdges"/><rect x="530.44" y="340.95" width="12.65" height="12.75" fill="#3d4d8a" shape-rendering="crispEdges"/><rect x="542.78" y="340.95" width="12.65" height="12.75" fill="#4ac16d" shape-rendering="crispEdges"/><rect x="555.13" y="340.95" width="12.65" height="12.75" fill="#7ad151" shape-rendering="crispEdges"/><rect x="567.47" y="340.95" width="12.65" height="12.75" fill="#4ac16d" shape-rendering="crispEdges"/><rect x="579.82" y="340.95" width="12.65" height="12.75" fill="#22a884" shape-rendering="crispEdges"/><rect x="592.16" y="340.95" width="12.65" height="12.75" fill="#21a685" shape-rendering="crispEdges"/><rect x="604.51" y="340.95" width="12.65" height="12.75" fill="#414487" shape-rendering="crispEdges"/><rect x="616.85" y="340.95" width="12.65" height="12.75" fill="#a0da39" shape-rendering="crispEdges"/><rect x="493.50" y="278.50" width="136.00" height="75.00" fill="none" stroke="#777" stroke-width="1.00"/><text x="490.95" y="287.64" font-size="7.55" text-anchor="end" fill="#222">SbI</text><path d="M471.52 285.03H477.72" stroke="#333" stroke-width="0.60" fill="none"/><path d="M478.92 285.03L476.92 283.93L476.92 286.13z" fill="#333"/><text x="469.52" y="287.64" font-size="7.55" text-anchor="end" fill="#222">BiI</text><text x="490.95" y="300.09" font-size="7.55" text-anchor="end" fill="#222">BiBr</text><path d="M468.59 297.48H474.79" stroke="#333" stroke-width="0.60" fill="none"/><path d="M475.99 297.48L473.99 296.38L473.99 298.58z" fill="#333"/><text x="466.59" y="300.09" font-size="7.55" text-anchor="end" fill="#222">BiI</text><text x="490.95" y="312.54" font-size="7.55" text-anchor="end" fill="#222">BiBr</text><path d="M468.59 309.93H474.79" stroke="#333" stroke-width="0.60" fill="none"/><path d="M475.99 309.93L473.99 308.82L473.99 311.03z" fill="#333"/><text x="466.59" y="312.54" font-size="7.55" text-anchor="end" fill="#222">SbI</text><text x="490.95" y="324.99" font-size="7.55" text-anchor="end" fill="#222">BiI</text><path d="M474.04 322.38H480.24" stroke="#333" stroke-width="0.60" fill="none"/><path d="M481.44 322.38L479.44 321.27L479.44 323.48z" fill="#333"/><text x="472.04" y="324.99" font-size="7.55" text-anchor="end" fill="#222">SbBr</text><text x="490.95" y="337.44" font-size="7.55" text-anchor="end" fill="#222">SbI</text><path d="M471.52 334.82H477.72" stroke="#333" stroke-width="0.60" fill="none"/><path d="M478.92 334.82L476.92 333.72L476.92 335.93z" fill="#333"/><text x="469.52" y="337.44" font-size="7.55" text-anchor="end" fill="#222">SbBr</text><text x="490.95" y="349.89" font-size="7.55" text-anchor="end" fill="#222">BiBr</text><path d="M468.59 347.27H474.79" stroke="#333" stroke-width="0.60" fill="none"/><path d="M475.99 347.27L473.99 346.17L473.99 348.38z" fill="#333"/><text x="466.59" y="349.89" font-size="7.55" text-anchor="end" fill="#222">SbBr</text>
<rect x="638.4" y="192.4" width="6.4" height="74.2" fill="url(#cbe)" stroke="#777" stroke-width="0.6"/>
<line x1="644.50" y1="266.50" x2="646.90" y2="266.50" stroke="#555" stroke-width="1.00"/><line x1="644.50" y1="229.50" x2="646.90" y2="229.50" stroke="#555" stroke-width="1.00"/><line x1="644.50" y1="192.50" x2="646.90" y2="192.50" stroke="#555" stroke-width="1.00"/>
<line x1="644.50" y1="248.50" x2="646.00" y2="248.50" stroke="#555" stroke-width="1.00"/><line x1="644.50" y1="210.50" x2="646.00" y2="210.50" stroke="#555" stroke-width="1.00"/>
<text x="648.70" y="269.40" font-size="7.60" text-anchor="start" fill="#333">2.0</text>
<text x="648.70" y="232.30" font-size="7.60" text-anchor="start" fill="#333">2.5</text>
<text x="648.70" y="195.20" font-size="7.60" text-anchor="start" fill="#333">3.0</text>
<text x="0.00" y="0.00" font-size="8.90" text-anchor="middle" fill="#333" transform="translate(669.6,229.3) rotate(90)">GSB peak (eV)</text>
<rect x="637.6" y="278.4" width="7.2" height="74.2" fill="url(#cbf)" stroke="#777" stroke-width="0.6"/>
<line x1="644.50" y1="278.50" x2="646.90" y2="278.50" stroke="#555" stroke-width="1.00"/><line x1="644.50" y1="315.50" x2="646.90" y2="315.50" stroke="#555" stroke-width="1.00"/><line x1="644.50" y1="352.50" x2="646.90" y2="352.50" stroke="#555" stroke-width="1.00"/>
<line x1="644.50" y1="341.50" x2="645.90" y2="341.50" stroke="#555" stroke-width="1.00"/><line x1="644.50" y1="334.50" x2="645.90" y2="334.50" stroke="#555" stroke-width="1.00"/><line x1="644.50" y1="330.50" x2="645.90" y2="330.50" stroke="#555" stroke-width="1.00"/><line x1="644.50" y1="326.50" x2="645.90" y2="326.50" stroke="#555" stroke-width="1.00"/><line x1="644.50" y1="323.50" x2="645.90" y2="323.50" stroke="#555" stroke-width="1.00"/><line x1="644.50" y1="321.50" x2="645.90" y2="321.50" stroke="#555" stroke-width="1.00"/><line x1="644.50" y1="319.50" x2="645.90" y2="319.50" stroke="#555" stroke-width="1.00"/><line x1="644.50" y1="317.50" x2="645.90" y2="317.50" stroke="#555" stroke-width="1.00"/><line x1="644.50" y1="304.50" x2="645.90" y2="304.50" stroke="#555" stroke-width="1.00"/><line x1="644.50" y1="297.50" x2="645.90" y2="297.50" stroke="#555" stroke-width="1.00"/><line x1="644.50" y1="293.50" x2="645.90" y2="293.50" stroke="#555" stroke-width="1.00"/><line x1="644.50" y1="289.50" x2="645.90" y2="289.50" stroke="#555" stroke-width="1.00"/><line x1="644.50" y1="286.50" x2="645.90" y2="286.50" stroke="#555" stroke-width="1.00"/><line x1="644.50" y1="284.50" x2="645.90" y2="284.50" stroke="#555" stroke-width="1.00"/><line x1="644.50" y1="281.50" x2="645.90" y2="281.50" stroke="#555" stroke-width="1.00"/><line x1="644.50" y1="280.50" x2="645.90" y2="280.50" stroke="#555" stroke-width="1.00"/>
<text x="648.6" y="281.30" font-size="7.9" fill="#333">10<tspan font-size="5.0" dy="-3.6">0</tspan></text>
<text x="648.6" y="318.40" font-size="7.9" fill="#333">10<tspan font-size="5.0" dy="-3.6">−1</tspan></text>
<text x="648.6" y="355.50" font-size="7.9" fill="#333">10<tspan font-size="5.0" dy="-3.6">−2</tspan></text>
<text x="0.00" y="0.00" font-size="8.90" text-anchor="middle" fill="#333" transform="translate(669.4,316.0) rotate(90)">GSB lifetime (ns)</text>
<text x="561.30" y="364.00" font-size="8.90" text-anchor="middle" fill="#333">Composition %</text></svg>
</body></html>
